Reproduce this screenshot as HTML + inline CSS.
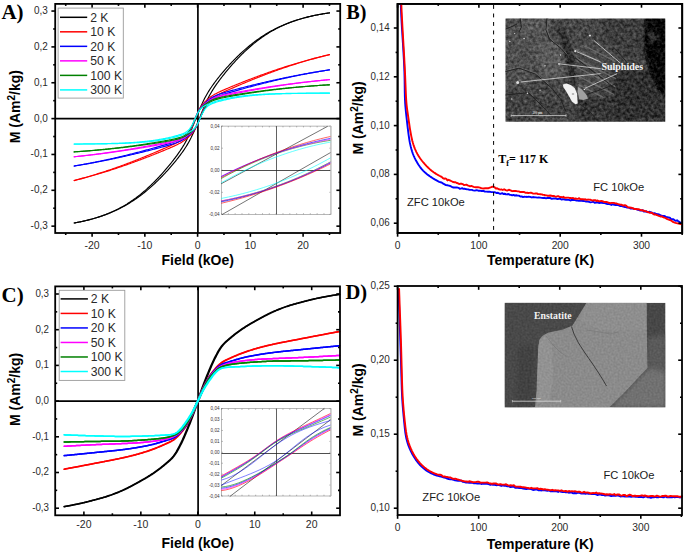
<!DOCTYPE html>
<html><head><meta charset="utf-8"><style>html,body{margin:0;padding:0;background:#fff;width:685px;height:553px;overflow:hidden}svg{display:block}</style></head><body>
<svg width="685" height="553" viewBox="0 0 685 553">
<rect width="685" height="553" fill="#fff"/>
<line x1="197.90" y1="3.90" x2="197.90" y2="233.00" stroke="#000" stroke-width="1.7" />
<line x1="55.20" y1="118.60" x2="340.20" y2="118.60" stroke="#000" stroke-width="1.7" />
<polyline points="74.16,222.99 75.02,222.84 75.87,222.68 76.73,222.52 77.58,222.35 78.43,222.19 79.29,222.02 80.14,221.84 81.00,221.66 81.85,221.48 82.70,221.29 83.56,221.10 84.41,220.91 85.27,220.71 86.12,220.51 86.97,220.30 87.83,220.09 88.68,219.87 89.53,219.65 90.39,219.42 91.24,219.19 92.10,218.96 92.95,218.72 93.80,218.47 94.66,218.22 95.51,217.97 96.37,217.71 97.22,217.44 98.07,217.17 98.93,216.89 99.78,216.61 100.64,216.32 101.49,216.02 102.34,215.72 103.20,215.41 104.05,215.10 104.90,214.78 105.76,214.45 106.61,214.12 107.47,213.78 108.32,213.44 109.17,213.08 110.03,212.72 110.88,212.35 111.74,211.98 112.59,211.60 113.44,211.21 114.30,210.81 115.15,210.41 116.01,209.99 116.86,209.57 117.71,209.14 118.57,208.71 119.42,208.26 120.27,207.81 121.13,207.35 121.98,206.88 122.84,206.40 123.69,205.91 124.54,205.41 125.40,204.91 126.25,204.39 127.11,203.87 127.96,203.33 128.81,202.79 129.67,202.24 130.52,201.67 131.37,201.10 132.23,200.52 133.08,199.93 133.94,199.33 134.79,198.72 135.64,198.09 136.50,197.46 137.35,196.82 138.21,196.17 139.06,195.51 139.91,194.83 140.77,194.15 141.62,193.45 142.48,192.75 143.33,192.03 144.18,191.31 145.04,190.57 145.89,189.82 146.74,189.07 147.60,188.30 148.45,187.52 149.31,186.73 150.16,185.93 151.01,185.11 151.87,184.29 152.72,183.46 153.58,182.62 154.43,181.76 155.28,180.90 156.14,180.02 156.99,179.14 157.85,178.24 158.70,177.33 159.55,176.42 160.41,175.49 161.26,174.55 162.11,173.60 162.97,172.65 163.82,171.68 164.68,170.70 165.53,169.71 166.38,168.71 167.24,167.70 168.09,166.68 168.95,165.65 169.80,164.61 170.65,163.55 171.51,162.49 172.36,161.41 173.22,160.32 174.07,159.21 174.92,158.09 175.78,156.95 176.63,155.80 177.48,154.62 178.34,153.43 179.19,152.20 180.05,150.96 180.90,149.68 181.75,148.36 182.61,147.01 183.46,145.61 184.32,144.17 185.17,142.67 186.02,141.11 186.88,139.49 187.73,137.81 188.58,136.05 189.44,134.21 190.29,132.30 191.15,130.32 192.00,128.26 192.85,126.15 193.71,123.98 194.56,121.78 195.42,119.55 196.27,118.02 197.12,115.79 197.98,113.59 198.83,111.42 199.69,109.31 200.54,107.26 201.39,105.28 202.25,103.37 203.10,101.54 203.95,99.79 204.81,98.11 205.66,96.49 206.52,94.95 207.37,93.46 208.22,92.03 209.08,90.65 209.93,89.31 210.79,88.01 211.64,86.75 212.49,85.52 213.35,84.32 214.20,83.14 215.06,81.99 215.91,80.86 216.76,79.75 217.62,78.65 218.47,77.57 219.32,76.51 220.18,75.46 221.03,74.42 221.89,73.40 222.74,72.38 223.59,71.38 224.45,70.39 225.30,69.41 226.16,68.44 227.01,67.48 227.86,66.53 228.72,65.60 229.57,64.67 230.42,63.75 231.28,62.84 232.13,61.94 232.99,61.05 233.84,60.17 234.69,59.30 235.55,58.44 236.40,57.59 237.26,56.74 238.11,55.91 238.96,55.09 239.82,54.28 240.67,53.48 241.53,52.68 242.38,51.90 243.23,51.13 244.09,50.36 244.94,49.61 245.79,48.87 246.65,48.13 247.50,47.41 248.36,46.69 249.21,45.98 250.06,45.29 250.92,44.60 251.77,43.93 252.63,43.26 253.48,42.60 254.33,41.95 255.19,41.31 256.04,40.68 256.90,40.06 257.75,39.45 258.60,38.85 259.46,38.25 260.31,37.67 261.16,37.09 262.02,36.53 262.87,35.97 263.73,35.42 264.58,34.88 265.43,34.35 266.29,33.82 267.14,33.31 268.00,32.80 268.85,32.31 269.70,31.82 270.56,31.33 271.41,30.86 272.27,30.39 273.12,29.94 273.97,29.49 274.83,29.05 275.68,28.61 276.53,28.18 277.39,27.76 278.24,27.35 279.10,26.95 279.95,26.55 280.80,26.16 281.66,25.78 282.51,25.40 283.37,25.03 284.22,24.67 285.07,24.31 285.93,23.96 286.78,23.62 287.63,23.28 288.49,22.95 289.34,22.63 290.20,22.31 291.05,22.00 291.90,21.69 292.76,21.39 293.61,21.09 294.47,20.81 295.32,20.52 296.17,20.24 297.03,19.97 297.88,19.71 298.74,19.44 299.59,19.19 300.44,18.94 301.30,18.69 302.15,18.45 303.00,18.21 303.86,17.98 304.71,17.75 305.57,17.53 306.42,17.31 307.27,17.10 308.13,16.89 308.98,16.68 309.84,16.48 310.69,16.28 311.54,16.09 312.40,15.90 313.25,15.72 314.11,15.53 314.96,15.36 315.81,15.18 316.67,15.01 317.52,14.85 318.37,14.68 319.23,14.52 320.08,14.37 320.94,14.21 321.79,14.06 322.64,13.92 323.50,13.77 324.35,13.63 325.21,13.50 326.06,13.36 326.91,13.23 327.77,13.10 328.62,12.98 329.48,12.85" fill="none" stroke="#000000" stroke-width="1.15" stroke-linejoin="round" stroke-linecap="round" />
<polyline points="74.16,223.00 75.02,222.85 75.87,222.69 76.73,222.54 77.58,222.37 78.43,222.21 79.29,222.04 80.14,221.86 81.00,221.69 81.85,221.51 82.70,221.32 83.56,221.13 84.41,220.94 85.27,220.74 86.12,220.54 86.97,220.34 87.83,220.13 88.68,219.92 89.53,219.70 90.39,219.48 91.24,219.25 92.10,219.02 92.95,218.78 93.80,218.54 94.66,218.29 95.51,218.04 96.37,217.79 97.22,217.53 98.07,217.26 98.93,216.99 99.78,216.71 100.64,216.43 101.49,216.14 102.34,215.85 103.20,215.55 104.05,215.24 104.90,214.93 105.76,214.61 106.61,214.29 107.47,213.96 108.32,213.62 109.17,213.28 110.03,212.93 110.88,212.57 111.74,212.21 112.59,211.84 113.44,211.47 114.30,211.09 115.15,210.70 116.01,210.30 116.86,209.90 117.71,209.48 118.57,209.07 119.42,208.64 120.27,208.21 121.13,207.76 121.98,207.32 122.84,206.86 123.69,206.39 124.54,205.92 125.40,205.44 126.25,204.95 127.11,204.45 127.96,203.95 128.81,203.44 129.67,202.91 130.52,202.38 131.37,201.84 132.23,201.30 133.08,200.74 133.94,200.17 134.79,199.60 135.64,199.02 136.50,198.42 137.35,197.82 138.21,197.21 139.06,196.59 139.91,195.96 140.77,195.32 141.62,194.68 142.48,194.02 143.33,193.35 144.18,192.68 145.04,191.99 145.89,191.30 146.74,190.59 147.60,189.88 148.45,189.15 149.31,188.42 150.16,187.68 151.01,186.92 151.87,186.16 152.72,185.39 153.58,184.61 154.43,183.82 155.28,183.01 156.14,182.20 156.99,181.38 157.85,180.55 158.70,179.71 159.55,178.86 160.41,178.00 161.26,177.13 162.11,176.25 162.97,175.37 163.82,174.47 164.68,173.56 165.53,172.64 166.38,171.71 167.24,170.77 168.09,169.83 168.95,168.87 169.80,167.90 170.65,166.92 171.51,165.93 172.36,164.93 173.22,163.92 174.07,162.90 174.92,161.86 175.78,160.81 176.63,159.75 177.48,158.67 178.34,157.58 179.19,156.47 180.05,155.34 180.90,154.19 181.75,153.02 182.61,151.82 183.46,150.59 184.32,149.34 185.17,148.04 186.02,146.71 186.88,145.33 187.73,143.91 188.58,142.43 189.44,140.89 190.29,139.28 191.15,137.61 192.00,135.86 192.85,134.04 193.71,132.15 194.56,130.17 195.42,128.13 196.27,126.02 197.12,123.86 197.98,121.66 198.83,119.44 199.69,117.91 200.54,115.68 201.39,113.47 202.25,111.30 203.10,109.18 203.95,107.12 204.81,105.13 205.66,103.21 206.52,101.36 207.37,99.59 208.22,97.90 209.08,96.27 209.93,94.71 210.79,93.20 211.64,91.75 212.49,90.35 213.35,88.99 214.20,87.67 215.06,86.39 215.91,85.14 216.76,83.91 217.62,82.71 218.47,81.54 219.32,80.38 220.18,79.24 221.03,78.12 221.89,77.01 222.74,75.92 223.59,74.84 224.45,73.77 225.30,72.71 226.16,71.67 227.01,70.64 227.86,69.62 228.72,68.61 229.57,67.61 230.42,66.62 231.28,65.64 232.13,64.67 232.99,63.71 233.84,62.76 234.69,61.82 235.55,60.89 236.40,59.97 237.26,59.07 238.11,58.17 238.96,57.28 239.82,56.40 240.67,55.54 241.53,54.68 242.38,53.84 243.23,53.00 244.09,52.18 244.94,51.37 245.79,50.57 246.65,49.77 247.50,48.99 248.36,48.22 249.21,47.46 250.06,46.71 250.92,45.98 251.77,45.25 252.63,44.53 253.48,43.83 254.33,43.13 255.19,42.45 256.04,41.77 256.90,41.11 257.75,40.45 258.60,39.81 259.46,39.18 260.31,38.56 261.16,37.94 262.02,37.34 262.87,36.75 263.73,36.16 264.58,35.59 265.43,35.03 266.29,34.47 267.14,33.93 268.00,33.40 268.85,32.87 269.70,32.35 270.56,31.85 271.41,31.35 272.27,30.86 273.12,30.38 273.97,29.91 274.83,29.45 275.68,28.99 276.53,28.54 277.39,28.11 278.24,27.68 279.10,27.26 279.95,26.84 280.80,26.44 281.66,26.04 282.51,25.65 283.37,25.26 284.22,24.89 285.07,24.52 285.93,24.16 286.78,23.81 287.63,23.46 288.49,23.12 289.34,22.78 290.20,22.46 291.05,22.14 291.90,21.82 292.76,21.51 293.61,21.21 294.47,20.92 295.32,20.63 296.17,20.34 297.03,20.06 297.88,19.79 298.74,19.52 299.59,19.26 300.44,19.01 301.30,18.76 302.15,18.51 303.00,18.27 303.86,18.03 304.71,17.80 305.57,17.58 306.42,17.35 307.27,17.14 308.13,16.93 308.98,16.72 309.84,16.51 310.69,16.31 311.54,16.12 312.40,15.93 313.25,15.74 314.11,15.56 314.96,15.38 315.81,15.20 316.67,15.03 317.52,14.86 318.37,14.70 319.23,14.54 320.08,14.38 320.94,14.23 321.79,14.08 322.64,13.93 323.50,13.79 324.35,13.64 325.21,13.51 326.06,13.37 326.91,13.24 327.77,13.11 328.62,12.98 329.48,12.86" fill="none" stroke="#000000" stroke-width="1.15" stroke-linejoin="round" stroke-linecap="round" />
<polyline points="74.16,180.44 75.02,180.22 75.87,179.99 76.73,179.77 77.58,179.55 78.43,179.32 79.29,179.09 80.14,178.86 81.00,178.63 81.85,178.40 82.70,178.17 83.56,177.93 84.41,177.69 85.27,177.45 86.12,177.21 86.97,176.97 87.83,176.72 88.68,176.48 89.53,176.23 90.39,175.98 91.24,175.73 92.10,175.48 92.95,175.22 93.80,174.97 94.66,174.71 95.51,174.45 96.37,174.19 97.22,173.92 98.07,173.66 98.93,173.39 99.78,173.12 100.64,172.85 101.49,172.58 102.34,172.31 103.20,172.04 104.05,171.76 104.90,171.48 105.76,171.20 106.61,170.92 107.47,170.64 108.32,170.35 109.17,170.06 110.03,169.78 110.88,169.48 111.74,169.19 112.59,168.90 113.44,168.60 114.30,168.31 115.15,168.01 116.01,167.71 116.86,167.41 117.71,167.10 118.57,166.80 119.42,166.49 120.27,166.19 121.13,165.88 121.98,165.56 122.84,165.25 123.69,164.94 124.54,164.62 125.40,164.30 126.25,163.99 127.11,163.66 127.96,163.34 128.81,163.02 129.67,162.69 130.52,162.37 131.37,162.04 132.23,161.71 133.08,161.38 133.94,161.05 134.79,160.71 135.64,160.38 136.50,160.04 137.35,159.70 138.21,159.37 139.06,159.02 139.91,158.68 140.77,158.34 141.62,158.00 142.48,157.65 143.33,157.30 144.18,156.96 145.04,156.61 145.89,156.26 146.74,155.90 147.60,155.55 148.45,155.20 149.31,154.84 150.16,154.49 151.01,154.13 151.87,153.77 152.72,153.41 153.58,153.05 154.43,152.69 155.28,152.33 156.14,151.96 156.99,151.60 157.85,151.24 158.70,150.87 159.55,150.50 160.41,150.13 161.26,149.76 162.11,149.39 162.97,149.02 163.82,148.65 164.68,148.28 165.53,147.90 166.38,147.52 167.24,147.15 168.09,146.77 168.95,146.39 169.80,146.00 170.65,145.61 171.51,145.23 172.36,144.83 173.22,144.43 174.07,144.03 174.92,143.62 175.78,143.21 176.63,142.78 177.48,142.35 178.34,141.90 179.19,141.44 180.05,140.96 180.90,140.46 181.75,139.93 182.61,139.37 183.46,138.77 184.32,138.11 185.17,137.39 186.02,136.58 186.88,135.68 187.73,134.65 188.58,133.48 189.44,132.14 190.29,130.63 191.15,128.93 192.00,127.04 192.85,124.99 193.71,122.81 194.56,120.56 195.42,118.28 196.27,116.05 197.12,113.92 197.98,111.94 198.83,110.13 199.69,108.52 200.54,107.10 201.39,105.85 202.25,104.73 203.10,103.73 203.95,102.80 204.81,101.94 205.66,101.11 206.52,100.32 207.37,99.56 208.22,98.83 209.08,98.13 209.93,97.46 210.79,96.83 211.64,96.23 212.49,95.66 213.35,95.12 214.20,94.61 215.06,94.12 215.91,93.65 216.76,93.20 217.62,92.77 218.47,92.35 219.32,91.94 220.18,91.53 221.03,91.14 221.89,90.75 222.74,90.37 223.59,89.99 224.45,89.62 225.30,89.25 226.16,88.88 227.01,88.52 227.86,88.16 228.72,87.80 229.57,87.44 230.42,87.08 231.28,86.73 232.13,86.38 232.99,86.03 233.84,85.68 234.69,85.33 235.55,84.98 236.40,84.63 237.26,84.29 238.11,83.94 238.96,83.60 239.82,83.26 240.67,82.92 241.53,82.58 242.38,82.24 243.23,81.90 244.09,81.57 244.94,81.23 245.79,80.90 246.65,80.57 247.50,80.24 248.36,79.91 249.21,79.58 250.06,79.25 250.92,78.92 251.77,78.60 252.63,78.27 253.48,77.95 254.33,77.63 255.19,77.31 256.04,76.99 256.90,76.67 257.75,76.35 258.60,76.04 259.46,75.72 260.31,75.41 261.16,75.10 262.02,74.79 262.87,74.48 263.73,74.17 264.58,73.86 265.43,73.56 266.29,73.25 267.14,72.95 268.00,72.65 268.85,72.35 269.70,72.05 270.56,71.75 271.41,71.45 272.27,71.16 273.12,70.87 273.97,70.57 274.83,70.28 275.68,69.99 276.53,69.70 277.39,69.42 278.24,69.13 279.10,68.85 279.95,68.56 280.80,68.28 281.66,68.00 282.51,67.72 283.37,67.45 284.22,67.17 285.07,66.89 285.93,66.62 286.78,66.35 287.63,66.08 288.49,65.81 289.34,65.54 290.20,65.28 291.05,65.01 291.90,64.75 292.76,64.49 293.61,64.22 294.47,63.97 295.32,63.71 296.17,63.45 297.03,63.20 297.88,62.94 298.74,62.69 299.59,62.44 300.44,62.19 301.30,61.94 302.15,61.70 303.00,61.45 303.86,61.21 304.71,60.97 305.57,60.73 306.42,60.49 307.27,60.25 308.13,60.02 308.98,59.78 309.84,59.55 310.69,59.32 311.54,59.09 312.40,58.86 313.25,58.63 314.11,58.40 314.96,58.18 315.81,57.96 316.67,57.73 317.52,57.51 318.37,57.30 319.23,57.08 320.08,56.86 320.94,56.65 321.79,56.44 322.64,56.22 323.50,56.01 324.35,55.81 325.21,55.60 326.06,55.39 326.91,55.19 327.77,54.99 328.62,54.78 329.48,54.58" fill="none" stroke="#ff0000" stroke-width="1.15" stroke-linejoin="round" stroke-linecap="round" />
<polyline points="74.16,180.58 75.02,180.36 75.87,180.15 76.73,179.93 77.58,179.71 78.43,179.49 79.29,179.27 80.14,179.05 81.00,178.82 81.85,178.60 82.70,178.37 83.56,178.14 84.41,177.91 85.27,177.68 86.12,177.45 86.97,177.21 87.83,176.98 88.68,176.74 89.53,176.50 90.39,176.26 91.24,176.02 92.10,175.77 92.95,175.53 93.80,175.28 94.66,175.04 95.51,174.79 96.37,174.54 97.22,174.29 98.07,174.03 98.93,173.78 99.78,173.52 100.64,173.26 101.49,173.01 102.34,172.74 103.20,172.48 104.05,172.22 104.90,171.95 105.76,171.69 106.61,171.42 107.47,171.15 108.32,170.88 109.17,170.61 110.03,170.34 110.88,170.06 111.74,169.79 112.59,169.51 113.44,169.23 114.30,168.95 115.15,168.67 116.01,168.39 116.86,168.10 117.71,167.82 118.57,167.53 119.42,167.24 120.27,166.95 121.13,166.66 121.98,166.37 122.84,166.08 123.69,165.78 124.54,165.48 125.40,165.19 126.25,164.89 127.11,164.59 127.96,164.29 128.81,163.98 129.67,163.68 130.52,163.37 131.37,163.07 132.23,162.76 133.08,162.45 133.94,162.14 134.79,161.83 135.64,161.51 136.50,161.20 137.35,160.88 138.21,160.57 139.06,160.25 139.91,159.93 140.77,159.61 141.62,159.29 142.48,158.96 143.33,158.64 144.18,158.31 145.04,157.99 145.89,157.66 146.74,157.33 147.60,157.00 148.45,156.67 149.31,156.34 150.16,156.01 151.01,155.67 151.87,155.33 152.72,155.00 153.58,154.66 154.43,154.32 155.28,153.98 156.14,153.64 156.99,153.30 157.85,152.95 158.70,152.61 159.55,152.26 160.41,151.91 161.26,151.57 162.11,151.22 162.97,150.86 163.82,150.51 164.68,150.16 165.53,149.80 166.38,149.44 167.24,149.08 168.09,148.72 168.95,148.36 169.80,147.99 170.65,147.62 171.51,147.25 172.36,146.87 173.22,146.49 174.07,146.11 174.92,145.71 175.78,145.31 176.63,144.90 177.48,144.48 178.34,144.05 179.19,143.60 180.05,143.14 180.90,142.65 181.75,142.14 182.61,141.61 183.46,141.04 184.32,140.45 185.17,139.82 186.02,139.15 186.88,138.45 187.73,137.72 188.58,136.97 189.44,136.18 190.29,135.36 191.15,134.50 192.00,133.58 192.85,132.59 193.71,131.49 194.56,130.25 195.42,128.85 196.27,127.26 197.12,125.48 197.98,123.52 198.83,121.40 199.69,119.18 200.54,116.90 201.39,114.64 202.25,112.45 203.10,110.39 203.95,108.48 204.81,106.76 205.66,105.22 206.52,103.87 207.37,102.68 208.22,101.63 209.08,100.72 209.93,99.90 210.79,99.17 211.64,98.51 212.49,97.90 213.35,97.33 214.20,96.80 215.06,96.29 215.91,95.81 216.76,95.35 217.62,94.90 218.47,94.46 219.32,94.04 220.18,93.62 221.03,93.21 221.89,92.81 222.74,92.41 223.59,92.02 224.45,91.63 225.30,91.24 226.16,90.86 227.01,90.48 227.86,90.10 228.72,89.72 229.57,89.34 230.42,88.97 231.28,88.59 232.13,88.22 232.99,87.85 233.84,87.48 234.69,87.11 235.55,86.74 236.40,86.37 237.26,86.01 238.11,85.64 238.96,85.28 239.82,84.91 240.67,84.55 241.53,84.19 242.38,83.83 243.23,83.47 244.09,83.11 244.94,82.75 245.79,82.40 246.65,82.04 247.50,81.69 248.36,81.34 249.21,80.99 250.06,80.63 250.92,80.29 251.77,79.94 252.63,79.59 253.48,79.24 254.33,78.90 255.19,78.56 256.04,78.21 256.90,77.87 257.75,77.53 258.60,77.20 259.46,76.86 260.31,76.53 261.16,76.19 262.02,75.86 262.87,75.53 263.73,75.20 264.58,74.87 265.43,74.54 266.29,74.22 267.14,73.89 268.00,73.57 268.85,73.25 269.70,72.93 270.56,72.62 271.41,72.30 272.27,71.98 273.12,71.67 273.97,71.36 274.83,71.05 275.68,70.74 276.53,70.44 277.39,70.13 278.24,69.83 279.10,69.53 279.95,69.22 280.80,68.93 281.66,68.63 282.51,68.33 283.37,68.04 284.22,67.75 285.07,67.46 285.93,67.17 286.78,66.88 287.63,66.60 288.49,66.31 289.34,66.03 290.20,65.75 291.05,65.47 291.90,65.20 292.76,64.92 293.61,64.65 294.47,64.38 295.32,64.11 296.17,63.84 297.03,63.57 297.88,63.31 298.74,63.04 299.59,62.78 300.44,62.52 301.30,62.26 302.15,62.01 303.00,61.75 303.86,61.50 304.71,61.25 305.57,61.00 306.42,60.75 307.27,60.50 308.13,60.26 308.98,60.02 309.84,59.78 310.69,59.54 311.54,59.30 312.40,59.06 313.25,58.83 314.11,58.59 314.96,58.36 315.81,58.13 316.67,57.91 317.52,57.68 318.37,57.45 319.23,57.23 320.08,57.01 320.94,56.79 321.79,56.57 322.64,56.35 323.50,56.14 324.35,55.93 325.21,55.71 326.06,55.50 326.91,55.30 327.77,55.09 328.62,54.88 329.48,54.68" fill="none" stroke="#ff0000" stroke-width="1.15" stroke-linejoin="round" stroke-linecap="round" />
<polyline points="74.16,165.97 75.02,165.82 75.87,165.68 76.73,165.54 77.58,165.39 78.43,165.24 79.29,165.10 80.14,164.95 81.00,164.80 81.85,164.65 82.70,164.49 83.56,164.34 84.41,164.19 85.27,164.03 86.12,163.88 86.97,163.72 87.83,163.56 88.68,163.40 89.53,163.24 90.39,163.08 91.24,162.91 92.10,162.75 92.95,162.58 93.80,162.41 94.66,162.25 95.51,162.08 96.37,161.91 97.22,161.74 98.07,161.56 98.93,161.39 99.78,161.22 100.64,161.04 101.49,160.86 102.34,160.68 103.20,160.50 104.05,160.32 104.90,160.14 105.76,159.96 106.61,159.78 107.47,159.59 108.32,159.40 109.17,159.22 110.03,159.03 110.88,158.84 111.74,158.65 112.59,158.46 113.44,158.26 114.30,158.07 115.15,157.87 116.01,157.68 116.86,157.48 117.71,157.28 118.57,157.08 119.42,156.88 120.27,156.68 121.13,156.48 121.98,156.27 122.84,156.07 123.69,155.86 124.54,155.66 125.40,155.45 126.25,155.24 127.11,155.03 127.96,154.82 128.81,154.60 129.67,154.39 130.52,154.18 131.37,153.96 132.23,153.75 133.08,153.53 133.94,153.31 134.79,153.09 135.64,152.87 136.50,152.65 137.35,152.43 138.21,152.21 139.06,151.98 139.91,151.76 140.77,151.53 141.62,151.31 142.48,151.08 143.33,150.85 144.18,150.62 145.04,150.39 145.89,150.16 146.74,149.93 147.60,149.70 148.45,149.47 149.31,149.23 150.16,149.00 151.01,148.76 151.87,148.53 152.72,148.29 153.58,148.05 154.43,147.82 155.28,147.58 156.14,147.34 156.99,147.10 157.85,146.85 158.70,146.61 159.55,146.37 160.41,146.13 161.26,145.88 162.11,145.63 162.97,145.39 163.82,145.14 164.68,144.89 165.53,144.64 166.38,144.38 167.24,144.13 168.09,143.87 168.95,143.61 169.80,143.35 170.65,143.08 171.51,142.81 172.36,142.53 173.22,142.25 174.07,141.96 174.92,141.66 175.78,141.36 176.63,141.04 177.48,140.70 178.34,140.35 179.19,139.99 180.05,139.59 180.90,139.18 181.75,138.72 182.61,138.23 183.46,137.69 184.32,137.10 185.17,136.43 186.02,135.67 186.88,134.81 187.73,133.83 188.58,132.70 189.44,131.41 190.29,129.94 191.15,128.30 192.00,126.48 192.85,124.52 193.71,122.44 194.56,120.30 195.42,118.15 196.27,116.06 197.12,114.08 197.98,112.26 198.83,110.60 199.69,109.14 200.54,107.85 201.39,106.71 202.25,105.70 203.10,104.78 203.95,103.92 204.81,103.11 205.66,102.34 206.52,101.59 207.37,100.87 208.22,100.18 209.08,99.52 209.93,98.90 210.79,98.32 211.64,97.77 212.49,97.27 213.35,96.80 214.20,96.36 215.06,95.95 215.91,95.57 216.76,95.21 217.62,94.87 218.47,94.55 219.32,94.24 220.18,93.94 221.03,93.65 221.89,93.37 222.74,93.10 223.59,92.84 224.45,92.58 225.30,92.33 226.16,92.07 227.01,91.83 227.86,91.58 228.72,91.34 229.57,91.10 230.42,90.87 231.28,90.63 232.13,90.40 232.99,90.17 233.84,89.94 234.69,89.71 235.55,89.48 236.40,89.26 237.26,89.03 238.11,88.81 238.96,88.58 239.82,88.36 240.67,88.14 241.53,87.92 242.38,87.70 243.23,87.48 244.09,87.26 244.94,87.04 245.79,86.82 246.65,86.61 247.50,86.39 248.36,86.18 249.21,85.96 250.06,85.75 250.92,85.54 251.77,85.33 252.63,85.12 253.48,84.91 254.33,84.70 255.19,84.49 256.04,84.29 256.90,84.08 257.75,83.87 258.60,83.67 259.46,83.47 260.31,83.26 261.16,83.06 262.02,82.86 262.87,82.66 263.73,82.46 264.58,82.26 265.43,82.06 266.29,81.87 267.14,81.67 268.00,81.47 268.85,81.28 269.70,81.09 270.56,80.89 271.41,80.70 272.27,80.51 273.12,80.32 273.97,80.13 274.83,79.94 275.68,79.75 276.53,79.57 277.39,79.38 278.24,79.20 279.10,79.01 279.95,78.83 280.80,78.65 281.66,78.47 282.51,78.29 283.37,78.11 284.22,77.93 285.07,77.75 285.93,77.58 286.78,77.40 287.63,77.23 288.49,77.05 289.34,76.88 290.20,76.71 291.05,76.54 291.90,76.36 292.76,76.20 293.61,76.03 294.47,75.86 295.32,75.69 296.17,75.53 297.03,75.36 297.88,75.20 298.74,75.04 299.59,74.88 300.44,74.71 301.30,74.55 302.15,74.40 303.00,74.24 303.86,74.08 304.71,73.92 305.57,73.77 306.42,73.62 307.27,73.46 308.13,73.31 308.98,73.16 309.84,73.01 310.69,72.86 311.54,72.71 312.40,72.56 313.25,72.42 314.11,72.27 314.96,72.13 315.81,71.98 316.67,71.84 317.52,71.70 318.37,71.56 319.23,71.42 320.08,71.28 320.94,71.14 321.79,71.00 322.64,70.87 323.50,70.73 324.35,70.60 325.21,70.46 326.06,70.33 326.91,70.20 327.77,70.07 328.62,69.94 329.48,69.81" fill="none" stroke="#0000ff" stroke-width="1.15" stroke-linejoin="round" stroke-linecap="round" />
<polyline points="74.16,166.08 75.02,165.94 75.87,165.80 76.73,165.66 77.58,165.52 78.43,165.38 79.29,165.23 80.14,165.09 81.00,164.95 81.85,164.80 82.70,164.65 83.56,164.51 84.41,164.36 85.27,164.21 86.12,164.06 86.97,163.91 87.83,163.76 88.68,163.60 89.53,163.45 90.39,163.29 91.24,163.14 92.10,162.98 92.95,162.82 93.80,162.66 94.66,162.50 95.51,162.34 96.37,162.18 97.22,162.02 98.07,161.86 98.93,161.69 99.78,161.53 100.64,161.36 101.49,161.19 102.34,161.02 103.20,160.85 104.05,160.68 104.90,160.51 105.76,160.34 106.61,160.17 107.47,160.00 108.32,159.82 109.17,159.64 110.03,159.47 110.88,159.29 111.74,159.11 112.59,158.93 113.44,158.75 114.30,158.57 115.15,158.39 116.01,158.21 116.86,158.02 117.71,157.84 118.57,157.65 119.42,157.47 120.27,157.28 121.13,157.09 121.98,156.90 122.84,156.71 123.69,156.52 124.54,156.33 125.40,156.14 126.25,155.94 127.11,155.75 127.96,155.55 128.81,155.36 129.67,155.16 130.52,154.96 131.37,154.76 132.23,154.56 133.08,154.36 133.94,154.16 134.79,153.96 135.64,153.76 136.50,153.55 137.35,153.35 138.21,153.14 139.06,152.94 139.91,152.73 140.77,152.52 141.62,152.32 142.48,152.11 143.33,151.90 144.18,151.68 145.04,151.47 145.89,151.26 146.74,151.05 147.60,150.83 148.45,150.62 149.31,150.40 150.16,150.18 151.01,149.97 151.87,149.75 152.72,149.53 153.58,149.31 154.43,149.09 155.28,148.87 156.14,148.64 156.99,148.42 157.85,148.20 158.70,147.97 159.55,147.74 160.41,147.52 161.26,147.29 162.11,147.06 162.97,146.83 163.82,146.59 164.68,146.36 165.53,146.12 166.38,145.88 167.24,145.64 168.09,145.40 168.95,145.15 169.80,144.90 170.65,144.65 171.51,144.39 172.36,144.13 173.22,143.86 174.07,143.58 174.92,143.29 175.78,143.00 176.63,142.69 177.48,142.37 178.34,142.03 179.19,141.67 180.05,141.29 180.90,140.89 181.75,140.45 182.61,139.99 183.46,139.49 184.32,138.95 185.17,138.37 186.02,137.75 186.88,137.10 187.73,136.41 188.58,135.69 189.44,134.95 190.29,134.18 191.15,133.37 192.00,132.53 192.85,131.61 193.71,130.61 194.56,129.49 195.42,128.22 196.27,126.77 197.12,125.15 197.98,123.34 198.83,121.37 199.69,119.29 200.54,117.15 201.39,115.01 202.25,112.92 203.10,110.94 203.95,109.10 204.81,107.44 205.66,105.95 206.52,104.64 207.37,103.49 208.22,102.49 209.08,101.62 209.93,100.85 210.79,100.18 211.64,99.57 212.49,99.03 213.35,98.53 214.20,98.07 215.06,97.65 215.91,97.26 216.76,96.89 217.62,96.54 218.47,96.20 219.32,95.88 220.18,95.57 221.03,95.27 221.89,94.98 222.74,94.70 223.59,94.42 224.45,94.15 225.30,93.88 226.16,93.62 227.01,93.36 227.86,93.10 228.72,92.84 229.57,92.59 230.42,92.34 231.28,92.09 232.13,91.84 232.99,91.59 233.84,91.35 234.69,91.10 235.55,90.86 236.40,90.62 237.26,90.37 238.11,90.13 238.96,89.89 239.82,89.65 240.67,89.41 241.53,89.17 242.38,88.94 243.23,88.70 244.09,88.46 244.94,88.23 245.79,87.99 246.65,87.76 247.50,87.53 248.36,87.30 249.21,87.06 250.06,86.83 250.92,86.60 251.77,86.38 252.63,86.15 253.48,85.92 254.33,85.69 255.19,85.47 256.04,85.24 256.90,85.02 257.75,84.80 258.60,84.58 259.46,84.35 260.31,84.13 261.16,83.91 262.02,83.70 262.87,83.48 263.73,83.26 264.58,83.05 265.43,82.83 266.29,82.62 267.14,82.41 268.00,82.20 268.85,81.99 269.70,81.78 270.56,81.57 271.41,81.36 272.27,81.15 273.12,80.95 273.97,80.75 274.83,80.54 275.68,80.34 276.53,80.14 277.39,79.94 278.24,79.74 279.10,79.54 279.95,79.35 280.80,79.15 281.66,78.96 282.51,78.77 283.37,78.57 284.22,78.38 285.07,78.19 285.93,78.00 286.78,77.82 287.63,77.63 288.49,77.45 289.34,77.26 290.20,77.08 291.05,76.90 291.90,76.72 292.76,76.54 293.61,76.36 294.47,76.18 295.32,76.00 296.17,75.83 297.03,75.66 297.88,75.48 298.74,75.31 299.59,75.14 300.44,74.97 301.30,74.80 302.15,74.64 303.00,74.47 303.86,74.31 304.71,74.14 305.57,73.98 306.42,73.82 307.27,73.66 308.13,73.50 308.98,73.34 309.84,73.19 310.69,73.03 311.54,72.88 312.40,72.72 313.25,72.57 314.11,72.42 314.96,72.27 315.81,72.12 316.67,71.97 317.52,71.83 318.37,71.68 319.23,71.54 320.08,71.39 320.94,71.25 321.79,71.11 322.64,70.97 323.50,70.83 324.35,70.69 325.21,70.55 326.06,70.42 326.91,70.28 327.77,70.15 328.62,70.02 329.48,69.88" fill="none" stroke="#0000ff" stroke-width="1.15" stroke-linejoin="round" stroke-linecap="round" />
<polyline points="74.16,156.73 75.02,156.64 75.87,156.55 76.73,156.46 77.58,156.37 78.43,156.28 79.29,156.19 80.14,156.09 81.00,156.00 81.85,155.90 82.70,155.81 83.56,155.71 84.41,155.61 85.27,155.52 86.12,155.42 86.97,155.32 87.83,155.22 88.68,155.11 89.53,155.01 90.39,154.91 91.24,154.80 92.10,154.70 92.95,154.59 93.80,154.49 94.66,154.38 95.51,154.27 96.37,154.16 97.22,154.05 98.07,153.94 98.93,153.83 99.78,153.71 100.64,153.60 101.49,153.49 102.34,153.37 103.20,153.25 104.05,153.14 104.90,153.02 105.76,152.90 106.61,152.78 107.47,152.66 108.32,152.54 109.17,152.41 110.03,152.29 110.88,152.17 111.74,152.04 112.59,151.92 113.44,151.79 114.30,151.66 115.15,151.53 116.01,151.40 116.86,151.27 117.71,151.14 118.57,151.01 119.42,150.88 120.27,150.74 121.13,150.61 121.98,150.47 122.84,150.34 123.69,150.20 124.54,150.06 125.40,149.92 126.25,149.78 127.11,149.64 127.96,149.50 128.81,149.36 129.67,149.21 130.52,149.07 131.37,148.93 132.23,148.78 133.08,148.63 133.94,148.49 134.79,148.34 135.64,148.19 136.50,148.04 137.35,147.89 138.21,147.74 139.06,147.59 139.91,147.44 140.77,147.29 141.62,147.13 142.48,146.98 143.33,146.82 144.18,146.67 145.04,146.51 145.89,146.35 146.74,146.20 147.60,146.04 148.45,145.88 149.31,145.72 150.16,145.56 151.01,145.40 151.87,145.24 152.72,145.07 153.58,144.91 154.43,144.75 155.28,144.58 156.14,144.42 156.99,144.25 157.85,144.08 158.70,143.92 159.55,143.75 160.41,143.58 161.26,143.41 162.11,143.24 162.97,143.06 163.82,142.89 164.68,142.71 165.53,142.54 166.38,142.36 167.24,142.17 168.09,141.99 168.95,141.80 169.80,141.61 170.65,141.41 171.51,141.21 172.36,141.00 173.22,140.79 174.07,140.57 174.92,140.34 175.78,140.10 176.63,139.84 177.48,139.57 178.34,139.28 179.19,138.97 180.05,138.64 180.90,138.28 181.75,137.88 182.61,137.44 183.46,136.95 184.32,136.40 185.17,135.78 186.02,135.07 186.88,134.25 187.73,133.31 188.58,132.22 189.44,130.98 190.29,129.56 191.15,127.97 192.00,126.21 192.85,124.31 193.71,122.30 194.56,120.24 195.42,118.18 196.27,116.18 197.12,114.28 197.98,112.55 198.83,110.99 199.69,109.61 200.54,108.40 201.39,107.34 202.25,106.39 203.10,105.54 203.95,104.74 204.81,103.99 205.66,103.26 206.52,102.56 207.37,101.88 208.22,101.23 209.08,100.62 209.93,100.04 210.79,99.50 211.64,99.00 212.49,98.54 213.35,98.12 214.20,97.73 215.06,97.38 215.91,97.05 216.76,96.74 217.62,96.46 218.47,96.20 219.32,95.95 220.18,95.71 221.03,95.49 221.89,95.28 222.74,95.07 223.59,94.87 224.45,94.68 225.30,94.49 226.16,94.31 227.01,94.13 227.86,93.96 228.72,93.78 229.57,93.62 230.42,93.45 231.28,93.28 232.13,93.12 232.99,92.96 233.84,92.80 234.69,92.64 235.55,92.48 236.40,92.32 237.26,92.17 238.11,92.01 238.96,91.86 239.82,91.71 240.67,91.55 241.53,91.40 242.38,91.25 243.23,91.10 244.09,90.95 244.94,90.80 245.79,90.66 246.65,90.51 247.50,90.36 248.36,90.22 249.21,90.07 250.06,89.93 250.92,89.78 251.77,89.64 252.63,89.50 253.48,89.36 254.33,89.22 255.19,89.08 256.04,88.94 256.90,88.80 257.75,88.66 258.60,88.52 259.46,88.39 260.31,88.25 261.16,88.11 262.02,87.98 262.87,87.85 263.73,87.71 264.58,87.58 265.43,87.45 266.29,87.32 267.14,87.19 268.00,87.06 268.85,86.93 269.70,86.80 270.56,86.67 271.41,86.54 272.27,86.42 273.12,86.29 273.97,86.17 274.83,86.04 275.68,85.92 276.53,85.79 277.39,85.67 278.24,85.55 279.10,85.43 279.95,85.31 280.80,85.19 281.66,85.07 282.51,84.95 283.37,84.84 284.22,84.72 285.07,84.61 285.93,84.49 286.78,84.38 287.63,84.26 288.49,84.15 289.34,84.04 290.20,83.93 291.05,83.82 291.90,83.71 292.76,83.60 293.61,83.49 294.47,83.38 295.32,83.27 296.17,83.17 297.03,83.06 297.88,82.96 298.74,82.85 299.59,82.75 300.44,82.65 301.30,82.55 302.15,82.44 303.00,82.34 303.86,82.24 304.71,82.15 305.57,82.05 306.42,81.95 307.27,81.85 308.13,81.76 308.98,81.66 309.84,81.57 310.69,81.47 311.54,81.38 312.40,81.29 313.25,81.20 314.11,81.10 314.96,81.01 315.81,80.92 316.67,80.84 317.52,80.75 318.37,80.66 319.23,80.57 320.08,80.49 320.94,80.40 321.79,80.32 322.64,80.23 323.50,80.15 324.35,80.07 325.21,79.98 326.06,79.90 326.91,79.82 327.77,79.74 328.62,79.66 329.48,79.58" fill="none" stroke="#ff00ff" stroke-width="1.15" stroke-linejoin="round" stroke-linecap="round" />
<polyline points="74.16,156.81 75.02,156.72 75.87,156.64 76.73,156.55 77.58,156.46 78.43,156.38 79.29,156.29 80.14,156.20 81.00,156.11 81.85,156.02 82.70,155.92 83.56,155.83 84.41,155.74 85.27,155.64 86.12,155.55 86.97,155.45 87.83,155.36 88.68,155.26 89.53,155.16 90.39,155.07 91.24,154.97 92.10,154.87 92.95,154.77 93.80,154.67 94.66,154.56 95.51,154.46 96.37,154.36 97.22,154.25 98.07,154.15 98.93,154.04 99.78,153.94 100.64,153.83 101.49,153.72 102.34,153.62 103.20,153.51 104.05,153.40 104.90,153.29 105.76,153.17 106.61,153.06 107.47,152.95 108.32,152.84 109.17,152.72 110.03,152.61 110.88,152.49 111.74,152.38 112.59,152.26 113.44,152.14 114.30,152.02 115.15,151.90 116.01,151.78 116.86,151.66 117.71,151.54 118.57,151.42 119.42,151.30 120.27,151.17 121.13,151.05 121.98,150.92 122.84,150.80 123.69,150.67 124.54,150.55 125.40,150.42 126.25,150.29 127.11,150.16 127.96,150.03 128.81,149.90 129.67,149.77 130.52,149.64 131.37,149.50 132.23,149.37 133.08,149.24 133.94,149.10 134.79,148.97 135.64,148.83 136.50,148.69 137.35,148.56 138.21,148.42 139.06,148.28 139.91,148.14 140.77,148.00 141.62,147.86 142.48,147.72 143.33,147.57 144.18,147.43 145.04,147.29 145.89,147.14 146.74,147.00 147.60,146.85 148.45,146.71 149.31,146.56 150.16,146.41 151.01,146.26 151.87,146.11 152.72,145.97 153.58,145.81 154.43,145.66 155.28,145.51 156.14,145.36 156.99,145.20 157.85,145.05 158.70,144.89 159.55,144.74 160.41,144.58 161.26,144.42 162.11,144.26 162.97,144.10 163.82,143.94 164.68,143.77 165.53,143.60 166.38,143.43 167.24,143.26 168.09,143.09 168.95,142.91 169.80,142.73 170.65,142.54 171.51,142.35 172.36,142.15 173.22,141.95 174.07,141.74 174.92,141.51 175.78,141.28 176.63,141.03 177.48,140.77 178.34,140.49 179.19,140.19 180.05,139.86 180.90,139.51 181.75,139.13 182.61,138.71 183.46,138.26 184.32,137.76 185.17,137.23 186.02,136.65 186.88,136.04 187.73,135.40 188.58,134.72 189.44,134.02 190.29,133.30 191.15,132.55 192.00,131.76 192.85,130.91 193.71,129.98 194.56,128.93 195.42,127.74 196.27,126.38 197.12,124.84 197.98,123.13 198.83,121.25 199.69,119.26 200.54,117.20 201.39,115.13 202.25,113.12 203.10,111.20 203.95,109.42 204.81,107.81 205.66,106.38 206.52,105.11 207.37,104.01 208.22,103.05 209.08,102.22 209.93,101.50 210.79,100.87 211.64,100.31 212.49,99.82 213.35,99.37 214.20,98.97 215.06,98.60 215.91,98.26 216.76,97.95 217.62,97.66 218.47,97.39 219.32,97.13 220.18,96.89 221.03,96.66 221.89,96.43 222.74,96.22 223.59,96.01 224.45,95.81 225.30,95.61 226.16,95.42 227.01,95.23 227.86,95.05 228.72,94.87 229.57,94.69 230.42,94.51 231.28,94.33 232.13,94.16 232.99,93.98 233.84,93.81 234.69,93.64 235.55,93.47 236.40,93.30 237.26,93.14 238.11,92.97 238.96,92.80 239.82,92.64 240.67,92.47 241.53,92.31 242.38,92.15 243.23,91.98 244.09,91.82 244.94,91.66 245.79,91.50 246.65,91.34 247.50,91.18 248.36,91.02 249.21,90.86 250.06,90.71 250.92,90.55 251.77,90.40 252.63,90.24 253.48,90.09 254.33,89.93 255.19,89.78 256.04,89.63 256.90,89.48 257.75,89.32 258.60,89.17 259.46,89.03 260.31,88.88 261.16,88.73 262.02,88.58 262.87,88.44 263.73,88.29 264.58,88.15 265.43,88.00 266.29,87.86 267.14,87.72 268.00,87.58 268.85,87.43 269.70,87.29 270.56,87.16 271.41,87.02 272.27,86.88 273.12,86.74 273.97,86.61 274.83,86.47 275.68,86.34 276.53,86.21 277.39,86.07 278.24,85.94 279.10,85.81 279.95,85.68 280.80,85.55 281.66,85.43 282.51,85.30 283.37,85.17 284.22,85.05 285.07,84.92 285.93,84.80 286.78,84.68 287.63,84.55 288.49,84.43 289.34,84.31 290.20,84.19 291.05,84.08 291.90,83.96 292.76,83.84 293.61,83.73 294.47,83.61 295.32,83.50 296.17,83.39 297.03,83.27 297.88,83.16 298.74,83.05 299.59,82.94 300.44,82.83 301.30,82.73 302.15,82.62 303.00,82.51 303.86,82.41 304.71,82.30 305.57,82.20 306.42,82.10 307.27,82.00 308.13,81.89 308.98,81.79 309.84,81.70 310.69,81.60 311.54,81.50 312.40,81.40 313.25,81.31 314.11,81.21 314.96,81.12 315.81,81.02 316.67,80.93 317.52,80.84 318.37,80.75 319.23,80.66 320.08,80.57 320.94,80.48 321.79,80.39 322.64,80.30 323.50,80.22 324.35,80.13 325.21,80.05 326.06,79.96 326.91,79.88 327.77,79.80 328.62,79.72 329.48,79.64" fill="none" stroke="#ff00ff" stroke-width="1.15" stroke-linejoin="round" stroke-linecap="round" />
<polyline points="74.16,151.85 75.02,151.79 75.87,151.73 76.73,151.67 77.58,151.61 78.43,151.55 79.29,151.49 80.14,151.42 81.00,151.36 81.85,151.30 82.70,151.23 83.56,151.17 84.41,151.10 85.27,151.03 86.12,150.97 86.97,150.90 87.83,150.83 88.68,150.76 89.53,150.69 90.39,150.61 91.24,150.54 92.10,150.47 92.95,150.39 93.80,150.32 94.66,150.24 95.51,150.16 96.37,150.08 97.22,150.01 98.07,149.93 98.93,149.84 99.78,149.76 100.64,149.68 101.49,149.60 102.34,149.51 103.20,149.43 104.05,149.34 104.90,149.25 105.76,149.16 106.61,149.08 107.47,148.99 108.32,148.89 109.17,148.80 110.03,148.71 110.88,148.62 111.74,148.52 112.59,148.43 113.44,148.33 114.30,148.23 115.15,148.13 116.01,148.03 116.86,147.93 117.71,147.83 118.57,147.73 119.42,147.62 120.27,147.52 121.13,147.41 121.98,147.31 122.84,147.20 123.69,147.09 124.54,146.98 125.40,146.87 126.25,146.76 127.11,146.65 127.96,146.54 128.81,146.42 129.67,146.31 130.52,146.19 131.37,146.08 132.23,145.96 133.08,145.84 133.94,145.72 134.79,145.60 135.64,145.48 136.50,145.35 137.35,145.23 138.21,145.11 139.06,144.98 139.91,144.86 140.77,144.73 141.62,144.60 142.48,144.47 143.33,144.34 144.18,144.21 145.04,144.08 145.89,143.95 146.74,143.82 147.60,143.68 148.45,143.55 149.31,143.41 150.16,143.28 151.01,143.14 151.87,143.00 152.72,142.86 153.58,142.72 154.43,142.58 155.28,142.44 156.14,142.30 156.99,142.16 157.85,142.01 158.70,141.87 159.55,141.72 160.41,141.57 161.26,141.43 162.11,141.28 162.97,141.13 163.82,140.98 164.68,140.83 165.53,140.67 166.38,140.52 167.24,140.36 168.09,140.20 168.95,140.04 169.80,139.87 170.65,139.70 171.51,139.53 172.36,139.35 173.22,139.17 174.07,138.98 174.92,138.79 175.78,138.58 176.63,138.37 177.48,138.14 178.34,137.90 179.19,137.64 180.05,137.36 180.90,137.05 181.75,136.71 182.61,136.34 183.46,135.92 184.32,135.45 185.17,134.90 186.02,134.28 186.88,133.55 187.73,132.69 188.58,131.70 189.44,130.54 190.29,129.21 191.15,127.70 192.00,126.02 192.85,124.18 193.71,122.24 194.56,120.22 195.42,118.20 196.27,116.24 197.12,114.38 197.98,112.67 198.83,111.14 199.69,109.79 200.54,108.62 201.39,107.61 202.25,106.73 203.10,105.94 203.95,105.22 204.81,104.54 205.66,103.90 206.52,103.29 207.37,102.70 208.22,102.14 209.08,101.61 209.93,101.11 210.79,100.65 211.64,100.22 212.49,99.84 213.35,99.48 214.20,99.15 215.06,98.85 215.91,98.58 216.76,98.32 217.62,98.09 218.47,97.86 219.32,97.65 220.18,97.46 221.03,97.27 221.89,97.08 222.74,96.91 223.59,96.74 224.45,96.57 225.30,96.41 226.16,96.26 227.01,96.10 227.86,95.95 228.72,95.80 229.57,95.65 230.42,95.51 231.28,95.37 232.13,95.22 232.99,95.08 233.84,94.94 234.69,94.81 235.55,94.67 236.40,94.53 237.26,94.40 238.11,94.27 238.96,94.13 239.82,94.00 240.67,93.87 241.53,93.74 242.38,93.61 243.23,93.48 244.09,93.35 244.94,93.23 245.79,93.10 246.65,92.98 247.50,92.85 248.36,92.73 249.21,92.61 250.06,92.49 250.92,92.36 251.77,92.24 252.63,92.13 253.48,92.01 254.33,91.89 255.19,91.77 256.04,91.66 256.90,91.54 257.75,91.43 258.60,91.32 259.46,91.20 260.31,91.09 261.16,90.98 262.02,90.87 262.87,90.76 263.73,90.66 264.58,90.55 265.43,90.44 266.29,90.34 267.14,90.23 268.00,90.13 268.85,90.03 269.70,89.92 270.56,89.82 271.41,89.72 272.27,89.62 273.12,89.53 273.97,89.43 274.83,89.33 275.68,89.24 276.53,89.14 277.39,89.05 278.24,88.95 279.10,88.86 279.95,88.77 280.80,88.68 281.66,88.59 282.51,88.50 283.37,88.41 284.22,88.32 285.07,88.24 285.93,88.15 286.78,88.07 287.63,87.98 288.49,87.90 289.34,87.82 290.20,87.73 291.05,87.65 291.90,87.57 292.76,87.49 293.61,87.42 294.47,87.34 295.32,87.26 296.17,87.18 297.03,87.11 297.88,87.03 298.74,86.96 299.59,86.89 300.44,86.81 301.30,86.74 302.15,86.67 303.00,86.60 303.86,86.53 304.71,86.46 305.57,86.40 306.42,86.33 307.27,86.26 308.13,86.20 308.98,86.13 309.84,86.07 310.69,86.00 311.54,85.94 312.40,85.88 313.25,85.82 314.11,85.76 314.96,85.70 315.81,85.64 316.67,85.58 317.52,85.52 318.37,85.46 319.23,85.41 320.08,85.35 320.94,85.29 321.79,85.24 322.64,85.19 323.50,85.13 324.35,85.08 325.21,85.03 326.06,84.98 326.91,84.92 327.77,84.87 328.62,84.82 329.48,84.77" fill="none" stroke="#008000" stroke-width="1.15" stroke-linejoin="round" stroke-linecap="round" />
<polyline points="74.16,151.91 75.02,151.86 75.87,151.80 76.73,151.74 77.58,151.69 78.43,151.63 79.29,151.57 80.14,151.51 81.00,151.45 81.85,151.39 82.70,151.33 83.56,151.27 84.41,151.20 85.27,151.14 86.12,151.08 86.97,151.01 87.83,150.95 88.68,150.88 89.53,150.81 90.39,150.74 91.24,150.68 92.10,150.61 92.95,150.54 93.80,150.47 94.66,150.39 95.51,150.32 96.37,150.25 97.22,150.17 98.07,150.10 98.93,150.02 99.78,149.95 100.64,149.87 101.49,149.79 102.34,149.72 103.20,149.64 104.05,149.56 104.90,149.48 105.76,149.39 106.61,149.31 107.47,149.23 108.32,149.14 109.17,149.06 110.03,148.97 110.88,148.89 111.74,148.80 112.59,148.71 113.44,148.62 114.30,148.53 115.15,148.44 116.01,148.35 116.86,148.26 117.71,148.16 118.57,148.07 119.42,147.98 120.27,147.88 121.13,147.78 121.98,147.69 122.84,147.59 123.69,147.49 124.54,147.39 125.40,147.29 126.25,147.19 127.11,147.08 127.96,146.98 128.81,146.87 129.67,146.77 130.52,146.66 131.37,146.56 132.23,146.45 133.08,146.34 133.94,146.23 134.79,146.12 135.64,146.01 136.50,145.90 137.35,145.78 138.21,145.67 139.06,145.56 139.91,145.44 140.77,145.32 141.62,145.21 142.48,145.09 143.33,144.97 144.18,144.85 145.04,144.73 145.89,144.61 146.74,144.48 147.60,144.36 148.45,144.24 149.31,144.11 150.16,143.99 151.01,143.86 151.87,143.73 152.72,143.60 153.58,143.48 154.43,143.35 155.28,143.21 156.14,143.08 156.99,142.95 157.85,142.82 158.70,142.68 159.55,142.55 160.41,142.41 161.26,142.27 162.11,142.13 162.97,141.99 163.82,141.85 164.68,141.71 165.53,141.56 166.38,141.42 167.24,141.27 168.09,141.12 168.95,140.96 169.80,140.81 170.65,140.64 171.51,140.48 172.36,140.31 173.22,140.14 174.07,139.96 174.92,139.77 175.78,139.57 176.63,139.36 177.48,139.14 178.34,138.90 179.19,138.65 180.05,138.38 180.90,138.08 181.75,137.76 182.61,137.41 183.46,137.02 184.32,136.60 185.17,136.15 186.02,135.65 186.88,135.13 187.73,134.57 188.58,133.98 189.44,133.37 190.29,132.73 191.15,132.06 192.00,131.35 192.85,130.57 193.71,129.70 194.56,128.70 195.42,127.55 196.27,126.23 197.12,124.72 197.98,123.03 198.83,121.19 199.69,119.23 200.54,117.21 201.39,115.19 202.25,113.24 203.10,111.39 203.95,109.69 204.81,108.16 205.66,106.80 206.52,105.63 207.37,104.61 208.22,103.75 209.08,103.00 209.93,102.36 210.79,101.81 211.64,101.33 212.49,100.91 213.35,100.53 214.20,100.19 215.06,99.88 215.91,99.59 216.76,99.33 217.62,99.09 218.47,98.86 219.32,98.64 220.18,98.43 221.03,98.24 221.89,98.05 222.74,97.87 223.59,97.69 224.45,97.52 225.30,97.35 226.16,97.18 227.01,97.02 227.86,96.86 228.72,96.70 229.57,96.55 230.42,96.39 231.28,96.24 232.13,96.09 232.99,95.94 233.84,95.79 234.69,95.64 235.55,95.50 236.40,95.35 237.26,95.21 238.11,95.06 238.96,94.92 239.82,94.78 240.67,94.63 241.53,94.49 242.38,94.35 243.23,94.22 244.09,94.08 244.94,93.94 245.79,93.80 246.65,93.67 247.50,93.53 248.36,93.40 249.21,93.27 250.06,93.13 250.92,93.00 251.77,92.87 252.63,92.74 253.48,92.61 254.33,92.49 255.19,92.36 256.04,92.23 256.90,92.11 257.75,91.98 258.60,91.86 259.46,91.74 260.31,91.62 261.16,91.50 262.02,91.38 262.87,91.26 263.73,91.14 264.58,91.02 265.43,90.91 266.29,90.79 267.14,90.68 268.00,90.56 268.85,90.45 269.70,90.34 270.56,90.23 271.41,90.12 272.27,90.01 273.12,89.90 273.97,89.80 274.83,89.69 275.68,89.59 276.53,89.48 277.39,89.38 278.24,89.28 279.10,89.18 279.95,89.08 280.80,88.98 281.66,88.88 282.51,88.79 283.37,88.69 284.22,88.60 285.07,88.50 285.93,88.41 286.78,88.32 287.63,88.23 288.49,88.13 289.34,88.05 290.20,87.96 291.05,87.87 291.90,87.78 292.76,87.70 293.61,87.61 294.47,87.53 295.32,87.45 296.17,87.37 297.03,87.28 297.88,87.20 298.74,87.13 299.59,87.05 300.44,86.97 301.30,86.89 302.15,86.82 303.00,86.74 303.86,86.67 304.71,86.60 305.57,86.52 306.42,86.45 307.27,86.38 308.13,86.31 308.98,86.24 309.84,86.17 310.69,86.11 311.54,86.04 312.40,85.97 313.25,85.91 314.11,85.85 314.96,85.78 315.81,85.72 316.67,85.66 317.52,85.60 318.37,85.54 319.23,85.48 320.08,85.42 320.94,85.36 321.79,85.30 322.64,85.25 323.50,85.19 324.35,85.14 325.21,85.08 326.06,85.03 326.91,84.97 327.77,84.92 328.62,84.87 329.48,84.82" fill="none" stroke="#008000" stroke-width="1.15" stroke-linejoin="round" stroke-linecap="round" />
<polyline points="74.16,144.01 75.02,144.01 75.87,144.00 76.73,144.00 77.58,143.99 78.43,143.98 79.29,143.98 80.14,143.97 81.00,143.96 81.85,143.96 82.70,143.95 83.56,143.94 84.41,143.93 85.27,143.92 86.12,143.92 86.97,143.91 87.83,143.90 88.68,143.89 89.53,143.88 90.39,143.87 91.24,143.86 92.10,143.84 92.95,143.83 93.80,143.82 94.66,143.81 95.51,143.80 96.37,143.78 97.22,143.77 98.07,143.75 98.93,143.74 99.78,143.72 100.64,143.71 101.49,143.69 102.34,143.68 103.20,143.66 104.05,143.64 104.90,143.62 105.76,143.60 106.61,143.58 107.47,143.56 108.32,143.54 109.17,143.52 110.03,143.49 110.88,143.47 111.74,143.44 112.59,143.42 113.44,143.39 114.30,143.36 115.15,143.34 116.01,143.31 116.86,143.28 117.71,143.24 118.57,143.21 119.42,143.18 120.27,143.14 121.13,143.11 121.98,143.07 122.84,143.03 123.69,142.99 124.54,142.95 125.40,142.91 126.25,142.86 127.11,142.82 127.96,142.77 128.81,142.72 129.67,142.67 130.52,142.62 131.37,142.57 132.23,142.51 133.08,142.45 133.94,142.39 134.79,142.33 135.64,142.27 136.50,142.20 137.35,142.14 138.21,142.07 139.06,142.00 139.91,141.92 140.77,141.85 141.62,141.77 142.48,141.69 143.33,141.60 144.18,141.52 145.04,141.43 145.89,141.33 146.74,141.24 147.60,141.14 148.45,141.04 149.31,140.94 150.16,140.83 151.01,140.72 151.87,140.61 152.72,140.49 153.58,140.37 154.43,140.25 155.28,140.12 156.14,139.99 156.99,139.86 157.85,139.72 158.70,139.58 159.55,139.44 160.41,139.29 161.26,139.14 162.11,138.98 162.97,138.82 163.82,138.66 164.68,138.49 165.53,138.32 166.38,138.14 167.24,137.96 168.09,137.78 168.95,137.59 169.80,137.40 170.65,137.20 171.51,136.99 172.36,136.79 173.22,136.57 174.07,136.36 174.92,136.13 175.78,135.90 176.63,135.67 177.48,135.43 178.34,135.17 179.19,134.91 180.05,134.64 180.90,134.36 181.75,134.05 182.61,133.73 183.46,133.38 184.32,132.99 185.17,132.56 186.02,132.06 186.88,131.48 187.73,130.80 188.58,130.00 189.44,129.06 190.29,127.95 191.15,126.66 192.00,125.19 192.85,123.56 193.71,121.78 194.56,119.92 195.42,118.01 196.27,116.13 197.12,114.34 197.98,112.69 198.83,111.23 199.69,109.97 200.54,108.91 201.39,108.05 202.25,107.33 203.10,106.74 203.95,106.23 204.81,105.78 205.66,105.36 206.52,104.96 207.37,104.56 208.22,104.18 209.08,103.81 209.93,103.44 210.79,103.09 211.64,102.76 212.49,102.44 213.35,102.14 214.20,101.85 215.06,101.57 215.91,101.30 216.76,101.05 217.62,100.80 218.47,100.57 219.32,100.34 220.18,100.11 221.03,99.90 221.89,99.68 222.74,99.48 223.59,99.28 224.45,99.08 225.30,98.89 226.16,98.71 227.01,98.53 227.86,98.35 228.72,98.18 229.57,98.01 230.42,97.85 231.28,97.69 232.13,97.53 232.99,97.38 233.84,97.23 234.69,97.09 235.55,96.95 236.40,96.82 237.26,96.69 238.11,96.56 238.96,96.43 239.82,96.31 240.67,96.20 241.53,96.09 242.38,95.98 243.23,95.87 244.09,95.77 244.94,95.67 245.79,95.57 246.65,95.48 247.50,95.39 248.36,95.30 249.21,95.22 250.06,95.13 250.92,95.06 251.77,94.98 252.63,94.91 253.48,94.84 254.33,94.77 255.19,94.70 256.04,94.64 256.90,94.58 257.75,94.52 258.60,94.46 259.46,94.40 260.31,94.35 261.16,94.30 262.02,94.25 262.87,94.20 263.73,94.16 264.58,94.11 265.43,94.07 266.29,94.03 267.14,93.99 268.00,93.95 268.85,93.92 269.70,93.88 270.56,93.85 271.41,93.82 272.27,93.79 273.12,93.76 273.97,93.73 274.83,93.70 275.68,93.67 276.53,93.65 277.39,93.62 278.24,93.60 279.10,93.58 279.95,93.56 280.80,93.54 281.66,93.52 282.51,93.50 283.37,93.48 284.22,93.46 285.07,93.45 285.93,93.43 286.78,93.41 287.63,93.40 288.49,93.38 289.34,93.37 290.20,93.36 291.05,93.35 291.90,93.33 292.76,93.32 293.61,93.31 294.47,93.30 295.32,93.29 296.17,93.28 297.03,93.27 297.88,93.26 298.74,93.25 299.59,93.25 300.44,93.24 301.30,93.23 302.15,93.22 303.00,93.22 303.86,93.21 304.71,93.20 305.57,93.20 306.42,93.19 307.27,93.19 308.13,93.18 308.98,93.18 309.84,93.17 310.69,93.17 311.54,93.16 312.40,93.16 313.25,93.15 314.11,93.15 314.96,93.14 315.81,93.14 316.67,93.14 317.52,93.13 318.37,93.13 319.23,93.13 320.08,93.12 320.94,93.12 321.79,93.12 322.64,93.12 323.50,93.11 324.35,93.11 325.21,93.11 326.06,93.11 326.91,93.11 327.77,93.10 328.62,93.10 329.48,93.10" fill="none" stroke="#00ffff" stroke-width="1.15" stroke-linejoin="round" stroke-linecap="round" />
<polyline points="74.16,144.08 75.02,144.08 75.87,144.07 76.73,144.07 77.58,144.07 78.43,144.06 79.29,144.06 80.14,144.06 81.00,144.05 81.85,144.05 82.70,144.04 83.56,144.04 84.41,144.03 85.27,144.03 86.12,144.03 86.97,144.02 87.83,144.01 88.68,144.01 89.53,144.00 90.39,144.00 91.24,143.99 92.10,143.98 92.95,143.98 93.80,143.97 94.66,143.96 95.51,143.96 96.37,143.95 97.22,143.94 98.07,143.93 98.93,143.92 99.78,143.91 100.64,143.90 101.49,143.89 102.34,143.88 103.20,143.87 104.05,143.86 104.90,143.84 105.76,143.83 106.61,143.82 107.47,143.80 108.32,143.79 109.17,143.77 110.03,143.76 110.88,143.74 111.74,143.72 112.59,143.70 113.44,143.69 114.30,143.67 115.15,143.64 116.01,143.62 116.86,143.60 117.71,143.58 118.57,143.55 119.42,143.53 120.27,143.50 121.13,143.47 121.98,143.45 122.84,143.42 123.69,143.39 124.54,143.35 125.40,143.32 126.25,143.29 127.11,143.25 127.96,143.21 128.81,143.17 129.67,143.13 130.52,143.09 131.37,143.05 132.23,143.00 133.08,142.95 133.94,142.91 134.79,142.85 135.64,142.80 136.50,142.75 137.35,142.69 138.21,142.63 139.06,142.57 139.91,142.51 140.77,142.44 141.62,142.37 142.48,142.30 143.33,142.23 144.18,142.15 145.04,142.07 145.89,141.99 146.74,141.91 147.60,141.82 148.45,141.73 149.31,141.64 150.16,141.54 151.01,141.44 151.87,141.34 152.72,141.24 153.58,141.13 154.43,141.02 155.28,140.90 156.14,140.78 156.99,140.66 157.85,140.53 158.70,140.40 159.55,140.26 160.41,140.13 161.26,139.98 162.11,139.84 162.97,139.69 163.82,139.53 164.68,139.37 165.53,139.21 166.38,139.04 167.24,138.87 168.09,138.69 168.95,138.51 169.80,138.33 170.65,138.14 171.51,137.94 172.36,137.74 173.22,137.54 174.07,137.33 174.92,137.11 175.78,136.89 176.63,136.66 177.48,136.42 178.34,136.18 179.19,135.93 180.05,135.66 180.90,135.39 181.75,135.10 182.61,134.80 183.46,134.48 184.32,134.15 185.17,133.80 186.02,133.44 186.88,133.06 187.73,132.68 188.58,132.29 189.44,131.89 190.29,131.47 191.15,131.02 192.00,130.52 192.85,129.94 193.71,129.24 194.56,128.39 195.42,127.36 196.27,126.13 197.12,124.69 197.98,123.06 198.83,121.28 199.69,119.41 200.54,117.50 201.39,115.63 202.25,113.84 203.10,112.19 203.95,110.70 204.81,109.39 205.66,108.26 206.52,107.30 207.37,106.48 208.22,105.79 209.08,105.20 209.93,104.70 210.79,104.26 211.64,103.86 212.49,103.51 213.35,103.18 214.20,102.88 215.06,102.59 215.91,102.32 216.76,102.06 217.62,101.80 218.47,101.56 219.32,101.32 220.18,101.09 221.03,100.87 221.89,100.65 222.74,100.44 223.59,100.23 224.45,100.03 225.30,99.83 226.16,99.63 227.01,99.44 227.86,99.26 228.72,99.08 229.57,98.90 230.42,98.73 231.28,98.56 232.13,98.40 232.99,98.24 233.84,98.08 234.69,97.93 235.55,97.78 236.40,97.63 237.26,97.49 238.11,97.35 238.96,97.22 239.82,97.09 240.67,96.96 241.53,96.84 242.38,96.72 243.23,96.60 244.09,96.49 244.94,96.38 245.79,96.27 246.65,96.17 247.50,96.07 248.36,95.97 249.21,95.88 250.06,95.78 250.92,95.69 251.77,95.61 252.63,95.52 253.48,95.44 254.33,95.36 255.19,95.29 256.04,95.21 256.90,95.14 257.75,95.07 258.60,95.00 259.46,94.94 260.31,94.87 261.16,94.81 262.02,94.75 262.87,94.70 263.73,94.64 264.58,94.59 265.43,94.53 266.29,94.48 267.14,94.44 268.00,94.39 268.85,94.34 269.70,94.30 270.56,94.26 271.41,94.21 272.27,94.17 273.12,94.13 273.97,94.10 274.83,94.06 275.68,94.03 276.53,93.99 277.39,93.96 278.24,93.93 279.10,93.90 279.95,93.87 280.80,93.84 281.66,93.81 282.51,93.78 283.37,93.76 284.22,93.73 285.07,93.71 285.93,93.69 286.78,93.66 287.63,93.64 288.49,93.62 289.34,93.60 290.20,93.58 291.05,93.56 291.90,93.54 292.76,93.53 293.61,93.51 294.47,93.49 295.32,93.48 296.17,93.46 297.03,93.45 297.88,93.43 298.74,93.42 299.59,93.41 300.44,93.39 301.30,93.38 302.15,93.37 303.00,93.36 303.86,93.35 304.71,93.33 305.57,93.32 306.42,93.31 307.27,93.30 308.13,93.29 308.98,93.29 309.84,93.28 310.69,93.27 311.54,93.26 312.40,93.25 313.25,93.25 314.11,93.24 314.96,93.23 315.81,93.22 316.67,93.22 317.52,93.21 318.37,93.21 319.23,93.20 320.08,93.19 320.94,93.19 321.79,93.18 322.64,93.18 323.50,93.17 324.35,93.17 325.21,93.16 326.06,93.16 326.91,93.16 327.77,93.15 328.62,93.15 329.48,93.14" fill="none" stroke="#00ffff" stroke-width="1.15" stroke-linejoin="round" stroke-linecap="round" />
<rect x="55.20" y="3.90" width="285.00" height="229.10" fill="none" stroke="#000" stroke-width="1.8"/>
<line x1="92.10" y1="233.00" x2="92.10" y2="236.80" stroke="#000" stroke-width="1.6" />
<line x1="92.10" y1="3.90" x2="92.10" y2="7.70" stroke="#000" stroke-width="1.6" />
<line x1="144.85" y1="233.00" x2="144.85" y2="236.80" stroke="#000" stroke-width="1.6" />
<line x1="144.85" y1="3.90" x2="144.85" y2="7.70" stroke="#000" stroke-width="1.6" />
<line x1="197.60" y1="233.00" x2="197.60" y2="236.80" stroke="#000" stroke-width="1.6" />
<line x1="197.60" y1="3.90" x2="197.60" y2="7.70" stroke="#000" stroke-width="1.6" />
<line x1="250.35" y1="233.00" x2="250.35" y2="236.80" stroke="#000" stroke-width="1.6" />
<line x1="250.35" y1="3.90" x2="250.35" y2="7.70" stroke="#000" stroke-width="1.6" />
<line x1="303.10" y1="233.00" x2="303.10" y2="236.80" stroke="#000" stroke-width="1.6" />
<line x1="303.10" y1="3.90" x2="303.10" y2="7.70" stroke="#000" stroke-width="1.6" />
<line x1="65.72" y1="233.00" x2="65.72" y2="235.00" stroke="#000" stroke-width="1.6" />
<line x1="65.72" y1="3.90" x2="65.72" y2="5.90" stroke="#000" stroke-width="1.6" />
<line x1="118.47" y1="233.00" x2="118.47" y2="235.00" stroke="#000" stroke-width="1.6" />
<line x1="118.47" y1="3.90" x2="118.47" y2="5.90" stroke="#000" stroke-width="1.6" />
<line x1="171.22" y1="233.00" x2="171.22" y2="235.00" stroke="#000" stroke-width="1.6" />
<line x1="171.22" y1="3.90" x2="171.22" y2="5.90" stroke="#000" stroke-width="1.6" />
<line x1="223.97" y1="233.00" x2="223.97" y2="235.00" stroke="#000" stroke-width="1.6" />
<line x1="223.97" y1="3.90" x2="223.97" y2="5.90" stroke="#000" stroke-width="1.6" />
<line x1="276.73" y1="233.00" x2="276.73" y2="235.00" stroke="#000" stroke-width="1.6" />
<line x1="276.73" y1="3.90" x2="276.73" y2="5.90" stroke="#000" stroke-width="1.6" />
<line x1="329.48" y1="233.00" x2="329.48" y2="235.00" stroke="#000" stroke-width="1.6" />
<line x1="329.48" y1="3.90" x2="329.48" y2="5.90" stroke="#000" stroke-width="1.6" />
<line x1="55.20" y1="226.15" x2="51.40" y2="226.15" stroke="#000" stroke-width="1.6" />
<line x1="340.20" y1="226.15" x2="336.40" y2="226.15" stroke="#000" stroke-width="1.6" />
<line x1="55.20" y1="190.30" x2="51.40" y2="190.30" stroke="#000" stroke-width="1.6" />
<line x1="340.20" y1="190.30" x2="336.40" y2="190.30" stroke="#000" stroke-width="1.6" />
<line x1="55.20" y1="154.45" x2="51.40" y2="154.45" stroke="#000" stroke-width="1.6" />
<line x1="340.20" y1="154.45" x2="336.40" y2="154.45" stroke="#000" stroke-width="1.6" />
<line x1="55.20" y1="118.60" x2="51.40" y2="118.60" stroke="#000" stroke-width="1.6" />
<line x1="340.20" y1="118.60" x2="336.40" y2="118.60" stroke="#000" stroke-width="1.6" />
<line x1="55.20" y1="82.75" x2="51.40" y2="82.75" stroke="#000" stroke-width="1.6" />
<line x1="340.20" y1="82.75" x2="336.40" y2="82.75" stroke="#000" stroke-width="1.6" />
<line x1="55.20" y1="46.90" x2="51.40" y2="46.90" stroke="#000" stroke-width="1.6" />
<line x1="340.20" y1="46.90" x2="336.40" y2="46.90" stroke="#000" stroke-width="1.6" />
<line x1="55.20" y1="11.05" x2="51.40" y2="11.05" stroke="#000" stroke-width="1.6" />
<line x1="340.20" y1="11.05" x2="336.40" y2="11.05" stroke="#000" stroke-width="1.6" />
<line x1="55.20" y1="208.22" x2="53.20" y2="208.22" stroke="#000" stroke-width="1.6" />
<line x1="340.20" y1="208.22" x2="338.20" y2="208.22" stroke="#000" stroke-width="1.6" />
<line x1="55.20" y1="172.38" x2="53.20" y2="172.38" stroke="#000" stroke-width="1.6" />
<line x1="340.20" y1="172.38" x2="338.20" y2="172.38" stroke="#000" stroke-width="1.6" />
<line x1="55.20" y1="136.53" x2="53.20" y2="136.53" stroke="#000" stroke-width="1.6" />
<line x1="340.20" y1="136.53" x2="338.20" y2="136.53" stroke="#000" stroke-width="1.6" />
<line x1="55.20" y1="100.67" x2="53.20" y2="100.67" stroke="#000" stroke-width="1.6" />
<line x1="340.20" y1="100.67" x2="338.20" y2="100.67" stroke="#000" stroke-width="1.6" />
<line x1="55.20" y1="64.82" x2="53.20" y2="64.82" stroke="#000" stroke-width="1.6" />
<line x1="340.20" y1="64.82" x2="338.20" y2="64.82" stroke="#000" stroke-width="1.6" />
<line x1="55.20" y1="28.97" x2="53.20" y2="28.97" stroke="#000" stroke-width="1.6" />
<line x1="340.20" y1="28.97" x2="338.20" y2="28.97" stroke="#000" stroke-width="1.6" />
<text transform="translate(47.80,13.95) scale(0.95,1)" font-family='"Liberation Sans", sans-serif' font-size="10.5" text-anchor="end" fill="#2a2a2a">0,3</text>
<text transform="translate(47.80,49.80) scale(0.95,1)" font-family='"Liberation Sans", sans-serif' font-size="10.5" text-anchor="end" fill="#2a2a2a">0,2</text>
<text transform="translate(47.80,85.65) scale(0.95,1)" font-family='"Liberation Sans", sans-serif' font-size="10.5" text-anchor="end" fill="#2a2a2a">0,1</text>
<text transform="translate(47.80,121.50) scale(0.95,1)" font-family='"Liberation Sans", sans-serif' font-size="10.5" text-anchor="end" fill="#2a2a2a">0,0</text>
<text transform="translate(47.80,157.35) scale(0.95,1)" font-family='"Liberation Sans", sans-serif' font-size="10.5" text-anchor="end" fill="#2a2a2a">-0,1</text>
<text transform="translate(47.80,193.20) scale(0.95,1)" font-family='"Liberation Sans", sans-serif' font-size="10.5" text-anchor="end" fill="#2a2a2a">-0,2</text>
<text transform="translate(47.80,229.05) scale(0.95,1)" font-family='"Liberation Sans", sans-serif' font-size="10.5" text-anchor="end" fill="#2a2a2a">-0,3</text>
<text transform="translate(92.10,248.80) scale(1.0,1)" font-family='"Liberation Sans", sans-serif' font-size="10.5" text-anchor="middle" fill="#2a2a2a">-20</text>
<text transform="translate(144.85,248.80) scale(1.0,1)" font-family='"Liberation Sans", sans-serif' font-size="10.5" text-anchor="middle" fill="#2a2a2a">-10</text>
<text transform="translate(197.60,248.80) scale(1.0,1)" font-family='"Liberation Sans", sans-serif' font-size="10.5" text-anchor="middle" fill="#2a2a2a">0</text>
<text transform="translate(250.35,248.80) scale(1.0,1)" font-family='"Liberation Sans", sans-serif' font-size="10.5" text-anchor="middle" fill="#2a2a2a">10</text>
<text transform="translate(303.10,248.80) scale(1.0,1)" font-family='"Liberation Sans", sans-serif' font-size="10.5" text-anchor="middle" fill="#2a2a2a">20</text>
<text x="197.70" y="265.00" font-family='"Liberation Sans", sans-serif' font-size="14" font-weight="bold" text-anchor="middle" fill="#000" >Field (kOe)</text>
<text transform="translate(20.2,106.7) rotate(-90)" font-family='"Liberation Sans", sans-serif' font-size="14" font-weight="bold" text-anchor="middle" fill="#000">M (Am<tspan dy="-5.5" font-size="10">2</tspan><tspan dy="5.5">/kg)</tspan></text>
<text x="1.40" y="19.00" font-family='"Liberation Serif", serif' font-size="21" font-weight="bold" text-anchor="start" fill="#000" >A)</text>
<rect x="58.1" y="8.1" width="65.19999999999999" height="90.0" fill="#fff" stroke="#9a9a9a" stroke-width="0.9"/>
<line x1="60.00" y1="17.30" x2="87.20" y2="17.30" stroke="#000" stroke-width="1.5" />
<text x="90.20" y="21.70" font-family='"Liberation Sans", sans-serif' font-size="12.2" font-weight="normal" text-anchor="start" fill="#2a2a2a" >2 K</text>
<line x1="60.00" y1="31.82" x2="87.20" y2="31.82" stroke="#ff0000" stroke-width="1.5" />
<text x="90.20" y="36.22" font-family='"Liberation Sans", sans-serif' font-size="12.2" font-weight="normal" text-anchor="start" fill="#2a2a2a" >10 K</text>
<line x1="60.00" y1="46.34" x2="87.20" y2="46.34" stroke="#0000ff" stroke-width="1.5" />
<text x="90.20" y="50.74" font-family='"Liberation Sans", sans-serif' font-size="12.2" font-weight="normal" text-anchor="start" fill="#2a2a2a" >20 K</text>
<line x1="60.00" y1="60.86" x2="87.20" y2="60.86" stroke="#ff00ff" stroke-width="1.5" />
<text x="90.20" y="65.26" font-family='"Liberation Sans", sans-serif' font-size="12.2" font-weight="normal" text-anchor="start" fill="#2a2a2a" >50 K</text>
<line x1="60.00" y1="75.38" x2="87.20" y2="75.38" stroke="#008000" stroke-width="1.5" />
<text x="90.20" y="79.78" font-family='"Liberation Sans", sans-serif' font-size="12.2" font-weight="normal" text-anchor="start" fill="#2a2a2a" >100 K</text>
<line x1="60.00" y1="89.90" x2="87.20" y2="89.90" stroke="#00ffff" stroke-width="1.5" />
<text x="90.20" y="94.30" font-family='"Liberation Sans", sans-serif' font-size="12.2" font-weight="normal" text-anchor="start" fill="#2a2a2a" >300 K</text>
<rect x="221.5" y="126.1" width="109.30000000000001" height="88.30000000000001" fill="#fff" stroke="#888" stroke-width="0.6"/>
<text x="219.50" y="127.70" font-family='"Liberation Sans", sans-serif' font-size="4.6" font-weight="normal" text-anchor="end" fill="#333" >0,04</text>
<line x1="221.50" y1="126.10" x2="223.00" y2="126.10" stroke="#777" stroke-width="0.5" />
<line x1="330.80" y1="126.10" x2="329.30" y2="126.10" stroke="#777" stroke-width="0.5" />
<text x="219.50" y="149.78" font-family='"Liberation Sans", sans-serif' font-size="4.6" font-weight="normal" text-anchor="end" fill="#333" >0,02</text>
<line x1="221.50" y1="148.18" x2="223.00" y2="148.18" stroke="#777" stroke-width="0.5" />
<line x1="330.80" y1="148.18" x2="329.30" y2="148.18" stroke="#777" stroke-width="0.5" />
<text x="219.50" y="171.85" font-family='"Liberation Sans", sans-serif' font-size="4.6" font-weight="normal" text-anchor="end" fill="#333" >0,00</text>
<line x1="221.50" y1="170.25" x2="223.00" y2="170.25" stroke="#777" stroke-width="0.5" />
<line x1="330.80" y1="170.25" x2="329.30" y2="170.25" stroke="#777" stroke-width="0.5" />
<text x="219.50" y="193.92" font-family='"Liberation Sans", sans-serif' font-size="4.6" font-weight="normal" text-anchor="end" fill="#333" >-0,02</text>
<line x1="221.50" y1="192.32" x2="223.00" y2="192.32" stroke="#777" stroke-width="0.5" />
<line x1="330.80" y1="192.32" x2="329.30" y2="192.32" stroke="#777" stroke-width="0.5" />
<text x="219.50" y="216.00" font-family='"Liberation Sans", sans-serif' font-size="4.6" font-weight="normal" text-anchor="end" fill="#333" >-0,04</text>
<line x1="221.50" y1="214.40" x2="223.00" y2="214.40" stroke="#777" stroke-width="0.5" />
<line x1="330.80" y1="214.40" x2="329.30" y2="214.40" stroke="#777" stroke-width="0.5" />
<line x1="221.50" y1="126.10" x2="221.50" y2="127.40" stroke="#777" stroke-width="0.5" />
<line x1="221.50" y1="214.40" x2="221.50" y2="213.10" stroke="#777" stroke-width="0.5" />
<line x1="228.33" y1="126.10" x2="228.33" y2="127.40" stroke="#777" stroke-width="0.5" />
<line x1="228.33" y1="214.40" x2="228.33" y2="213.10" stroke="#777" stroke-width="0.5" />
<line x1="235.16" y1="126.10" x2="235.16" y2="127.40" stroke="#777" stroke-width="0.5" />
<line x1="235.16" y1="214.40" x2="235.16" y2="213.10" stroke="#777" stroke-width="0.5" />
<line x1="241.99" y1="126.10" x2="241.99" y2="127.40" stroke="#777" stroke-width="0.5" />
<line x1="241.99" y1="214.40" x2="241.99" y2="213.10" stroke="#777" stroke-width="0.5" />
<line x1="248.82" y1="126.10" x2="248.82" y2="127.40" stroke="#777" stroke-width="0.5" />
<line x1="248.82" y1="214.40" x2="248.82" y2="213.10" stroke="#777" stroke-width="0.5" />
<line x1="255.66" y1="126.10" x2="255.66" y2="127.40" stroke="#777" stroke-width="0.5" />
<line x1="255.66" y1="214.40" x2="255.66" y2="213.10" stroke="#777" stroke-width="0.5" />
<line x1="262.49" y1="126.10" x2="262.49" y2="127.40" stroke="#777" stroke-width="0.5" />
<line x1="262.49" y1="214.40" x2="262.49" y2="213.10" stroke="#777" stroke-width="0.5" />
<line x1="269.32" y1="126.10" x2="269.32" y2="127.40" stroke="#777" stroke-width="0.5" />
<line x1="269.32" y1="214.40" x2="269.32" y2="213.10" stroke="#777" stroke-width="0.5" />
<line x1="276.15" y1="126.10" x2="276.15" y2="127.40" stroke="#777" stroke-width="0.5" />
<line x1="276.15" y1="214.40" x2="276.15" y2="213.10" stroke="#777" stroke-width="0.5" />
<line x1="282.98" y1="126.10" x2="282.98" y2="127.40" stroke="#777" stroke-width="0.5" />
<line x1="282.98" y1="214.40" x2="282.98" y2="213.10" stroke="#777" stroke-width="0.5" />
<line x1="289.81" y1="126.10" x2="289.81" y2="127.40" stroke="#777" stroke-width="0.5" />
<line x1="289.81" y1="214.40" x2="289.81" y2="213.10" stroke="#777" stroke-width="0.5" />
<line x1="296.64" y1="126.10" x2="296.64" y2="127.40" stroke="#777" stroke-width="0.5" />
<line x1="296.64" y1="214.40" x2="296.64" y2="213.10" stroke="#777" stroke-width="0.5" />
<line x1="303.48" y1="126.10" x2="303.48" y2="127.40" stroke="#777" stroke-width="0.5" />
<line x1="303.48" y1="214.40" x2="303.48" y2="213.10" stroke="#777" stroke-width="0.5" />
<line x1="310.31" y1="126.10" x2="310.31" y2="127.40" stroke="#777" stroke-width="0.5" />
<line x1="310.31" y1="214.40" x2="310.31" y2="213.10" stroke="#777" stroke-width="0.5" />
<line x1="317.14" y1="126.10" x2="317.14" y2="127.40" stroke="#777" stroke-width="0.5" />
<line x1="317.14" y1="214.40" x2="317.14" y2="213.10" stroke="#777" stroke-width="0.5" />
<line x1="323.97" y1="126.10" x2="323.97" y2="127.40" stroke="#777" stroke-width="0.5" />
<line x1="323.97" y1="214.40" x2="323.97" y2="213.10" stroke="#777" stroke-width="0.5" />
<line x1="330.80" y1="126.10" x2="330.80" y2="127.40" stroke="#777" stroke-width="0.5" />
<line x1="330.80" y1="214.40" x2="330.80" y2="213.10" stroke="#777" stroke-width="0.5" />
<line x1="276.50" y1="126.10" x2="276.50" y2="214.40" stroke="#3a3a3a" stroke-width="0.8" />
<line x1="221.50" y1="170.50" x2="330.80" y2="170.50" stroke="#222" stroke-width="0.8" />
<polyline points="221.50,183.60 327.30,126.50" fill="none" stroke="#000" stroke-width="0.55" stroke-linejoin="round" stroke-linecap="round" />
<polyline points="222.50,214.30 330.80,152.40" fill="none" stroke="#000" stroke-width="0.55" stroke-linejoin="round" stroke-linecap="round" />
<polyline points="221.50,178.40 224.83,176.56 228.17,174.76 231.51,173.00 234.86,171.28 238.21,169.61 241.57,167.97 244.94,166.38 248.31,164.83 251.68,163.33 255.06,161.86 258.45,160.44 261.84,159.06 265.24,157.72 268.64,156.43 272.05,155.17 275.46,153.96 278.88,152.79 282.30,151.66 285.73,150.58 289.16,149.54 292.60,148.53 296.05,147.58 299.50,146.66 302.96,145.78 306.42,144.95 309.88,144.16 313.36,143.41 316.83,142.70 320.32,142.04 323.81,141.42 327.30,140.84 330.80,140.30" fill="none" stroke="#008000" stroke-width="0.6" stroke-linejoin="round" stroke-linecap="round" />
<polyline points="221.50,201.00 225.03,200.31 228.55,199.58 232.06,198.82 235.57,198.03 239.07,197.20 242.56,196.34 246.05,195.44 249.52,194.51 252.99,193.54 256.46,192.54 259.91,191.50 263.36,190.43 266.80,189.32 270.24,188.18 273.66,187.00 277.08,185.79 280.49,184.55 283.90,183.27 287.30,181.95 290.69,180.60 294.07,179.22 297.44,177.80 300.81,176.34 304.17,174.86 307.53,173.33 310.87,171.78 314.21,170.18 317.55,168.56 320.87,166.89 324.19,165.20 327.50,163.47 330.80,161.70" fill="none" stroke="#008000" stroke-width="0.6" stroke-linejoin="round" stroke-linecap="round" />
<polyline points="221.50,176.10 224.86,174.44 228.22,172.81 231.58,171.22 234.95,169.65 238.32,168.12 241.70,166.63 245.08,165.16 248.46,163.73 251.85,162.34 255.24,160.97 258.64,159.64 262.03,158.34 265.44,157.08 268.84,155.85 272.25,154.65 275.67,153.48 279.08,152.35 282.51,151.25 285.93,150.18 289.36,149.14 292.79,148.14 296.23,147.17 299.67,146.24 303.11,145.33 306.56,144.46 310.01,143.63 313.47,142.82 316.93,142.05 320.39,141.32 323.86,140.61 327.33,139.94 330.80,139.30" fill="none" stroke="#ff00ff" stroke-width="0.6" stroke-linejoin="round" stroke-linecap="round" />
<polyline points="221.50,200.80 225.03,200.15 228.55,199.46 232.07,198.74 235.58,197.98 239.08,197.19 242.57,196.36 246.05,195.49 249.53,194.59 253.00,193.66 256.47,192.68 259.92,191.67 263.37,190.63 266.81,189.55 270.25,188.43 273.68,187.28 277.09,186.09 280.51,184.87 283.91,183.61 287.31,182.31 290.70,180.98 294.08,179.61 297.46,178.21 300.82,176.77 304.18,175.29 307.54,173.78 310.88,172.23 314.22,170.65 317.55,169.03 320.87,167.38 324.19,165.69 327.50,163.96 330.80,162.20" fill="none" stroke="#ff00ff" stroke-width="0.6" stroke-linejoin="round" stroke-linecap="round" />
<polyline points="221.50,176.60 224.85,174.89 228.21,173.21 231.57,171.57 234.94,169.95 238.31,168.37 241.68,166.83 245.06,165.32 248.44,163.84 251.83,162.39 255.22,160.98 258.61,159.60 262.01,158.25 265.41,156.94 268.82,155.66 272.22,154.41 275.64,153.20 279.06,152.02 282.48,150.87 285.90,149.76 289.33,148.68 292.77,147.63 296.20,146.62 299.65,145.64 303.09,144.69 306.54,143.77 309.99,142.89 313.45,142.04 316.91,141.23 320.38,140.45 323.85,139.70 327.32,138.98 330.80,138.30" fill="none" stroke="#0000ff" stroke-width="0.6" stroke-linejoin="round" stroke-linecap="round" />
<polyline points="221.50,201.80 225.02,201.08 228.54,200.33 232.04,199.54 235.54,198.72 239.04,197.88 242.53,196.99 246.01,196.08 249.48,195.14 252.95,194.16 256.41,193.15 259.86,192.11 263.31,191.03 266.75,189.93 270.18,188.79 273.60,187.62 277.02,186.41 280.43,185.18 283.84,183.91 287.24,182.61 290.63,181.28 294.02,179.92 297.39,178.52 300.77,177.10 304.13,175.64 307.49,174.14 310.84,172.62 314.18,171.06 317.52,169.47 320.85,167.85 324.17,166.20 327.49,164.52 330.80,162.80" fill="none" stroke="#0000ff" stroke-width="0.6" stroke-linejoin="round" stroke-linecap="round" />
<polyline points="221.50,177.50 224.85,175.72 228.21,173.97 231.57,172.25 234.93,170.56 238.30,168.91 241.67,167.28 245.05,165.69 248.43,164.14 251.81,162.61 255.20,161.12 258.59,159.65 261.99,158.23 265.39,156.83 268.79,155.46 272.20,154.13 275.62,152.83 279.04,151.56 282.46,150.33 285.88,149.12 289.31,147.95 292.75,146.81 296.19,145.70 299.63,144.63 303.08,143.59 306.53,142.57 309.98,141.60 313.44,140.65 316.90,139.74 320.37,138.85 323.84,138.00 327.32,137.19 330.80,136.40" fill="none" stroke="#ff0000" stroke-width="0.6" stroke-linejoin="round" stroke-linecap="round" />
<polyline points="221.50,203.20 225.01,202.38 228.51,201.52 232.00,200.65 235.49,199.74 238.97,198.81 242.45,197.86 245.92,196.87 249.39,195.87 252.85,194.83 256.30,193.77 259.75,192.68 263.19,191.57 266.63,190.43 270.06,189.27 273.48,188.07 276.90,186.86 280.31,185.61 283.72,184.34 287.12,183.04 290.52,181.72 293.91,180.37 297.29,179.00 300.67,177.59 304.04,176.17 307.40,174.71 310.76,173.23 314.12,171.73 317.47,170.19 320.81,168.63 324.15,167.05 327.48,165.44 330.80,163.80" fill="none" stroke="#ff0000" stroke-width="0.6" stroke-linejoin="round" stroke-linecap="round" />
<polyline points="221.50,182.70 224.83,180.81 228.17,178.97 231.51,177.16 234.86,175.40 238.22,173.67 241.57,171.98 244.94,170.33 248.31,168.73 251.68,167.16 255.07,165.63 258.45,164.14 261.84,162.69 265.24,161.28 268.64,159.91 272.05,158.58 275.46,157.28 278.88,156.03 282.30,154.82 285.73,153.65 289.17,152.51 292.61,151.42 296.05,150.37 299.50,149.35 302.96,148.38 306.42,147.44 309.89,146.54 313.36,145.69 316.84,144.87 320.32,144.09 323.81,143.36 327.30,142.66 330.80,142.00" fill="none" stroke="#00ffff" stroke-width="0.6" stroke-linejoin="round" stroke-linecap="round" />
<polyline points="221.50,198.40 225.04,197.70 228.57,196.96 232.09,196.18 235.60,195.37 239.11,194.52 242.60,193.64 246.09,192.72 249.58,191.76 253.05,190.76 256.52,189.73 259.98,188.66 263.43,187.55 266.87,186.41 270.30,185.23 273.73,184.01 277.15,182.76 280.56,181.47 283.97,180.14 287.36,178.78 290.75,177.38 294.13,175.94 297.50,174.46 300.87,172.95 304.23,171.41 307.58,169.82 310.92,168.20 314.25,166.54 317.58,164.85 320.89,163.12 324.20,161.35 327.51,159.54 330.80,157.70" fill="none" stroke="#00ffff" stroke-width="0.6" stroke-linejoin="round" stroke-linecap="round" />
<line x1="331.10" y1="126.10" x2="331.10" y2="214.40" stroke="#cfcfcf" stroke-width="1.4" />
<line x1="198.10" y1="286.40" x2="198.10" y2="515.30" stroke="#000" stroke-width="1.7" />
<line x1="55.20" y1="401.10" x2="340.00" y2="401.10" stroke="#000" stroke-width="1.7" />
<polyline points="64.20,506.51 64.89,506.39 65.58,506.27 66.27,506.15 66.96,506.03 67.65,505.90 68.34,505.78 69.03,505.65 69.72,505.52 70.41,505.39 71.10,505.26 71.79,505.12 72.48,504.99 73.17,504.85 73.86,504.72 74.55,504.58 75.24,504.44 75.93,504.30 76.62,504.16 77.31,504.02 78.00,503.88 78.69,503.73 79.38,503.58 80.07,503.43 80.76,503.28 81.45,503.12 82.14,502.96 82.83,502.80 83.52,502.63 84.21,502.47 84.90,502.30 85.59,502.13 86.28,501.95 86.97,501.78 87.66,501.61 88.35,501.43 89.04,501.25 89.73,501.07 90.42,500.89 91.12,500.71 91.81,500.53 92.50,500.35 93.19,500.16 93.88,499.98 94.57,499.79 95.26,499.61 95.95,499.43 96.64,499.24 97.33,499.06 98.02,498.87 98.71,498.68 99.40,498.50 100.09,498.31 100.78,498.11 101.47,497.92 102.16,497.72 102.85,497.53 103.54,497.32 104.23,497.12 104.92,496.91 105.61,496.70 106.30,496.48 106.99,496.26 107.68,496.03 108.37,495.80 109.06,495.57 109.75,495.33 110.44,495.09 111.13,494.84 111.82,494.59 112.51,494.33 113.20,494.07 113.89,493.81 114.58,493.54 115.27,493.27 115.96,493.00 116.65,492.72 117.34,492.44 118.03,492.15 118.73,491.86 119.42,491.57 120.11,491.28 120.80,490.98 121.49,490.68 122.18,490.37 122.87,490.06 123.56,489.75 124.25,489.43 124.94,489.10 125.63,488.76 126.32,488.42 127.01,488.08 127.70,487.73 128.39,487.38 129.08,487.02 129.77,486.66 130.46,486.30 131.15,485.93 131.84,485.56 132.53,485.19 133.22,484.81 133.91,484.44 134.60,484.06 135.29,483.68 135.98,483.31 136.67,482.93 137.36,482.55 138.05,482.17 138.74,481.79 139.43,481.41 140.12,481.02 140.81,480.64 141.50,480.25 142.19,479.86 142.88,479.47 143.57,479.08 144.26,478.68 144.95,478.27 145.64,477.87 146.34,477.46 147.03,477.04 147.72,476.62 148.41,476.19 149.10,475.76 149.79,475.32 150.48,474.88 151.17,474.43 151.86,473.97 152.55,473.51 153.24,473.04 153.93,472.57 154.62,472.09 155.31,471.60 156.00,471.11 156.69,470.61 157.38,470.11 158.07,469.60 158.76,469.08 159.45,468.56 160.14,468.03 160.83,467.49 161.52,466.95 162.21,466.40 162.90,465.84 163.59,465.27 164.28,464.70 164.97,464.12 165.66,463.53 166.35,462.93 167.04,462.34 167.73,461.74 168.42,461.13 169.11,460.51 169.80,459.87 170.49,459.20 171.18,458.50 171.87,457.76 172.56,456.98 173.25,456.15 173.95,455.25 174.64,454.27 175.33,453.21 176.02,452.09 176.71,450.91 177.40,449.69 178.09,448.42 178.78,447.11 179.47,445.79 180.16,444.45 180.85,443.10 181.54,441.69 182.23,440.21 182.92,438.68 183.61,437.11 184.30,435.51 184.99,433.90 185.68,432.27 186.37,430.63 187.06,428.97 187.75,427.29 188.44,425.58 189.13,423.84 189.82,422.09 190.51,420.30 191.20,418.50 191.89,416.67 192.58,414.80 193.27,412.88 193.96,410.94 194.65,408.97 195.34,406.98 196.03,405.00 196.72,403.02 197.41,401.06 198.10,399.11 198.79,397.13 199.48,395.14 200.17,393.16 200.87,391.19 201.56,389.25 202.25,387.33 202.94,385.46 203.63,383.63 204.32,381.83 205.01,380.05 205.70,378.29 206.39,376.56 207.08,374.85 207.77,373.17 208.46,371.51 209.15,369.87 209.84,368.25 210.53,366.63 211.22,365.03 211.91,363.46 212.60,361.94 213.29,360.46 213.98,359.05 214.67,357.70 215.36,356.36 216.05,355.04 216.74,353.74 217.43,352.47 218.12,351.24 218.81,350.07 219.50,348.95 220.19,347.89 220.88,346.92 221.57,346.02 222.26,345.19 222.95,344.41 223.64,343.68 224.33,342.98 225.02,342.31 225.71,341.67 226.40,341.05 227.09,340.44 227.78,339.84 228.48,339.25 229.17,338.65 229.86,338.06 230.55,337.48 231.24,336.91 231.93,336.34 232.62,335.78 233.31,335.23 234.00,334.69 234.69,334.15 235.38,333.62 236.07,333.10 236.76,332.58 237.45,332.07 238.14,331.57 238.83,331.07 239.52,330.58 240.21,330.09 240.90,329.62 241.59,329.14 242.28,328.67 242.97,328.21 243.66,327.75 244.35,327.30 245.04,326.86 245.73,326.42 246.42,325.99 247.11,325.56 247.80,325.14 248.49,324.73 249.18,324.32 249.87,323.91 250.56,323.51 251.25,323.11 251.94,322.71 252.63,322.32 253.32,321.93 254.01,321.55 254.70,321.16 255.39,320.78 256.09,320.40 256.78,320.02 257.47,319.64 258.16,319.26 258.85,318.88 259.54,318.50 260.23,318.12 260.92,317.75 261.61,317.37 262.30,317.00 262.99,316.63 263.68,316.26 264.37,315.89 265.06,315.53 265.75,315.17 266.44,314.81 267.13,314.46 267.82,314.11 268.51,313.76 269.20,313.42 269.89,313.09 270.58,312.76 271.27,312.44 271.96,312.13 272.65,311.82 273.34,311.51 274.03,311.21 274.72,310.91 275.41,310.62 276.10,310.33 276.79,310.04 277.48,309.75 278.17,309.47 278.86,309.19 279.55,308.92 280.24,308.65 280.93,308.38 281.62,308.12 282.31,307.86 283.00,307.60 283.70,307.35 284.39,307.11 285.08,306.86 285.77,306.62 286.46,306.39 287.15,306.16 287.84,305.93 288.53,305.71 289.22,305.50 289.91,305.28 290.60,305.07 291.29,304.87 291.98,304.67 292.67,304.47 293.36,304.27 294.05,304.08 294.74,303.89 295.43,303.70 296.12,303.51 296.81,303.32 297.50,303.14 298.19,302.95 298.88,302.77 299.57,302.58 300.26,302.40 300.95,302.21 301.64,302.03 302.33,301.85 303.02,301.67 303.71,301.48 304.40,301.30 305.09,301.12 305.78,300.94 306.47,300.76 307.16,300.59 307.85,300.41 308.54,300.24 309.23,300.07 309.92,299.90 310.61,299.73 311.31,299.56 312.00,299.40 312.69,299.24 313.38,299.08 314.07,298.92 314.76,298.76 315.45,298.61 316.14,298.46 316.83,298.32 317.52,298.18 318.21,298.03 318.90,297.89 319.59,297.75 320.28,297.61 320.97,297.48 321.66,297.34 322.35,297.20 323.04,297.07 323.73,296.94 324.42,296.81 325.11,296.68 325.80,296.55 326.49,296.42 327.18,296.29 327.87,296.17 328.56,296.04 329.25,295.92 329.94,295.80 330.63,295.68 331.32,295.57 332.01,295.45 332.70,295.34 333.39,295.23 334.08,295.12 334.77,295.01 335.46,294.90 336.15,294.80 336.84,294.69 337.53,294.59 338.22,294.49 338.92,294.40 339.61,294.36" fill="none" stroke="#000000" stroke-width="1.5" stroke-linejoin="round" stroke-linecap="round" />
<polyline points="64.20,506.65 64.89,506.53 65.58,506.41 66.27,506.29 66.96,506.17 67.65,506.05 68.34,505.92 69.03,505.80 69.72,505.67 70.41,505.54 71.10,505.41 71.79,505.28 72.48,505.15 73.17,505.01 73.86,504.88 74.55,504.74 75.24,504.60 75.93,504.46 76.62,504.32 77.31,504.18 78.00,504.04 78.69,503.90 79.38,503.75 80.07,503.60 80.76,503.45 81.45,503.30 82.14,503.14 82.83,502.98 83.52,502.82 84.21,502.66 84.90,502.49 85.59,502.32 86.28,502.15 86.97,501.98 87.66,501.81 88.35,501.63 89.04,501.46 89.73,501.28 90.42,501.10 91.12,500.92 91.81,500.74 92.50,500.56 93.19,500.37 93.88,500.19 94.57,500.01 95.26,499.82 95.95,499.64 96.64,499.45 97.33,499.27 98.02,499.09 98.71,498.90 99.40,498.71 100.09,498.53 100.78,498.34 101.47,498.14 102.16,497.95 102.85,497.76 103.54,497.56 104.23,497.35 104.92,497.15 105.61,496.94 106.30,496.73 106.99,496.51 107.68,496.29 108.37,496.07 109.06,495.84 109.75,495.60 110.44,495.37 111.13,495.12 111.82,494.88 112.51,494.63 113.20,494.37 113.89,494.11 114.58,493.85 115.27,493.58 115.96,493.31 116.65,493.04 117.34,492.76 118.03,492.48 118.73,492.20 119.42,491.91 120.11,491.62 120.80,491.32 121.49,491.03 122.18,490.72 122.87,490.42 123.56,490.11 124.25,489.80 124.94,489.48 125.63,489.15 126.32,488.82 127.01,488.48 127.70,488.13 128.39,487.79 129.08,487.43 129.77,487.08 130.46,486.72 131.15,486.35 131.84,485.99 132.53,485.62 133.22,485.25 133.91,484.87 134.60,484.50 135.29,484.12 135.98,483.74 136.67,483.36 137.36,482.99 138.05,482.61 138.74,482.23 139.43,481.85 140.12,481.47 140.81,481.08 141.50,480.70 142.19,480.31 142.88,479.92 143.57,479.53 144.26,479.14 144.95,478.74 145.64,478.34 146.34,477.93 147.03,477.52 147.72,477.11 148.41,476.69 149.10,476.26 149.79,475.83 150.48,475.39 151.17,474.95 151.86,474.50 152.55,474.04 153.24,473.58 153.93,473.11 154.62,472.64 155.31,472.16 156.00,471.68 156.69,471.19 157.38,470.69 158.07,470.19 158.76,469.68 159.45,469.16 160.14,468.64 160.83,468.11 161.52,467.58 162.21,467.03 162.90,466.48 163.59,465.93 164.28,465.36 164.97,464.79 165.66,464.21 166.35,463.62 167.04,463.02 167.73,462.43 168.42,461.83 169.11,461.23 169.80,460.61 170.49,459.97 171.18,459.30 171.87,458.61 172.56,457.88 173.25,457.10 173.95,456.28 174.64,455.40 175.33,454.43 176.02,453.38 176.71,452.27 177.40,451.10 178.09,449.88 178.78,448.62 179.47,447.32 180.16,446.00 180.85,444.66 181.54,443.31 182.23,441.91 182.92,440.44 183.61,438.92 184.30,437.36 184.99,435.76 185.68,434.15 186.37,432.52 187.06,430.89 187.75,429.23 188.44,427.55 189.13,425.84 189.82,424.11 190.51,422.36 191.20,420.58 191.89,418.78 192.58,416.96 193.27,415.09 193.96,413.18 194.65,411.24 195.34,409.27 196.03,407.29 196.72,405.31 197.41,403.33 198.10,401.37 198.79,399.41 199.48,397.44 200.17,395.45 200.87,393.47 201.56,391.50 202.25,389.55 202.94,387.63 203.63,385.75 204.32,383.92 205.01,382.11 205.70,380.33 206.39,378.57 207.08,376.83 207.77,375.12 208.46,373.43 209.15,371.76 209.84,370.12 210.53,368.50 211.22,366.88 211.91,365.27 212.60,363.70 213.29,362.17 213.98,360.69 214.67,359.27 215.36,357.91 216.05,356.57 216.74,355.24 217.43,353.94 218.12,352.66 218.81,351.43 219.50,350.24 220.19,349.12 220.88,348.05 221.57,347.06 222.26,346.15 222.95,345.32 223.64,344.53 224.33,343.79 225.02,343.08 225.71,342.41 226.40,341.77 227.09,341.14 227.78,340.53 228.48,339.93 229.17,339.34 229.86,338.74 230.55,338.15 231.24,337.57 231.93,336.99 232.62,336.43 233.31,335.87 234.00,335.32 234.69,334.77 235.38,334.23 236.07,333.70 236.76,333.18 237.45,332.66 238.14,332.15 238.83,331.65 239.52,331.15 240.21,330.66 240.90,330.17 241.59,329.69 242.28,329.21 242.97,328.75 243.66,328.28 244.35,327.82 245.04,327.37 245.73,326.93 246.42,326.49 247.11,326.06 247.80,325.63 248.49,325.21 249.18,324.79 249.87,324.38 250.56,323.97 251.25,323.57 251.94,323.17 252.63,322.78 253.32,322.38 254.01,321.99 254.70,321.61 255.39,321.22 256.09,320.84 256.78,320.46 257.47,320.08 258.16,319.70 258.85,319.32 259.54,318.94 260.23,318.56 260.92,318.18 261.61,317.81 262.30,317.43 262.99,317.06 263.68,316.68 264.37,316.31 265.06,315.95 265.75,315.58 266.44,315.22 267.13,314.86 267.82,314.51 268.51,314.16 269.20,313.82 269.89,313.48 270.58,313.14 271.27,312.81 271.96,312.49 272.65,312.17 273.34,311.86 274.03,311.56 274.72,311.26 275.41,310.96 276.10,310.66 276.79,310.37 277.48,310.08 278.17,309.80 278.86,309.51 279.55,309.24 280.24,308.96 280.93,308.69 281.62,308.42 282.31,308.16 283.00,307.90 283.70,307.64 284.39,307.39 285.08,307.14 285.77,306.90 286.46,306.66 287.15,306.43 287.84,306.19 288.53,305.97 289.22,305.75 289.91,305.53 290.60,305.32 291.29,305.11 291.98,304.90 292.67,304.70 293.36,304.50 294.05,304.30 294.74,304.11 295.43,303.92 296.12,303.73 296.81,303.54 297.50,303.35 298.19,303.16 298.88,302.98 299.57,302.80 300.26,302.61 300.95,302.43 301.64,302.24 302.33,302.06 303.02,301.88 303.71,301.69 304.40,301.51 305.09,301.33 305.78,301.15 306.47,300.97 307.16,300.79 307.85,300.62 308.54,300.44 309.23,300.27 309.92,300.09 310.61,299.92 311.31,299.75 312.00,299.59 312.69,299.42 313.38,299.26 314.07,299.10 314.76,298.94 315.45,298.79 316.14,298.64 316.83,298.49 317.52,298.34 318.21,298.20 318.90,298.06 319.59,297.92 320.28,297.78 320.97,297.64 321.66,297.50 322.35,297.36 323.04,297.23 323.73,297.09 324.42,296.96 325.11,296.83 325.80,296.70 326.49,296.57 327.18,296.44 327.87,296.31 328.56,296.19 329.25,296.06 329.94,295.94 330.63,295.82 331.32,295.70 332.01,295.59 332.70,295.47 333.39,295.36 334.08,295.24 334.77,295.13 335.46,295.02 336.15,294.92 336.84,294.81 337.53,294.71 338.22,294.61 338.92,294.51 339.61,294.41" fill="none" stroke="#000000" stroke-width="1.5" stroke-linejoin="round" stroke-linecap="round" />
<polyline points="64.20,469.12 64.89,468.99 65.58,468.86 66.27,468.73 66.96,468.60 67.65,468.47 68.34,468.34 69.03,468.21 69.72,468.08 70.41,467.95 71.10,467.82 71.79,467.69 72.48,467.56 73.17,467.43 73.86,467.30 74.55,467.17 75.24,467.04 75.93,466.91 76.62,466.78 77.31,466.65 78.00,466.52 78.69,466.39 79.38,466.25 80.07,466.12 80.76,465.99 81.45,465.86 82.14,465.73 82.83,465.60 83.52,465.46 84.21,465.33 84.90,465.20 85.59,465.07 86.28,464.93 86.97,464.80 87.66,464.67 88.35,464.54 89.04,464.40 89.73,464.27 90.42,464.14 91.12,464.00 91.81,463.87 92.50,463.74 93.19,463.60 93.88,463.47 94.57,463.34 95.26,463.20 95.95,463.07 96.64,462.94 97.33,462.80 98.02,462.67 98.71,462.54 99.40,462.41 100.09,462.28 100.78,462.14 101.47,462.01 102.16,461.88 102.85,461.75 103.54,461.62 104.23,461.49 104.92,461.36 105.61,461.23 106.30,461.09 106.99,460.96 107.68,460.83 108.37,460.70 109.06,460.56 109.75,460.43 110.44,460.30 111.13,460.16 111.82,460.02 112.51,459.89 113.20,459.75 113.89,459.61 114.58,459.47 115.27,459.33 115.96,459.19 116.65,459.05 117.34,458.91 118.03,458.76 118.73,458.62 119.42,458.47 120.11,458.33 120.80,458.18 121.49,458.03 122.18,457.87 122.87,457.72 123.56,457.57 124.25,457.41 124.94,457.25 125.63,457.10 126.32,456.94 127.01,456.78 127.70,456.61 128.39,456.45 129.08,456.29 129.77,456.12 130.46,455.95 131.15,455.78 131.84,455.60 132.53,455.43 133.22,455.25 133.91,455.07 134.60,454.89 135.29,454.71 135.98,454.52 136.67,454.33 137.36,454.14 138.05,453.94 138.74,453.75 139.43,453.55 140.12,453.34 140.81,453.14 141.50,452.93 142.19,452.72 142.88,452.51 143.57,452.29 144.26,452.07 144.95,451.85 145.64,451.62 146.34,451.40 147.03,451.17 147.72,450.93 148.41,450.70 149.10,450.46 149.79,450.22 150.48,449.98 151.17,449.73 151.86,449.48 152.55,449.23 153.24,448.97 153.93,448.71 154.62,448.45 155.31,448.18 156.00,447.91 156.69,447.63 157.38,447.35 158.07,447.07 158.76,446.78 159.45,446.49 160.14,446.20 160.83,445.90 161.52,445.61 162.21,445.30 162.90,445.00 163.59,444.69 164.28,444.38 164.97,444.07 165.66,443.75 166.35,443.43 167.04,443.11 167.73,442.80 168.42,442.48 169.11,442.15 169.80,441.80 170.49,441.44 171.18,441.06 171.87,440.66 172.56,440.23 173.25,439.75 173.95,439.22 174.64,438.66 175.33,438.07 176.02,437.45 176.71,436.80 177.40,436.12 178.09,435.39 178.78,434.63 179.47,433.85 180.16,433.04 180.85,432.22 181.54,431.39 182.23,430.54 182.92,429.66 183.61,428.76 184.30,427.82 184.99,426.84 185.68,425.81 186.37,424.72 187.06,423.57 187.75,422.37 188.44,421.12 189.13,419.83 189.82,418.49 190.51,417.12 191.20,415.71 191.89,414.28 192.58,412.77 193.27,411.18 193.96,409.54 194.65,407.85 195.34,406.14 196.03,404.43 196.72,402.74 197.41,401.07 198.10,399.40 198.79,397.71 199.48,395.99 200.17,394.29 200.87,392.60 201.56,390.96 202.25,389.38 202.94,387.87 203.63,386.44 204.32,385.03 205.01,383.66 205.70,382.33 206.39,381.03 207.08,379.78 207.77,378.59 208.46,377.44 209.15,376.36 209.84,375.33 210.53,374.35 211.22,373.41 211.91,372.50 212.60,371.63 213.29,370.78 213.98,369.95 214.67,369.13 215.36,368.32 216.05,367.54 216.74,366.78 217.43,366.06 218.12,365.37 218.81,364.73 219.50,364.11 220.19,363.52 220.88,362.96 221.57,362.43 222.26,361.96 222.95,361.52 223.64,361.12 224.33,360.74 225.02,360.38 225.71,360.04 226.40,359.71 227.09,359.39 227.78,359.07 228.48,358.76 229.17,358.44 229.86,358.12 230.55,357.81 231.24,357.50 231.93,357.19 232.62,356.89 233.31,356.58 234.00,356.28 234.69,355.99 235.38,355.70 236.07,355.41 236.76,355.12 237.45,354.84 238.14,354.56 238.83,354.28 239.52,354.01 240.21,353.74 240.90,353.48 241.59,353.22 242.28,352.96 242.97,352.71 243.66,352.46 244.35,352.21 245.04,351.97 245.73,351.73 246.42,351.49 247.11,351.26 247.80,351.02 248.49,350.79 249.18,350.57 249.87,350.34 250.56,350.12 251.25,349.90 251.94,349.69 252.63,349.47 253.32,349.26 254.01,349.05 254.70,348.85 255.39,348.65 256.09,348.45 256.78,348.25 257.47,348.05 258.16,347.86 258.85,347.67 259.54,347.49 260.23,347.30 260.92,347.12 261.61,346.94 262.30,346.76 262.99,346.59 263.68,346.42 264.37,346.25 265.06,346.08 265.75,345.91 266.44,345.74 267.13,345.58 267.82,345.42 268.51,345.26 269.20,345.10 269.89,344.94 270.58,344.78 271.27,344.63 271.96,344.47 272.65,344.32 273.34,344.17 274.03,344.02 274.72,343.87 275.41,343.72 276.10,343.57 276.79,343.43 277.48,343.29 278.17,343.14 278.86,343.00 279.55,342.86 280.24,342.72 280.93,342.58 281.62,342.44 282.31,342.31 283.00,342.17 283.70,342.03 284.39,341.90 285.08,341.77 285.77,341.63 286.46,341.50 287.15,341.37 287.84,341.23 288.53,341.10 289.22,340.97 289.91,340.84 290.60,340.71 291.29,340.57 291.98,340.44 292.67,340.31 293.36,340.18 294.05,340.05 294.74,339.92 295.43,339.79 296.12,339.66 296.81,339.52 297.50,339.39 298.19,339.26 298.88,339.13 299.57,338.99 300.26,338.86 300.95,338.73 301.64,338.59 302.33,338.46 303.02,338.32 303.71,338.19 304.40,338.06 305.09,337.93 305.78,337.79 306.47,337.66 307.16,337.53 307.85,337.39 308.54,337.26 309.23,337.13 309.92,337.00 310.61,336.86 311.31,336.73 312.00,336.60 312.69,336.47 313.38,336.34 314.07,336.20 314.76,336.07 315.45,335.94 316.14,335.81 316.83,335.68 317.52,335.55 318.21,335.42 318.90,335.28 319.59,335.15 320.28,335.02 320.97,334.89 321.66,334.76 322.35,334.63 323.04,334.50 323.73,334.37 324.42,334.24 325.11,334.11 325.80,333.98 326.49,333.85 327.18,333.72 327.87,333.59 328.56,333.46 329.25,333.33 329.94,333.20 330.63,333.08 331.32,332.95 332.01,332.82 332.70,332.69 333.39,332.56 334.08,332.43 334.77,332.30 335.46,332.18 336.15,332.05 336.84,331.92 337.53,331.79 338.22,331.67 338.92,331.54 339.61,331.49" fill="none" stroke="#ff0000" stroke-width="1.5" stroke-linejoin="round" stroke-linecap="round" />
<polyline points="64.20,469.27 64.89,469.14 65.58,469.01 66.27,468.88 66.96,468.75 67.65,468.62 68.34,468.49 69.03,468.36 69.72,468.23 70.41,468.10 71.10,467.97 71.79,467.84 72.48,467.71 73.17,467.58 73.86,467.45 74.55,467.32 75.24,467.19 75.93,467.06 76.62,466.93 77.31,466.80 78.00,466.67 78.69,466.54 79.38,466.41 80.07,466.27 80.76,466.14 81.45,466.01 82.14,465.88 82.83,465.75 83.52,465.62 84.21,465.48 84.90,465.35 85.59,465.22 86.28,465.09 86.97,464.95 87.66,464.82 88.35,464.69 89.04,464.56 89.73,464.42 90.42,464.29 91.12,464.16 91.81,464.02 92.50,463.89 93.19,463.76 93.88,463.62 94.57,463.49 95.26,463.36 95.95,463.22 96.64,463.09 97.33,462.96 98.02,462.82 98.71,462.69 99.40,462.56 100.09,462.43 100.78,462.30 101.47,462.17 102.16,462.03 102.85,461.90 103.54,461.77 104.23,461.64 104.92,461.51 105.61,461.38 106.30,461.25 106.99,461.11 107.68,460.98 108.37,460.85 109.06,460.72 109.75,460.58 110.44,460.45 111.13,460.32 111.82,460.18 112.51,460.05 113.20,459.91 113.89,459.77 114.58,459.63 115.27,459.50 115.96,459.36 116.65,459.22 117.34,459.07 118.03,458.93 118.73,458.79 119.42,458.64 120.11,458.50 120.80,458.35 121.49,458.20 122.18,458.05 122.87,457.90 123.56,457.74 124.25,457.59 124.94,457.44 125.63,457.28 126.32,457.12 127.01,456.96 127.70,456.80 128.39,456.64 129.08,456.48 129.77,456.31 130.46,456.14 131.15,455.98 131.84,455.80 132.53,455.63 133.22,455.46 133.91,455.28 134.60,455.10 135.29,454.92 135.98,454.73 136.67,454.55 137.36,454.36 138.05,454.17 138.74,453.97 139.43,453.78 140.12,453.58 140.81,453.38 141.50,453.17 142.19,452.96 142.88,452.75 143.57,452.54 144.26,452.32 144.95,452.10 145.64,451.88 146.34,451.66 147.03,451.43 147.72,451.20 148.41,450.97 149.10,450.74 149.79,450.50 150.48,450.26 151.17,450.01 151.86,449.77 152.55,449.52 153.24,449.27 153.93,449.01 154.62,448.75 155.31,448.49 156.00,448.22 156.69,447.95 157.38,447.67 158.07,447.39 158.76,447.11 159.45,446.83 160.14,446.54 160.83,446.25 161.52,445.95 162.21,445.65 162.90,445.35 163.59,445.05 164.28,444.74 164.97,444.43 165.66,444.11 166.35,443.80 167.04,443.48 167.73,443.16 168.42,442.85 169.11,442.53 169.80,442.20 170.49,441.86 171.18,441.50 171.87,441.12 172.56,440.72 173.25,440.30 173.95,439.82 174.64,439.31 175.33,438.75 176.02,438.16 176.71,437.54 177.40,436.90 178.09,436.23 178.78,435.51 179.47,434.75 180.16,433.97 180.85,433.17 181.54,432.35 182.23,431.52 182.92,430.67 183.61,429.80 184.30,428.90 184.99,427.97 185.68,426.99 186.37,425.97 187.06,424.89 187.75,423.75 188.44,422.56 189.13,421.32 189.82,420.03 190.51,418.70 191.20,417.33 191.89,415.93 192.58,414.50 193.27,413.01 193.96,411.43 194.65,409.79 195.34,408.11 196.03,406.41 196.72,404.70 197.41,403.00 198.10,401.33 198.79,399.66 199.48,397.97 200.17,396.26 200.87,394.55 201.56,392.86 202.25,391.21 202.94,389.62 203.63,388.10 204.32,386.66 205.01,385.25 205.70,383.87 206.39,382.53 207.08,381.23 207.77,379.97 208.46,378.77 209.15,377.62 209.84,376.52 210.53,375.48 211.22,374.50 211.91,373.55 212.60,372.64 213.29,371.76 213.98,370.91 214.67,370.08 215.36,369.26 216.05,368.45 216.74,367.66 217.43,366.90 218.12,366.17 218.81,365.48 219.50,364.83 220.19,364.21 220.88,363.61 221.57,363.04 222.26,362.51 222.95,362.03 223.64,361.59 224.33,361.18 225.02,360.80 225.71,360.44 226.40,360.09 227.09,359.76 227.78,359.44 228.48,359.12 229.17,358.81 229.86,358.49 230.55,358.17 231.24,357.86 231.93,357.55 232.62,357.24 233.31,356.93 234.00,356.63 234.69,356.33 235.38,356.03 236.07,355.74 236.76,355.45 237.45,355.17 238.14,354.88 238.83,354.60 239.52,354.33 240.21,354.06 240.90,353.79 241.59,353.52 242.28,353.26 242.97,353.00 243.66,352.75 244.35,352.50 245.04,352.25 245.73,352.01 246.42,351.77 247.11,351.53 247.80,351.29 248.49,351.06 249.18,350.83 249.87,350.60 250.56,350.38 251.25,350.16 251.94,349.94 252.63,349.72 253.32,349.51 254.01,349.29 254.70,349.09 255.39,348.88 256.09,348.68 256.78,348.48 257.47,348.28 258.16,348.08 258.85,347.89 259.54,347.70 260.23,347.52 260.92,347.33 261.61,347.15 262.30,346.97 262.99,346.79 263.68,346.62 264.37,346.44 265.06,346.27 265.75,346.10 266.44,345.93 267.13,345.77 267.82,345.60 268.51,345.44 269.20,345.28 269.89,345.12 270.58,344.96 271.27,344.81 271.96,344.65 272.65,344.50 273.34,344.34 274.03,344.19 274.72,344.04 275.41,343.89 276.10,343.74 276.79,343.60 277.48,343.45 278.17,343.31 278.86,343.17 279.55,343.02 280.24,342.88 280.93,342.74 281.62,342.60 282.31,342.47 283.00,342.33 283.70,342.19 284.39,342.06 285.08,341.92 285.77,341.79 286.46,341.65 287.15,341.52 287.84,341.39 288.53,341.25 289.22,341.12 289.91,340.99 290.60,340.86 291.29,340.73 291.98,340.60 292.67,340.46 293.36,340.33 294.05,340.20 294.74,340.07 295.43,339.94 296.12,339.81 296.81,339.68 297.50,339.54 298.19,339.41 298.88,339.28 299.57,339.15 300.26,339.01 300.95,338.88 301.64,338.75 302.33,338.61 303.02,338.48 303.71,338.35 304.40,338.21 305.09,338.08 305.78,337.95 306.47,337.81 307.16,337.68 307.85,337.55 308.54,337.41 309.23,337.28 309.92,337.15 310.61,337.02 311.31,336.88 312.00,336.75 312.69,336.62 313.38,336.49 314.07,336.36 314.76,336.22 315.45,336.09 316.14,335.96 316.83,335.83 317.52,335.70 318.21,335.57 318.90,335.44 319.59,335.31 320.28,335.17 320.97,335.04 321.66,334.91 322.35,334.78 323.04,334.65 323.73,334.52 324.42,334.39 325.11,334.26 325.80,334.13 326.49,334.00 327.18,333.87 327.87,333.74 328.56,333.61 329.25,333.48 329.94,333.35 330.63,333.22 331.32,333.10 332.01,332.97 332.70,332.84 333.39,332.71 334.08,332.58 334.77,332.45 335.46,332.32 336.15,332.20 336.84,332.07 337.53,331.94 338.22,331.81 338.92,331.69 339.61,331.56" fill="none" stroke="#ff0000" stroke-width="1.5" stroke-linejoin="round" stroke-linecap="round" />
<polyline points="64.20,455.61 64.89,455.54 65.58,455.47 66.27,455.40 66.96,455.34 67.65,455.27 68.34,455.20 69.03,455.13 69.72,455.07 70.41,455.00 71.10,454.93 71.79,454.86 72.48,454.79 73.17,454.73 73.86,454.66 74.55,454.59 75.24,454.52 75.93,454.45 76.62,454.38 77.31,454.31 78.00,454.25 78.69,454.18 79.38,454.11 80.07,454.04 80.76,453.97 81.45,453.90 82.14,453.83 82.83,453.76 83.52,453.69 84.21,453.62 84.90,453.55 85.59,453.48 86.28,453.41 86.97,453.34 87.66,453.27 88.35,453.20 89.04,453.13 89.73,453.06 90.42,452.99 91.12,452.92 91.81,452.85 92.50,452.78 93.19,452.71 93.88,452.64 94.57,452.57 95.26,452.50 95.95,452.43 96.64,452.36 97.33,452.29 98.02,452.22 98.71,452.15 99.40,452.08 100.09,452.01 100.78,451.95 101.47,451.88 102.16,451.81 102.85,451.74 103.54,451.67 104.23,451.60 104.92,451.53 105.61,451.47 106.30,451.40 106.99,451.33 107.68,451.26 108.37,451.19 109.06,451.12 109.75,451.05 110.44,450.98 111.13,450.91 111.82,450.83 112.51,450.76 113.20,450.69 113.89,450.61 114.58,450.54 115.27,450.46 115.96,450.39 116.65,450.31 117.34,450.23 118.03,450.15 118.73,450.07 119.42,449.99 120.11,449.91 120.80,449.83 121.49,449.74 122.18,449.66 122.87,449.57 123.56,449.48 124.25,449.39 124.94,449.30 125.63,449.21 126.32,449.11 127.01,449.02 127.70,448.92 128.39,448.82 129.08,448.72 129.77,448.62 130.46,448.52 131.15,448.42 131.84,448.31 132.53,448.20 133.22,448.09 133.91,447.98 134.60,447.87 135.29,447.76 135.98,447.65 136.67,447.53 137.36,447.42 138.05,447.30 138.74,447.18 139.43,447.06 140.12,446.94 140.81,446.82 141.50,446.69 142.19,446.56 142.88,446.43 143.57,446.30 144.26,446.17 144.95,446.04 145.64,445.90 146.34,445.76 147.03,445.62 147.72,445.47 148.41,445.32 149.10,445.17 149.79,445.02 150.48,444.86 151.17,444.71 151.86,444.54 152.55,444.37 153.24,444.20 153.93,444.02 154.62,443.84 155.31,443.65 156.00,443.45 156.69,443.26 157.38,443.06 158.07,442.85 158.76,442.65 159.45,442.44 160.14,442.23 160.83,442.01 161.52,441.80 162.21,441.58 162.90,441.36 163.59,441.14 164.28,440.92 164.97,440.70 165.66,440.48 166.35,440.27 167.04,440.06 167.73,439.85 168.42,439.64 169.11,439.43 169.80,439.20 170.49,438.97 171.18,438.71 171.87,438.43 172.56,438.13 173.25,437.78 173.95,437.38 174.64,436.94 175.33,436.47 176.02,435.97 176.71,435.43 177.40,434.82 178.09,434.15 178.78,433.44 179.47,432.70 180.16,431.94 180.85,431.17 181.54,430.39 182.23,429.59 182.92,428.76 183.61,427.90 184.30,427.01 184.99,426.07 185.68,425.09 186.37,424.05 187.06,422.94 187.75,421.79 188.44,420.58 189.13,419.32 189.82,418.02 190.51,416.69 191.20,415.32 191.89,413.93 192.58,412.46 193.27,410.92 193.96,409.32 194.65,407.68 195.34,406.01 196.03,404.35 196.72,402.69 197.41,401.07 198.10,399.45 198.79,397.79 199.48,396.13 200.17,394.46 200.87,392.82 201.56,391.22 202.25,389.68 202.94,388.22 203.63,386.83 204.32,385.46 205.01,384.13 205.70,382.83 206.39,381.58 207.08,380.37 207.77,379.22 208.46,378.11 209.15,377.08 209.84,376.09 210.53,375.16 211.22,374.26 211.91,373.41 212.60,372.58 213.29,371.78 213.98,371.00 214.67,370.23 215.36,369.47 216.05,368.73 216.74,368.02 217.43,367.36 218.12,366.75 218.81,366.21 219.50,365.71 220.19,365.24 220.88,364.80 221.57,364.41 222.26,364.06 222.95,363.76 223.64,363.48 224.33,363.23 225.02,362.99 225.71,362.77 226.40,362.55 227.09,362.35 227.78,362.14 228.48,361.93 229.17,361.71 229.86,361.49 230.55,361.27 231.24,361.05 231.93,360.83 232.62,360.61 233.31,360.40 234.00,360.18 234.69,359.97 235.38,359.76 236.07,359.55 236.76,359.34 237.45,359.14 238.14,358.94 238.83,358.74 239.52,358.55 240.21,358.36 240.90,358.17 241.59,357.99 242.28,357.82 242.97,357.65 243.66,357.49 244.35,357.33 245.04,357.17 245.73,357.02 246.42,356.87 247.11,356.72 247.80,356.58 248.49,356.44 249.18,356.30 249.87,356.16 250.56,356.02 251.25,355.89 251.94,355.76 252.63,355.63 253.32,355.51 254.01,355.38 254.70,355.26 255.39,355.14 256.09,355.02 256.78,354.90 257.47,354.78 258.16,354.66 258.85,354.55 259.54,354.43 260.23,354.32 260.92,354.21 261.61,354.10 262.30,353.99 262.99,353.89 263.68,353.78 264.37,353.68 265.06,353.57 265.75,353.47 266.44,353.37 267.13,353.27 267.82,353.18 268.51,353.08 269.20,352.99 269.89,352.89 270.58,352.80 271.27,352.71 271.96,352.63 272.65,352.54 273.34,352.45 274.03,352.37 274.72,352.29 275.41,352.20 276.10,352.12 276.79,352.04 277.48,351.96 278.17,351.89 278.86,351.81 279.55,351.73 280.24,351.66 280.93,351.58 281.62,351.51 282.31,351.44 283.00,351.36 283.70,351.29 284.39,351.22 285.08,351.15 285.77,351.08 286.46,351.01 287.15,350.94 287.84,350.87 288.53,350.80 289.22,350.73 289.91,350.66 290.60,350.59 291.29,350.53 291.98,350.46 292.67,350.39 293.36,350.32 294.05,350.25 294.74,350.18 295.43,350.12 296.12,350.05 296.81,349.98 297.50,349.91 298.19,349.84 298.88,349.77 299.57,349.70 300.26,349.63 300.95,349.56 301.64,349.49 302.33,349.42 303.02,349.34 303.71,349.27 304.40,349.20 305.09,349.13 305.78,349.06 306.47,348.99 307.16,348.92 307.85,348.85 308.54,348.78 309.23,348.71 309.92,348.64 310.61,348.57 311.31,348.51 312.00,348.44 312.69,348.37 313.38,348.30 314.07,348.23 314.76,348.16 315.45,348.09 316.14,348.02 316.83,347.95 317.52,347.88 318.21,347.81 318.90,347.75 319.59,347.68 320.28,347.61 320.97,347.54 321.66,347.47 322.35,347.40 323.04,347.33 323.73,347.27 324.42,347.20 325.11,347.13 325.80,347.06 326.49,347.00 327.18,346.93 327.87,346.86 328.56,346.79 329.25,346.73 329.94,346.66 330.63,346.59 331.32,346.52 332.01,346.46 332.70,346.39 333.39,346.32 334.08,346.26 334.77,346.19 335.46,346.12 336.15,346.06 336.84,345.99 337.53,345.92 338.22,345.86 338.92,345.79 339.61,345.77" fill="none" stroke="#0000ff" stroke-width="1.5" stroke-linejoin="round" stroke-linecap="round" />
<polyline points="64.20,455.68 64.89,455.62 65.58,455.55 66.27,455.48 66.96,455.42 67.65,455.35 68.34,455.28 69.03,455.21 69.72,455.14 70.41,455.08 71.10,455.01 71.79,454.94 72.48,454.87 73.17,454.81 73.86,454.74 74.55,454.67 75.24,454.60 75.93,454.53 76.62,454.46 77.31,454.39 78.00,454.33 78.69,454.26 79.38,454.19 80.07,454.12 80.76,454.05 81.45,453.98 82.14,453.91 82.83,453.84 83.52,453.77 84.21,453.70 84.90,453.63 85.59,453.56 86.28,453.49 86.97,453.42 87.66,453.35 88.35,453.28 89.04,453.21 89.73,453.14 90.42,453.07 91.12,453.00 91.81,452.93 92.50,452.86 93.19,452.79 93.88,452.72 94.57,452.65 95.26,452.58 95.95,452.51 96.64,452.44 97.33,452.37 98.02,452.30 98.71,452.23 99.40,452.16 100.09,452.09 100.78,452.02 101.47,451.96 102.16,451.89 102.85,451.82 103.54,451.75 104.23,451.68 104.92,451.61 105.61,451.55 106.30,451.48 106.99,451.41 107.68,451.34 108.37,451.27 109.06,451.20 109.75,451.13 110.44,451.06 111.13,450.99 111.82,450.92 112.51,450.85 113.20,450.77 113.89,450.70 114.58,450.63 115.27,450.55 115.96,450.48 116.65,450.40 117.34,450.32 118.03,450.25 118.73,450.17 119.42,450.09 120.11,450.01 120.80,449.92 121.49,449.84 122.18,449.76 122.87,449.67 123.56,449.59 124.25,449.50 124.94,449.41 125.63,449.32 126.32,449.22 127.01,449.13 127.70,449.03 128.39,448.94 129.08,448.84 129.77,448.74 130.46,448.64 131.15,448.54 131.84,448.43 132.53,448.33 133.22,448.22 133.91,448.11 134.60,448.00 135.29,447.89 135.98,447.78 136.67,447.67 137.36,447.55 138.05,447.43 138.74,447.32 139.43,447.20 140.12,447.08 140.81,446.96 141.50,446.83 142.19,446.71 142.88,446.58 143.57,446.45 144.26,446.32 144.95,446.19 145.64,446.06 146.34,445.92 147.03,445.78 147.72,445.64 148.41,445.49 149.10,445.35 149.79,445.20 150.48,445.04 151.17,444.89 151.86,444.73 152.55,444.57 153.24,444.40 153.93,444.23 154.62,444.05 155.31,443.86 156.00,443.68 156.69,443.48 157.38,443.29 158.07,443.09 158.76,442.88 159.45,442.68 160.14,442.47 160.83,442.26 161.52,442.04 162.21,441.83 162.90,441.61 163.59,441.39 164.28,441.18 164.97,440.96 165.66,440.74 166.35,440.52 167.04,440.30 167.73,440.09 168.42,439.88 169.11,439.67 169.80,439.46 170.49,439.24 171.18,439.00 171.87,438.75 172.56,438.48 173.25,438.18 173.95,437.83 174.64,437.44 175.33,437.01 176.02,436.55 176.71,436.05 177.40,435.52 178.09,434.92 178.78,434.26 179.47,433.56 180.16,432.82 180.85,432.06 181.54,431.29 182.23,430.51 182.92,429.71 183.61,428.89 184.30,428.04 184.99,427.15 185.68,426.22 186.37,425.24 187.06,424.21 187.75,423.12 188.44,421.97 189.13,420.77 189.82,419.52 190.51,418.23 191.20,416.90 191.89,415.54 192.58,414.15 193.27,412.70 193.96,411.16 194.65,409.57 195.34,407.93 196.03,406.27 196.72,404.61 197.41,402.95 198.10,401.32 198.79,399.70 199.48,398.05 200.17,396.38 200.87,394.72 201.56,393.07 202.25,391.47 202.94,389.92 203.63,388.44 204.32,387.04 205.01,385.67 205.70,384.33 206.39,383.03 207.08,381.77 207.77,380.56 208.46,379.39 209.15,378.28 209.84,377.23 210.53,376.24 211.22,375.30 211.91,374.40 212.60,373.54 213.29,372.71 213.98,371.90 214.67,371.12 215.36,370.35 216.05,369.59 216.74,368.84 217.43,368.13 218.12,367.46 218.81,366.84 219.50,366.29 220.19,365.79 220.88,365.31 221.57,364.87 222.26,364.47 222.95,364.11 223.64,363.80 224.33,363.52 225.02,363.26 225.71,363.02 226.40,362.80 227.09,362.59 227.78,362.38 228.48,362.17 229.17,361.96 229.86,361.74 230.55,361.52 231.24,361.30 231.93,361.08 232.62,360.86 233.31,360.65 234.00,360.43 234.69,360.21 235.38,360.00 236.07,359.79 236.76,359.58 237.45,359.37 238.14,359.17 238.83,358.97 239.52,358.77 240.21,358.58 240.90,358.39 241.59,358.20 242.28,358.02 242.97,357.85 243.66,357.68 244.35,357.51 245.04,357.35 245.73,357.20 246.42,357.04 247.11,356.89 247.80,356.75 248.49,356.60 249.18,356.46 249.87,356.32 250.56,356.18 251.25,356.04 251.94,355.91 252.63,355.78 253.32,355.65 254.01,355.52 254.70,355.40 255.39,355.28 256.09,355.15 256.78,355.03 257.47,354.92 258.16,354.80 258.85,354.68 259.54,354.57 260.23,354.45 260.92,354.34 261.61,354.23 262.30,354.12 262.99,354.01 263.68,353.90 264.37,353.80 265.06,353.69 265.75,353.59 266.44,353.49 267.13,353.39 267.82,353.29 268.51,353.19 269.20,353.10 269.89,353.00 270.58,352.91 271.27,352.82 271.96,352.73 272.65,352.64 273.34,352.55 274.03,352.47 274.72,352.38 275.41,352.30 276.10,352.22 276.79,352.14 277.48,352.06 278.17,351.98 278.86,351.90 279.55,351.82 280.24,351.74 280.93,351.67 281.62,351.59 282.31,351.52 283.00,351.45 283.70,351.37 284.39,351.30 285.08,351.23 285.77,351.16 286.46,351.09 287.15,351.02 287.84,350.95 288.53,350.88 289.22,350.81 289.91,350.74 290.60,350.67 291.29,350.60 291.98,350.54 292.67,350.47 293.36,350.40 294.05,350.33 294.74,350.26 295.43,350.19 296.12,350.13 296.81,350.06 297.50,349.99 298.19,349.92 298.88,349.85 299.57,349.78 300.26,349.71 300.95,349.64 301.64,349.57 302.33,349.50 303.02,349.43 303.71,349.36 304.40,349.29 305.09,349.22 305.78,349.14 306.47,349.07 307.16,349.00 307.85,348.93 308.54,348.86 309.23,348.79 309.92,348.72 310.61,348.66 311.31,348.59 312.00,348.52 312.69,348.45 313.38,348.38 314.07,348.31 314.76,348.24 315.45,348.17 316.14,348.10 316.83,348.03 317.52,347.96 318.21,347.89 318.90,347.82 319.59,347.76 320.28,347.69 320.97,347.62 321.66,347.55 322.35,347.48 323.04,347.41 323.73,347.35 324.42,347.28 325.11,347.21 325.80,347.14 326.49,347.07 327.18,347.01 327.87,346.94 328.56,346.87 329.25,346.80 329.94,346.74 330.63,346.67 331.32,346.60 332.01,346.53 332.70,346.47 333.39,346.40 334.08,346.33 334.77,346.27 335.46,346.20 336.15,346.13 336.84,346.07 337.53,346.00 338.22,345.94 338.92,345.87 339.61,345.80" fill="none" stroke="#0000ff" stroke-width="1.5" stroke-linejoin="round" stroke-linecap="round" />
<polyline points="64.20,446.27 64.89,446.23 65.58,446.19 66.27,446.15 66.96,446.11 67.65,446.07 68.34,446.03 69.03,445.99 69.72,445.95 70.41,445.91 71.10,445.87 71.79,445.84 72.48,445.80 73.17,445.76 73.86,445.72 74.55,445.68 75.24,445.65 75.93,445.61 76.62,445.57 77.31,445.54 78.00,445.50 78.69,445.46 79.38,445.43 80.07,445.39 80.76,445.35 81.45,445.32 82.14,445.28 82.83,445.25 83.52,445.21 84.21,445.18 84.90,445.14 85.59,445.11 86.28,445.07 86.97,445.04 87.66,445.01 88.35,444.97 89.04,444.94 89.73,444.91 90.42,444.87 91.12,444.84 91.81,444.81 92.50,444.78 93.19,444.75 93.88,444.71 94.57,444.68 95.26,444.65 95.95,444.62 96.64,444.59 97.33,444.56 98.02,444.53 98.71,444.50 99.40,444.47 100.09,444.44 100.78,444.42 101.47,444.39 102.16,444.36 102.85,444.34 103.54,444.31 104.23,444.28 104.92,444.26 105.61,444.23 106.30,444.20 106.99,444.18 107.68,444.15 108.37,444.13 109.06,444.10 109.75,444.08 110.44,444.05 111.13,444.02 111.82,444.00 112.51,443.97 113.20,443.95 113.89,443.92 114.58,443.90 115.27,443.87 115.96,443.84 116.65,443.81 117.34,443.79 118.03,443.76 118.73,443.73 119.42,443.70 120.11,443.67 120.80,443.65 121.49,443.62 122.18,443.59 122.87,443.55 123.56,443.52 124.25,443.50 124.94,443.47 125.63,443.44 126.32,443.41 127.01,443.38 127.70,443.35 128.39,443.32 129.08,443.28 129.77,443.25 130.46,443.22 131.15,443.19 131.84,443.15 132.53,443.12 133.22,443.08 133.91,443.04 134.60,443.00 135.29,442.96 135.98,442.92 136.67,442.88 137.36,442.83 138.05,442.78 138.74,442.73 139.43,442.68 140.12,442.62 140.81,442.57 141.50,442.51 142.19,442.44 142.88,442.38 143.57,442.31 144.26,442.25 144.95,442.18 145.64,442.10 146.34,442.03 147.03,441.95 147.72,441.88 148.41,441.80 149.10,441.72 149.79,441.64 150.48,441.55 151.17,441.47 151.86,441.38 152.55,441.29 153.24,441.20 153.93,441.11 154.62,441.02 155.31,440.92 156.00,440.82 156.69,440.72 157.38,440.61 158.07,440.50 158.76,440.39 159.45,440.27 160.14,440.15 160.83,440.03 161.52,439.90 162.21,439.77 162.90,439.63 163.59,439.49 164.28,439.34 164.97,439.18 165.66,439.03 166.35,438.86 167.04,438.68 167.73,438.48 168.42,438.27 169.11,438.04 169.80,437.80 170.49,437.54 171.18,437.28 171.87,437.00 172.56,436.71 173.25,436.39 173.95,436.06 174.64,435.69 175.33,435.30 176.02,434.87 176.71,434.39 177.40,433.85 178.09,433.25 178.78,432.60 179.47,431.91 180.16,431.20 180.85,430.47 181.54,429.71 182.23,428.91 182.92,428.07 183.61,427.20 184.30,426.30 184.99,425.35 185.68,424.37 186.37,423.35 187.06,422.28 187.75,421.16 188.44,419.99 189.13,418.78 189.82,417.53 190.51,416.25 191.20,414.93 191.89,413.58 192.58,412.16 193.27,410.66 193.96,409.10 194.65,407.51 195.34,405.89 196.03,404.26 196.72,402.65 197.41,401.07 198.10,399.49 198.79,397.88 199.48,396.26 200.17,394.64 200.87,393.04 201.56,391.48 202.25,389.99 202.94,388.57 203.63,387.22 204.32,385.90 205.01,384.62 205.70,383.37 206.39,382.17 207.08,381.00 207.77,379.88 208.46,378.81 209.15,377.79 209.84,376.81 210.53,375.87 211.22,374.96 211.91,374.09 212.60,373.26 213.29,372.46 213.98,371.71 214.67,370.98 215.36,370.26 216.05,369.58 216.74,368.93 217.43,368.33 218.12,367.79 218.81,367.32 219.50,366.89 220.19,366.49 220.88,366.13 221.57,365.79 222.26,365.48 222.95,365.19 223.64,364.91 224.33,364.65 225.02,364.39 225.71,364.15 226.40,363.92 227.09,363.71 227.78,363.51 228.48,363.33 229.17,363.17 229.86,363.01 230.55,362.86 231.24,362.71 231.93,362.57 232.62,362.43 233.31,362.30 234.00,362.17 234.69,362.04 235.38,361.92 236.07,361.81 236.76,361.69 237.45,361.59 238.14,361.48 238.83,361.38 239.52,361.28 240.21,361.18 240.90,361.09 241.59,360.99 242.28,360.90 242.97,360.81 243.66,360.73 244.35,360.64 245.04,360.56 245.73,360.48 246.42,360.40 247.11,360.32 247.80,360.24 248.49,360.17 249.18,360.09 249.87,360.02 250.56,359.95 251.25,359.88 251.94,359.82 252.63,359.75 253.32,359.69 254.01,359.63 254.70,359.57 255.39,359.52 256.09,359.47 256.78,359.41 257.47,359.37 258.16,359.32 258.85,359.28 259.54,359.23 260.23,359.19 260.92,359.16 261.61,359.12 262.30,359.08 262.99,359.05 263.68,359.01 264.37,358.98 265.06,358.95 265.75,358.91 266.44,358.88 267.13,358.85 267.82,358.82 268.51,358.79 269.20,358.76 269.89,358.73 270.58,358.70 271.27,358.67 271.96,358.64 272.65,358.61 273.34,358.58 274.03,358.55 274.72,358.52 275.41,358.50 276.10,358.47 276.79,358.44 277.48,358.41 278.17,358.38 278.86,358.36 279.55,358.33 280.24,358.30 280.93,358.28 281.62,358.25 282.31,358.23 283.00,358.20 283.70,358.17 284.39,358.15 285.08,358.12 285.77,358.10 286.46,358.07 287.15,358.05 287.84,358.02 288.53,357.99 289.22,357.97 289.91,357.94 290.60,357.92 291.29,357.89 291.98,357.86 292.67,357.84 293.36,357.81 294.05,357.78 294.74,357.75 295.43,357.73 296.12,357.70 296.81,357.67 297.50,357.64 298.19,357.61 298.88,357.58 299.57,357.55 300.26,357.52 300.95,357.49 301.64,357.45 302.33,357.42 303.02,357.39 303.71,357.36 304.40,357.32 305.09,357.29 305.78,357.26 306.47,357.23 307.16,357.19 307.85,357.16 308.54,357.12 309.23,357.09 309.92,357.06 310.61,357.02 311.31,356.99 312.00,356.95 312.69,356.92 313.38,356.88 314.07,356.84 314.76,356.81 315.45,356.77 316.14,356.74 316.83,356.70 317.52,356.66 318.21,356.63 318.90,356.59 319.59,356.55 320.28,356.51 320.97,356.48 321.66,356.44 322.35,356.40 323.04,356.36 323.73,356.32 324.42,356.28 325.11,356.25 325.80,356.21 326.49,356.17 327.18,356.13 327.87,356.09 328.56,356.05 329.25,356.01 329.94,355.97 330.63,355.93 331.32,355.89 332.01,355.84 332.70,355.80 333.39,355.76 334.08,355.72 334.77,355.68 335.46,355.64 336.15,355.59 336.84,355.55 337.53,355.51 338.22,355.47 338.92,355.42 339.61,355.40" fill="none" stroke="#ff00ff" stroke-width="1.5" stroke-linejoin="round" stroke-linecap="round" />
<polyline points="64.20,446.32 64.89,446.28 65.58,446.24 66.27,446.20 66.96,446.16 67.65,446.12 68.34,446.08 69.03,446.04 69.72,446.00 70.41,445.96 71.10,445.92 71.79,445.88 72.48,445.84 73.17,445.80 73.86,445.77 74.55,445.73 75.24,445.69 75.93,445.65 76.62,445.62 77.31,445.58 78.00,445.54 78.69,445.50 79.38,445.47 80.07,445.43 80.76,445.40 81.45,445.36 82.14,445.32 82.83,445.29 83.52,445.25 84.21,445.22 84.90,445.18 85.59,445.15 86.28,445.11 86.97,445.08 87.66,445.05 88.35,445.01 89.04,444.98 89.73,444.95 90.42,444.91 91.12,444.88 91.81,444.85 92.50,444.81 93.19,444.78 93.88,444.75 94.57,444.72 95.26,444.69 95.95,444.66 96.64,444.62 97.33,444.59 98.02,444.56 98.71,444.53 99.40,444.51 100.09,444.48 100.78,444.45 101.47,444.42 102.16,444.39 102.85,444.37 103.54,444.34 104.23,444.31 104.92,444.29 105.61,444.26 106.30,444.23 106.99,444.21 107.68,444.18 108.37,444.16 109.06,444.13 109.75,444.11 110.44,444.08 111.13,444.05 111.82,444.03 112.51,444.00 113.20,443.98 113.89,443.95 114.58,443.93 115.27,443.90 115.96,443.87 116.65,443.85 117.34,443.82 118.03,443.79 118.73,443.76 119.42,443.74 120.11,443.71 120.80,443.68 121.49,443.65 122.18,443.62 122.87,443.59 123.56,443.56 124.25,443.53 124.94,443.50 125.63,443.47 126.32,443.44 127.01,443.41 127.70,443.38 128.39,443.35 129.08,443.32 129.77,443.29 130.46,443.26 131.15,443.23 131.84,443.19 132.53,443.16 133.22,443.12 133.91,443.09 134.60,443.05 135.29,443.01 135.98,442.97 136.67,442.93 137.36,442.88 138.05,442.84 138.74,442.79 139.43,442.74 140.12,442.69 140.81,442.63 141.50,442.58 142.19,442.52 142.88,442.45 143.57,442.39 144.26,442.32 144.95,442.26 145.64,442.19 146.34,442.12 147.03,442.04 147.72,441.97 148.41,441.89 149.10,441.81 149.79,441.73 150.48,441.65 151.17,441.57 151.86,441.48 152.55,441.40 153.24,441.31 153.93,441.22 154.62,441.13 155.31,441.03 156.00,440.94 156.69,440.84 157.38,440.73 158.07,440.63 158.76,440.52 159.45,440.41 160.14,440.29 160.83,440.17 161.52,440.05 162.21,439.92 162.90,439.79 163.59,439.65 164.28,439.51 164.97,439.36 165.66,439.21 166.35,439.05 167.04,438.89 167.73,438.71 168.42,438.51 169.11,438.30 169.80,438.08 170.49,437.84 171.18,437.58 171.87,437.32 172.56,437.04 173.25,436.75 173.95,436.44 174.64,436.11 175.33,435.75 176.02,435.36 176.71,434.94 177.40,434.47 178.09,433.94 178.78,433.35 179.47,432.70 180.16,432.02 180.85,431.31 181.54,430.58 182.23,429.83 182.92,429.04 183.61,428.21 184.30,427.34 184.99,426.44 185.68,425.50 186.37,424.53 187.06,423.51 187.75,422.45 188.44,421.33 189.13,420.17 189.82,418.97 190.51,417.73 191.20,416.45 191.89,415.14 192.58,413.80 193.27,412.39 193.96,410.90 194.65,409.35 195.34,407.76 196.03,406.14 196.72,404.51 197.41,402.90 198.10,401.31 198.79,399.74 199.48,398.13 200.17,396.51 200.87,394.89 201.56,393.29 202.25,391.72 202.94,390.21 203.63,388.78 204.32,387.42 205.01,386.10 205.70,384.82 206.39,383.56 207.08,382.35 207.77,381.18 208.46,380.05 209.15,378.97 209.84,377.95 210.53,376.96 211.22,376.01 211.91,375.10 212.60,374.23 213.29,373.39 213.98,372.59 214.67,371.82 215.36,371.09 216.05,370.37 216.74,369.68 217.43,369.03 218.12,368.42 218.81,367.87 219.50,367.39 220.19,366.95 220.88,366.55 221.57,366.18 222.26,365.84 222.95,365.53 223.64,365.24 224.33,364.96 225.02,364.69 225.71,364.43 226.40,364.19 227.09,363.96 227.78,363.74 228.48,363.54 229.17,363.36 229.86,363.19 230.55,363.03 231.24,362.88 231.93,362.73 232.62,362.59 233.31,362.45 234.00,362.32 234.69,362.19 235.38,362.06 236.07,361.94 236.76,361.82 237.45,361.71 238.14,361.60 238.83,361.50 239.52,361.39 240.21,361.29 240.90,361.19 241.59,361.10 242.28,361.01 242.97,360.92 243.66,360.83 244.35,360.74 245.04,360.66 245.73,360.57 246.42,360.49 247.11,360.41 247.80,360.33 248.49,360.25 249.18,360.18 249.87,360.10 250.56,360.03 251.25,359.96 251.94,359.89 252.63,359.83 253.32,359.76 254.01,359.70 254.70,359.64 255.39,359.58 256.09,359.53 256.78,359.47 257.47,359.42 258.16,359.37 258.85,359.33 259.54,359.28 260.23,359.24 260.92,359.20 261.61,359.16 262.30,359.12 262.99,359.09 263.68,359.05 264.37,359.02 265.06,358.98 265.75,358.95 266.44,358.92 267.13,358.89 267.82,358.86 268.51,358.83 269.20,358.80 269.89,358.77 270.58,358.74 271.27,358.71 271.96,358.68 272.65,358.65 273.34,358.62 274.03,358.59 274.72,358.56 275.41,358.53 276.10,358.50 276.79,358.47 277.48,358.44 278.17,358.42 278.86,358.39 279.55,358.36 280.24,358.33 280.93,358.31 281.62,358.28 282.31,358.26 283.00,358.23 283.70,358.20 284.39,358.18 285.08,358.15 285.77,358.13 286.46,358.10 287.15,358.08 287.84,358.05 288.53,358.02 289.22,358.00 289.91,357.97 290.60,357.95 291.29,357.92 291.98,357.89 292.67,357.87 293.36,357.84 294.05,357.81 294.74,357.79 295.43,357.76 296.12,357.73 296.81,357.70 297.50,357.67 298.19,357.64 298.88,357.61 299.57,357.58 300.26,357.55 300.95,357.52 301.64,357.49 302.33,357.46 303.02,357.43 303.71,357.39 304.40,357.36 305.09,357.33 305.78,357.30 306.47,357.26 307.16,357.23 307.85,357.20 308.54,357.16 309.23,357.13 309.92,357.10 310.61,357.06 311.31,357.03 312.00,356.99 312.69,356.96 313.38,356.92 314.07,356.89 314.76,356.85 315.45,356.81 316.14,356.78 316.83,356.74 317.52,356.71 318.21,356.67 318.90,356.63 319.59,356.60 320.28,356.56 320.97,356.52 321.66,356.48 322.35,356.44 323.04,356.41 323.73,356.37 324.42,356.33 325.11,356.29 325.80,356.25 326.49,356.21 327.18,356.17 327.87,356.13 328.56,356.09 329.25,356.05 329.94,356.01 330.63,355.97 331.32,355.93 332.01,355.89 332.70,355.85 333.39,355.81 334.08,355.77 334.77,355.73 335.46,355.68 336.15,355.64 336.84,355.60 337.53,355.56 338.22,355.51 338.92,355.47 339.61,355.43" fill="none" stroke="#ff00ff" stroke-width="1.5" stroke-linejoin="round" stroke-linecap="round" />
<polyline points="64.20,441.98 64.89,441.97 65.58,441.95 66.27,441.94 66.96,441.93 67.65,441.91 68.34,441.90 69.03,441.89 69.72,441.87 70.41,441.86 71.10,441.85 71.79,441.84 72.48,441.82 73.17,441.81 73.86,441.80 74.55,441.78 75.24,441.77 75.93,441.76 76.62,441.75 77.31,441.73 78.00,441.72 78.69,441.71 79.38,441.70 80.07,441.69 80.76,441.67 81.45,441.66 82.14,441.65 82.83,441.64 83.52,441.63 84.21,441.62 84.90,441.60 85.59,441.59 86.28,441.58 86.97,441.57 87.66,441.56 88.35,441.55 89.04,441.54 89.73,441.53 90.42,441.51 91.12,441.50 91.81,441.49 92.50,441.48 93.19,441.47 93.88,441.46 94.57,441.45 95.26,441.44 95.95,441.43 96.64,441.42 97.33,441.41 98.02,441.40 98.71,441.39 99.40,441.38 100.09,441.38 100.78,441.37 101.47,441.36 102.16,441.35 102.85,441.35 103.54,441.34 104.23,441.33 104.92,441.32 105.61,441.32 106.30,441.31 106.99,441.30 107.68,441.30 108.37,441.29 109.06,441.28 109.75,441.27 110.44,441.27 111.13,441.26 111.82,441.25 112.51,441.24 113.20,441.23 113.89,441.23 114.58,441.22 115.27,441.21 115.96,441.20 116.65,441.19 117.34,441.18 118.03,441.16 118.73,441.15 119.42,441.14 120.11,441.13 120.80,441.11 121.49,441.10 122.18,441.09 122.87,441.07 123.56,441.05 124.25,441.03 124.94,441.00 125.63,440.98 126.32,440.95 127.01,440.92 127.70,440.89 128.39,440.85 129.08,440.82 129.77,440.78 130.46,440.74 131.15,440.70 131.84,440.66 132.53,440.62 133.22,440.58 133.91,440.54 134.60,440.50 135.29,440.46 135.98,440.42 136.67,440.38 137.36,440.34 138.05,440.30 138.74,440.25 139.43,440.21 140.12,440.17 140.81,440.12 141.50,440.08 142.19,440.03 142.88,439.98 143.57,439.93 144.26,439.88 144.95,439.83 145.64,439.78 146.34,439.73 147.03,439.67 147.72,439.62 148.41,439.56 149.10,439.50 149.79,439.44 150.48,439.38 151.17,439.32 151.86,439.26 152.55,439.19 153.24,439.13 153.93,439.06 154.62,439.00 155.31,438.93 156.00,438.86 156.69,438.79 157.38,438.72 158.07,438.64 158.76,438.56 159.45,438.48 160.14,438.40 160.83,438.31 161.52,438.22 162.21,438.12 162.90,438.02 163.59,437.92 164.28,437.81 164.97,437.70 165.66,437.58 166.35,437.45 167.04,437.31 167.73,437.15 168.42,436.97 169.11,436.78 169.80,436.57 170.49,436.36 171.18,436.13 171.87,435.89 172.56,435.65 173.25,435.40 173.95,435.12 174.64,434.83 175.33,434.50 176.02,434.13 176.71,433.70 177.40,433.18 178.09,432.57 178.78,431.90 179.47,431.20 180.16,430.48 180.85,429.76 181.54,429.03 182.23,428.28 182.92,427.50 183.61,426.69 184.30,425.84 184.99,424.95 185.68,424.01 186.37,423.02 187.06,421.95 187.75,420.83 188.44,419.66 189.13,418.44 189.82,417.18 190.51,415.89 191.20,414.57 191.89,413.23 192.58,411.83 193.27,410.37 193.96,408.86 194.65,407.31 195.34,405.74 196.03,404.17 196.72,402.61 197.41,401.07 198.10,399.54 198.79,397.98 199.48,396.41 200.17,394.84 200.87,393.29 201.56,391.78 202.25,390.31 202.94,388.92 203.63,387.58 204.32,386.27 205.01,384.98 205.70,383.72 206.39,382.50 207.08,381.33 207.77,380.21 208.46,379.15 209.15,378.15 209.84,377.22 210.53,376.33 211.22,375.48 211.91,374.67 212.60,373.89 213.29,373.14 213.98,372.41 214.67,371.70 215.36,370.98 216.05,370.27 216.74,369.61 217.43,369.00 218.12,368.48 218.81,368.06 219.50,367.69 220.19,367.36 220.88,367.06 221.57,366.79 222.26,366.54 222.95,366.30 223.64,366.06 224.33,365.84 225.02,365.62 225.71,365.41 226.40,365.22 227.09,365.05 227.78,364.89 228.48,364.74 229.17,364.62 229.86,364.50 230.55,364.39 231.24,364.28 231.93,364.17 232.62,364.07 233.31,363.98 234.00,363.89 234.69,363.80 235.38,363.72 236.07,363.64 236.76,363.56 237.45,363.48 238.14,363.41 238.83,363.34 239.52,363.27 240.21,363.20 240.90,363.14 241.59,363.07 242.28,363.01 242.97,362.94 243.66,362.88 244.35,362.82 245.04,362.76 245.73,362.70 246.42,362.64 247.11,362.58 247.80,362.53 248.49,362.47 249.18,362.42 249.87,362.37 250.56,362.32 251.25,362.27 251.94,362.22 252.63,362.17 253.32,362.12 254.01,362.08 254.70,362.03 255.39,361.99 256.09,361.95 256.78,361.90 257.47,361.86 258.16,361.82 258.85,361.78 259.54,361.74 260.23,361.70 260.92,361.66 261.61,361.62 262.30,361.57 262.99,361.53 263.68,361.49 264.37,361.46 265.06,361.42 265.75,361.38 266.44,361.35 267.13,361.31 267.82,361.28 268.51,361.25 269.20,361.22 269.89,361.20 270.58,361.17 271.27,361.15 271.96,361.13 272.65,361.11 273.34,361.10 274.03,361.09 274.72,361.07 275.41,361.06 276.10,361.05 276.79,361.03 277.48,361.02 278.17,361.01 278.86,361.00 279.55,360.99 280.24,360.98 280.93,360.97 281.62,360.96 282.31,360.96 283.00,360.95 283.70,360.94 284.39,360.93 285.08,360.92 285.77,360.92 286.46,360.91 287.15,360.90 287.84,360.90 288.53,360.89 289.22,360.88 289.91,360.88 290.60,360.87 291.29,360.86 291.98,360.85 292.67,360.85 293.36,360.84 294.05,360.83 294.74,360.82 295.43,360.82 296.12,360.81 296.81,360.80 297.50,360.79 298.19,360.78 298.88,360.77 299.57,360.76 300.26,360.75 300.95,360.74 301.64,360.73 302.33,360.72 303.02,360.71 303.71,360.70 304.40,360.69 305.09,360.67 305.78,360.66 306.47,360.65 307.16,360.64 307.85,360.63 308.54,360.62 309.23,360.61 309.92,360.60 310.61,360.58 311.31,360.57 312.00,360.56 312.69,360.55 313.38,360.54 314.07,360.53 314.76,360.51 315.45,360.50 316.14,360.49 316.83,360.48 317.52,360.46 318.21,360.45 318.90,360.44 319.59,360.43 320.28,360.42 320.97,360.40 321.66,360.39 322.35,360.38 323.04,360.36 323.73,360.35 324.42,360.34 325.11,360.33 325.80,360.31 326.49,360.30 327.18,360.29 327.87,360.27 328.56,360.26 329.25,360.25 329.94,360.23 330.63,360.22 331.32,360.21 332.01,360.19 332.70,360.18 333.39,360.16 334.08,360.15 334.77,360.14 335.46,360.12 336.15,360.11 336.84,360.09 337.53,360.08 338.22,360.07 338.92,360.05 339.61,360.05" fill="none" stroke="#008000" stroke-width="1.5" stroke-linejoin="round" stroke-linecap="round" />
<polyline points="64.20,442.00 64.89,441.98 65.58,441.97 66.27,441.96 66.96,441.94 67.65,441.93 68.34,441.92 69.03,441.90 69.72,441.89 70.41,441.88 71.10,441.86 71.79,441.85 72.48,441.84 73.17,441.82 73.86,441.81 74.55,441.80 75.24,441.79 75.93,441.77 76.62,441.76 77.31,441.75 78.00,441.74 78.69,441.72 79.38,441.71 80.07,441.70 80.76,441.69 81.45,441.68 82.14,441.66 82.83,441.65 83.52,441.64 84.21,441.63 84.90,441.62 85.59,441.61 86.28,441.59 86.97,441.58 87.66,441.57 88.35,441.56 89.04,441.55 89.73,441.54 90.42,441.53 91.12,441.52 91.81,441.51 92.50,441.49 93.19,441.48 93.88,441.47 94.57,441.46 95.26,441.45 95.95,441.44 96.64,441.43 97.33,441.42 98.02,441.41 98.71,441.40 99.40,441.39 100.09,441.39 100.78,441.38 101.47,441.37 102.16,441.36 102.85,441.35 103.54,441.35 104.23,441.34 104.92,441.33 105.61,441.33 106.30,441.32 106.99,441.31 107.68,441.30 108.37,441.30 109.06,441.29 109.75,441.28 110.44,441.28 111.13,441.27 111.82,441.26 112.51,441.25 113.20,441.24 113.89,441.24 114.58,441.23 115.27,441.22 115.96,441.21 116.65,441.20 117.34,441.19 118.03,441.18 118.73,441.17 119.42,441.15 120.11,441.14 120.80,441.13 121.49,441.12 122.18,441.10 122.87,441.09 123.56,441.07 124.25,441.05 124.94,441.03 125.63,441.01 126.32,440.98 127.01,440.95 127.70,440.92 128.39,440.89 129.08,440.86 129.77,440.82 130.46,440.79 131.15,440.75 131.84,440.71 132.53,440.67 133.22,440.63 133.91,440.59 134.60,440.55 135.29,440.51 135.98,440.47 136.67,440.43 137.36,440.38 138.05,440.34 138.74,440.30 139.43,440.26 140.12,440.22 140.81,440.17 141.50,440.13 142.19,440.08 142.88,440.04 143.57,439.99 144.26,439.94 144.95,439.89 145.64,439.84 146.34,439.79 147.03,439.73 147.72,439.68 148.41,439.62 149.10,439.57 149.79,439.51 150.48,439.45 151.17,439.39 151.86,439.33 152.55,439.27 153.24,439.20 153.93,439.14 154.62,439.07 155.31,439.01 156.00,438.94 156.69,438.87 157.38,438.80 158.07,438.73 158.76,438.65 159.45,438.57 160.14,438.49 160.83,438.41 161.52,438.32 162.21,438.23 162.90,438.14 163.59,438.04 164.28,437.93 164.97,437.83 165.66,437.71 166.35,437.60 167.04,437.47 167.73,437.33 168.42,437.17 169.11,437.00 169.80,436.81 170.49,436.61 171.18,436.39 171.87,436.16 172.56,435.93 173.25,435.69 173.95,435.44 174.64,435.17 175.33,434.88 176.02,434.55 176.71,434.19 177.40,433.77 178.09,433.26 178.78,432.67 179.47,432.01 180.16,431.31 180.85,430.59 181.54,429.87 182.23,429.15 182.92,428.40 183.61,427.63 184.30,426.82 184.99,425.98 185.68,425.09 186.37,424.16 187.06,423.18 187.75,422.12 188.44,421.01 189.13,419.84 189.82,418.63 190.51,417.37 191.20,416.09 191.89,414.77 192.58,413.44 193.27,412.06 193.96,410.60 194.65,409.09 195.34,407.55 196.03,405.98 196.72,404.41 197.41,402.85 198.10,401.31 198.79,399.78 199.48,398.22 200.17,396.65 200.87,395.08 201.56,393.53 202.25,392.01 202.94,390.54 203.63,389.13 204.32,387.79 205.01,386.47 205.70,385.18 206.39,383.91 207.08,382.69 207.77,381.51 208.46,380.38 209.15,379.31 209.84,378.30 210.53,377.36 211.22,376.46 211.91,375.61 212.60,374.79 213.29,374.01 213.98,373.25 214.67,372.52 215.36,371.81 216.05,371.09 216.74,370.38 217.43,369.71 218.12,369.09 218.81,368.56 219.50,368.12 220.19,367.74 220.88,367.41 221.57,367.11 222.26,366.83 222.95,366.58 223.64,366.34 224.33,366.10 225.02,365.87 225.71,365.65 226.40,365.45 227.09,365.25 227.78,365.07 228.48,364.91 229.17,364.76 229.86,364.64 230.55,364.52 231.24,364.40 231.93,364.29 232.62,364.19 233.31,364.09 234.00,363.99 234.69,363.90 235.38,363.81 236.07,363.73 236.76,363.65 237.45,363.57 238.14,363.49 238.83,363.42 239.52,363.35 240.21,363.28 240.90,363.21 241.59,363.15 242.28,363.08 242.97,363.02 243.66,362.95 244.35,362.89 245.04,362.83 245.73,362.77 246.42,362.71 247.11,362.65 247.80,362.59 248.49,362.53 249.18,362.48 249.87,362.43 250.56,362.37 251.25,362.32 251.94,362.27 252.63,362.22 253.32,362.18 254.01,362.13 254.70,362.08 255.39,362.04 256.09,362.00 256.78,361.95 257.47,361.91 258.16,361.87 258.85,361.83 259.54,361.79 260.23,361.74 260.92,361.70 261.61,361.66 262.30,361.62 262.99,361.58 263.68,361.54 264.37,361.50 265.06,361.46 265.75,361.42 266.44,361.39 267.13,361.35 267.82,361.32 268.51,361.29 269.20,361.25 269.89,361.23 270.58,361.20 271.27,361.17 271.96,361.15 272.65,361.13 273.34,361.12 274.03,361.10 274.72,361.09 275.41,361.07 276.10,361.06 276.79,361.05 277.48,361.04 278.17,361.03 278.86,361.01 279.55,361.00 280.24,360.99 280.93,360.98 281.62,360.98 282.31,360.97 283.00,360.96 283.70,360.95 284.39,360.94 285.08,360.93 285.77,360.93 286.46,360.92 287.15,360.91 287.84,360.90 288.53,360.90 289.22,360.89 289.91,360.88 290.60,360.88 291.29,360.87 291.98,360.86 292.67,360.85 293.36,360.85 294.05,360.84 294.74,360.83 295.43,360.82 296.12,360.82 296.81,360.81 297.50,360.80 298.19,360.79 298.88,360.78 299.57,360.77 300.26,360.76 300.95,360.75 301.64,360.74 302.33,360.73 303.02,360.72 303.71,360.71 304.40,360.70 305.09,360.69 305.78,360.68 306.47,360.66 307.16,360.65 307.85,360.64 308.54,360.63 309.23,360.62 309.92,360.61 310.61,360.60 311.31,360.59 312.00,360.57 312.69,360.56 313.38,360.55 314.07,360.54 314.76,360.53 315.45,360.52 316.14,360.50 316.83,360.49 317.52,360.48 318.21,360.47 318.90,360.45 319.59,360.44 320.28,360.43 320.97,360.42 321.66,360.40 322.35,360.39 323.04,360.38 323.73,360.37 324.42,360.35 325.11,360.34 325.80,360.33 326.49,360.31 327.18,360.30 327.87,360.29 328.56,360.27 329.25,360.26 329.94,360.25 330.63,360.23 331.32,360.22 332.01,360.21 332.70,360.19 333.39,360.18 334.08,360.17 334.77,360.15 335.46,360.14 336.15,360.12 336.84,360.11 337.53,360.10 338.22,360.08 338.92,360.07 339.61,360.05" fill="none" stroke="#008000" stroke-width="1.5" stroke-linejoin="round" stroke-linecap="round" />
<polyline points="64.20,434.86 64.89,434.89 65.58,434.91 66.27,434.94 66.96,434.97 67.65,435.00 68.34,435.03 69.03,435.05 69.72,435.08 70.41,435.11 71.10,435.13 71.79,435.16 72.48,435.19 73.17,435.21 73.86,435.24 74.55,435.26 75.24,435.29 75.93,435.32 76.62,435.34 77.31,435.36 78.00,435.39 78.69,435.41 79.38,435.44 80.07,435.46 80.76,435.48 81.45,435.51 82.14,435.53 82.83,435.55 83.52,435.57 84.21,435.60 84.90,435.62 85.59,435.64 86.28,435.66 86.97,435.68 87.66,435.70 88.35,435.72 89.04,435.74 89.73,435.76 90.42,435.78 91.12,435.80 91.81,435.82 92.50,435.84 93.19,435.86 93.88,435.87 94.57,435.89 95.26,435.91 95.95,435.93 96.64,435.94 97.33,435.96 98.02,435.98 98.71,436.00 99.40,436.02 100.09,436.04 100.78,436.06 101.47,436.07 102.16,436.09 102.85,436.11 103.54,436.13 104.23,436.15 104.92,436.17 105.61,436.18 106.30,436.20 106.99,436.22 107.68,436.24 108.37,436.25 109.06,436.27 109.75,436.28 110.44,436.30 111.13,436.31 111.82,436.33 112.51,436.34 113.20,436.35 113.89,436.37 114.58,436.38 115.27,436.39 115.96,436.40 116.65,436.41 117.34,436.42 118.03,436.42 118.73,436.43 119.42,436.43 120.11,436.44 120.80,436.44 121.49,436.44 122.18,436.44 122.87,436.44 123.56,436.44 124.25,436.44 124.94,436.43 125.63,436.43 126.32,436.42 127.01,436.42 127.70,436.41 128.39,436.40 129.08,436.39 129.77,436.38 130.46,436.37 131.15,436.36 131.84,436.35 132.53,436.34 133.22,436.33 133.91,436.32 134.60,436.30 135.29,436.29 135.98,436.28 136.67,436.27 137.36,436.25 138.05,436.24 138.74,436.22 139.43,436.20 140.12,436.18 140.81,436.16 141.50,436.14 142.19,436.11 142.88,436.09 143.57,436.06 144.26,436.03 144.95,436.00 145.64,435.98 146.34,435.95 147.03,435.92 147.72,435.89 148.41,435.86 149.10,435.83 149.79,435.80 150.48,435.77 151.17,435.74 151.86,435.71 152.55,435.68 153.24,435.65 153.93,435.63 154.62,435.60 155.31,435.57 156.00,435.54 156.69,435.51 157.38,435.48 158.07,435.45 158.76,435.42 159.45,435.39 160.14,435.36 160.83,435.33 161.52,435.29 162.21,435.25 162.90,435.22 163.59,435.17 164.28,435.13 164.97,435.09 165.66,435.04 166.35,434.99 167.04,434.94 167.73,434.88 168.42,434.82 169.11,434.76 169.80,434.68 170.49,434.60 171.18,434.50 171.87,434.39 172.56,434.25 173.25,434.06 173.95,433.79 174.64,433.47 175.33,433.10 176.02,432.70 176.71,432.27 177.40,431.76 178.09,431.16 178.78,430.50 179.47,429.80 180.16,429.07 180.85,428.32 181.54,427.52 182.23,426.66 182.92,425.75 183.61,424.81 184.30,423.84 184.99,422.86 185.68,421.87 186.37,420.88 187.06,419.88 187.75,418.87 188.44,417.83 189.13,416.77 189.82,415.68 190.51,414.56 191.20,413.40 191.89,412.20 192.58,410.93 193.27,409.59 193.96,408.21 194.65,406.79 195.34,405.35 196.03,403.91 196.72,402.48 197.41,401.08 198.10,399.67 198.79,398.24 199.48,396.80 200.17,395.36 200.87,393.94 201.56,392.56 202.25,391.23 202.94,389.96 203.63,388.76 204.32,387.60 205.01,386.48 205.70,385.39 206.39,384.33 207.08,383.30 207.77,382.28 208.46,381.28 209.15,380.29 209.84,379.31 210.53,378.32 211.22,377.36 211.91,376.42 212.60,375.51 213.29,374.65 213.98,373.85 214.67,373.11 215.36,372.37 216.05,371.67 216.74,371.01 217.43,370.42 218.12,369.91 218.81,369.48 219.50,369.09 220.19,368.72 220.88,368.40 221.57,368.13 222.26,367.94 222.95,367.81 223.64,367.70 224.33,367.60 225.02,367.52 225.71,367.44 226.40,367.37 227.09,367.31 227.78,367.26 228.48,367.21 229.17,367.16 229.86,367.11 230.55,367.07 231.24,367.02 231.93,366.98 232.62,366.94 233.31,366.91 234.00,366.87 234.69,366.84 235.38,366.81 236.07,366.77 236.76,366.74 237.45,366.71 238.14,366.69 238.83,366.66 239.52,366.63 240.21,366.60 240.90,366.57 241.59,366.55 242.28,366.52 242.97,366.49 243.66,366.46 244.35,366.43 245.04,366.40 245.73,366.37 246.42,366.34 247.11,366.31 247.80,366.28 248.49,366.25 249.18,366.22 249.87,366.19 250.56,366.17 251.25,366.14 251.94,366.11 252.63,366.09 253.32,366.06 254.01,366.04 254.70,366.02 255.39,366.00 256.09,365.98 256.78,365.96 257.47,365.95 258.16,365.93 258.85,365.92 259.54,365.91 260.23,365.89 260.92,365.88 261.61,365.87 262.30,365.86 262.99,365.85 263.68,365.84 264.37,365.83 265.06,365.82 265.75,365.81 266.44,365.80 267.13,365.79 267.82,365.78 268.51,365.78 269.20,365.77 269.89,365.77 270.58,365.76 271.27,365.76 271.96,365.76 272.65,365.76 273.34,365.76 274.03,365.76 274.72,365.76 275.41,365.77 276.10,365.77 276.79,365.78 277.48,365.79 278.17,365.79 278.86,365.80 279.55,365.81 280.24,365.82 280.93,365.83 281.62,365.85 282.31,365.86 283.00,365.87 283.70,365.89 284.39,365.90 285.08,365.92 285.77,365.93 286.46,365.95 287.15,365.96 287.84,365.98 288.53,366.00 289.22,366.02 289.91,366.03 290.60,366.05 291.29,366.07 291.98,366.09 292.67,366.11 293.36,366.13 294.05,366.15 294.74,366.16 295.43,366.18 296.12,366.20 296.81,366.22 297.50,366.24 298.19,366.26 298.88,366.27 299.57,366.29 300.26,366.31 300.95,366.33 301.64,366.34 302.33,366.36 303.02,366.38 303.71,366.40 304.40,366.42 305.09,366.44 305.78,366.46 306.47,366.48 307.16,366.50 307.85,366.52 308.54,366.54 309.23,366.56 309.92,366.58 310.61,366.60 311.31,366.63 312.00,366.65 312.69,366.67 313.38,366.69 314.07,366.72 314.76,366.74 315.45,366.76 316.14,366.79 316.83,366.81 317.52,366.84 318.21,366.86 318.90,366.89 319.59,366.91 320.28,366.94 320.97,366.96 321.66,366.99 322.35,367.01 323.04,367.04 323.73,367.07 324.42,367.09 325.11,367.12 325.80,367.15 326.49,367.17 327.18,367.20 327.87,367.23 328.56,367.26 329.25,367.29 329.94,367.32 330.63,367.34 331.32,367.37 332.01,367.40 332.70,367.43 333.39,367.46 334.08,367.49 334.77,367.52 335.46,367.55 336.15,367.58 336.84,367.61 337.53,367.64 338.22,367.68 338.92,367.71 339.61,367.72" fill="none" stroke="#00ffff" stroke-width="1.5" stroke-linejoin="round" stroke-linecap="round" />
<polyline points="64.20,434.82 64.89,434.85 65.58,434.88 66.27,434.91 66.96,434.94 67.65,434.97 68.34,434.99 69.03,435.02 69.72,435.05 70.41,435.08 71.10,435.10 71.79,435.13 72.48,435.16 73.17,435.18 73.86,435.21 74.55,435.24 75.24,435.26 75.93,435.29 76.62,435.31 77.31,435.34 78.00,435.36 78.69,435.39 79.38,435.41 80.07,435.43 80.76,435.46 81.45,435.48 82.14,435.50 82.83,435.53 83.52,435.55 84.21,435.57 84.90,435.59 85.59,435.61 86.28,435.64 86.97,435.66 87.66,435.68 88.35,435.70 89.04,435.72 89.73,435.74 90.42,435.76 91.12,435.78 91.81,435.80 92.50,435.82 93.19,435.84 93.88,435.85 94.57,435.87 95.26,435.89 95.95,435.91 96.64,435.92 97.33,435.94 98.02,435.96 98.71,435.98 99.40,436.00 100.09,436.02 100.78,436.03 101.47,436.05 102.16,436.07 102.85,436.09 103.54,436.11 104.23,436.13 104.92,436.15 105.61,436.16 106.30,436.18 106.99,436.20 107.68,436.22 108.37,436.23 109.06,436.25 109.75,436.27 110.44,436.28 111.13,436.30 111.82,436.31 112.51,436.33 113.20,436.34 113.89,436.35 114.58,436.36 115.27,436.38 115.96,436.39 116.65,436.40 117.34,436.41 118.03,436.41 118.73,436.42 119.42,436.43 120.11,436.43 120.80,436.44 121.49,436.44 122.18,436.44 122.87,436.44 123.56,436.44 124.25,436.44 124.94,436.44 125.63,436.43 126.32,436.43 127.01,436.42 127.70,436.42 128.39,436.41 129.08,436.40 129.77,436.39 130.46,436.39 131.15,436.38 131.84,436.36 132.53,436.35 133.22,436.34 133.91,436.33 134.60,436.32 135.29,436.31 135.98,436.29 136.67,436.28 137.36,436.27 138.05,436.26 138.74,436.24 139.43,436.22 140.12,436.21 140.81,436.19 141.50,436.16 142.19,436.14 142.88,436.12 143.57,436.09 144.26,436.06 144.95,436.04 145.64,436.01 146.34,435.98 147.03,435.95 147.72,435.92 148.41,435.89 149.10,435.86 149.79,435.83 150.48,435.80 151.17,435.77 151.86,435.74 152.55,435.71 153.24,435.69 153.93,435.66 154.62,435.63 155.31,435.60 156.00,435.57 156.69,435.55 157.38,435.52 158.07,435.49 158.76,435.46 159.45,435.43 160.14,435.40 160.83,435.37 161.52,435.33 162.21,435.30 162.90,435.26 163.59,435.22 164.28,435.18 164.97,435.14 165.66,435.09 166.35,435.05 167.04,435.00 167.73,434.95 168.42,434.89 169.11,434.83 169.80,434.77 170.49,434.69 171.18,434.61 171.87,434.51 172.56,434.40 173.25,434.28 173.95,434.09 174.64,433.84 175.33,433.52 176.02,433.16 176.71,432.77 177.40,432.35 178.09,431.84 178.78,431.26 179.47,430.61 180.16,429.91 180.85,429.18 181.54,428.44 182.23,427.64 182.92,426.79 183.61,425.89 184.30,424.96 184.99,423.99 185.68,423.01 186.37,422.03 187.06,421.04 187.75,420.04 188.44,419.03 189.13,417.99 189.82,416.93 190.51,415.85 191.20,414.73 191.89,413.58 192.58,412.39 193.27,411.13 193.96,409.80 194.65,408.42 195.34,407.01 196.03,405.57 196.72,404.13 197.41,402.70 198.10,401.29 198.79,399.89 199.48,398.46 200.17,397.02 200.87,395.58 201.56,394.16 202.25,392.77 202.94,391.43 203.63,390.15 204.32,388.94 205.01,387.78 205.70,386.65 206.39,385.56 207.08,384.49 207.77,383.46 208.46,382.44 209.15,381.43 209.84,380.44 210.53,379.46 211.22,378.47 211.91,377.51 212.60,376.56 213.29,375.65 213.98,374.78 214.67,373.97 215.36,373.22 216.05,372.49 216.74,371.78 217.43,371.11 218.12,370.51 218.81,369.98 219.50,369.55 220.19,369.15 220.88,368.77 221.57,368.45 222.26,368.17 222.95,367.96 223.64,367.83 224.33,367.71 225.02,367.62 225.71,367.53 226.40,367.45 227.09,367.38 227.78,367.32 228.48,367.27 229.17,367.21 229.86,367.17 230.55,367.12 231.24,367.07 231.93,367.03 232.62,366.99 233.31,366.95 234.00,366.91 234.69,366.88 235.38,366.84 236.07,366.81 236.76,366.78 237.45,366.75 238.14,366.72 238.83,366.69 239.52,366.66 240.21,366.63 240.90,366.61 241.59,366.58 242.28,366.55 242.97,366.52 243.66,366.49 244.35,366.47 245.04,366.44 245.73,366.41 246.42,366.38 247.11,366.35 247.80,366.32 248.49,366.29 249.18,366.26 249.87,366.23 250.56,366.20 251.25,366.17 251.94,366.14 252.63,366.12 253.32,366.09 254.01,366.07 254.70,366.04 255.39,366.02 256.09,366.00 256.78,365.98 257.47,365.96 258.16,365.95 258.85,365.93 259.54,365.92 260.23,365.91 260.92,365.90 261.61,365.88 262.30,365.87 262.99,365.86 263.68,365.85 264.37,365.84 265.06,365.83 265.75,365.82 266.44,365.81 267.13,365.80 267.82,365.79 268.51,365.78 269.20,365.78 269.89,365.77 270.58,365.77 271.27,365.76 271.96,365.76 272.65,365.76 273.34,365.76 274.03,365.76 274.72,365.76 275.41,365.76 276.10,365.77 276.79,365.77 277.48,365.78 278.17,365.78 278.86,365.79 279.55,365.80 280.24,365.81 280.93,365.82 281.62,365.83 282.31,365.84 283.00,365.86 283.70,365.87 284.39,365.88 285.08,365.90 285.77,365.91 286.46,365.93 287.15,365.95 287.84,365.96 288.53,365.98 289.22,366.00 289.91,366.01 290.60,366.03 291.29,366.05 291.98,366.07 292.67,366.09 293.36,366.11 294.05,366.12 294.74,366.14 295.43,366.16 296.12,366.18 296.81,366.20 297.50,366.22 298.19,366.23 298.88,366.25 299.57,366.27 300.26,366.29 300.95,366.31 301.64,366.32 302.33,366.34 303.02,366.36 303.71,366.38 304.40,366.40 305.09,366.42 305.78,366.44 306.47,366.46 307.16,366.48 307.85,366.50 308.54,366.52 309.23,366.54 309.92,366.56 310.61,366.58 311.31,366.60 312.00,366.62 312.69,366.65 313.38,366.67 314.07,366.69 314.76,366.71 315.45,366.74 316.14,366.76 316.83,366.78 317.52,366.81 318.21,366.83 318.90,366.86 319.59,366.88 320.28,366.91 320.97,366.93 321.66,366.96 322.35,366.98 323.04,367.01 323.73,367.04 324.42,367.06 325.11,367.09 325.80,367.12 326.49,367.14 327.18,367.17 327.87,367.20 328.56,367.23 329.25,367.25 329.94,367.28 330.63,367.31 331.32,367.34 332.01,367.37 332.70,367.40 333.39,367.43 334.08,367.46 334.77,367.49 335.46,367.52 336.15,367.55 336.84,367.58 337.53,367.61 338.22,367.64 338.92,367.67 339.61,367.70" fill="none" stroke="#00ffff" stroke-width="1.5" stroke-linejoin="round" stroke-linecap="round" />
<rect x="55.20" y="286.40" width="284.80" height="228.90" fill="none" stroke="#000" stroke-width="1.8"/>
<line x1="83.90" y1="515.30" x2="83.90" y2="511.50" stroke="#000" stroke-width="1.6" />
<line x1="83.90" y1="286.40" x2="83.90" y2="290.20" stroke="#000" stroke-width="1.6" />
<line x1="140.85" y1="515.30" x2="140.85" y2="511.50" stroke="#000" stroke-width="1.6" />
<line x1="140.85" y1="286.40" x2="140.85" y2="290.20" stroke="#000" stroke-width="1.6" />
<line x1="197.80" y1="515.30" x2="197.80" y2="511.50" stroke="#000" stroke-width="1.6" />
<line x1="197.80" y1="286.40" x2="197.80" y2="290.20" stroke="#000" stroke-width="1.6" />
<line x1="254.75" y1="515.30" x2="254.75" y2="511.50" stroke="#000" stroke-width="1.6" />
<line x1="254.75" y1="286.40" x2="254.75" y2="290.20" stroke="#000" stroke-width="1.6" />
<line x1="311.70" y1="515.30" x2="311.70" y2="511.50" stroke="#000" stroke-width="1.6" />
<line x1="311.70" y1="286.40" x2="311.70" y2="290.20" stroke="#000" stroke-width="1.6" />
<line x1="112.38" y1="515.30" x2="112.38" y2="513.30" stroke="#000" stroke-width="1.6" />
<line x1="112.38" y1="286.40" x2="112.38" y2="288.40" stroke="#000" stroke-width="1.6" />
<line x1="169.33" y1="515.30" x2="169.33" y2="513.30" stroke="#000" stroke-width="1.6" />
<line x1="169.33" y1="286.40" x2="169.33" y2="288.40" stroke="#000" stroke-width="1.6" />
<line x1="226.28" y1="515.30" x2="226.28" y2="513.30" stroke="#000" stroke-width="1.6" />
<line x1="226.28" y1="286.40" x2="226.28" y2="288.40" stroke="#000" stroke-width="1.6" />
<line x1="283.23" y1="515.30" x2="283.23" y2="513.30" stroke="#000" stroke-width="1.6" />
<line x1="283.23" y1="286.40" x2="283.23" y2="288.40" stroke="#000" stroke-width="1.6" />
<line x1="55.20" y1="508.20" x2="59.00" y2="508.20" stroke="#000" stroke-width="1.6" />
<line x1="340.00" y1="508.20" x2="336.20" y2="508.20" stroke="#000" stroke-width="1.6" />
<line x1="55.20" y1="472.50" x2="59.00" y2="472.50" stroke="#000" stroke-width="1.6" />
<line x1="340.00" y1="472.50" x2="336.20" y2="472.50" stroke="#000" stroke-width="1.6" />
<line x1="55.20" y1="436.80" x2="59.00" y2="436.80" stroke="#000" stroke-width="1.6" />
<line x1="340.00" y1="436.80" x2="336.20" y2="436.80" stroke="#000" stroke-width="1.6" />
<line x1="55.20" y1="401.10" x2="59.00" y2="401.10" stroke="#000" stroke-width="1.6" />
<line x1="340.00" y1="401.10" x2="336.20" y2="401.10" stroke="#000" stroke-width="1.6" />
<line x1="55.20" y1="365.40" x2="59.00" y2="365.40" stroke="#000" stroke-width="1.6" />
<line x1="340.00" y1="365.40" x2="336.20" y2="365.40" stroke="#000" stroke-width="1.6" />
<line x1="55.20" y1="329.70" x2="59.00" y2="329.70" stroke="#000" stroke-width="1.6" />
<line x1="340.00" y1="329.70" x2="336.20" y2="329.70" stroke="#000" stroke-width="1.6" />
<line x1="55.20" y1="294.00" x2="59.00" y2="294.00" stroke="#000" stroke-width="1.6" />
<line x1="340.00" y1="294.00" x2="336.20" y2="294.00" stroke="#000" stroke-width="1.6" />
<line x1="55.20" y1="490.35" x2="57.20" y2="490.35" stroke="#000" stroke-width="1.6" />
<line x1="340.00" y1="490.35" x2="338.00" y2="490.35" stroke="#000" stroke-width="1.6" />
<line x1="55.20" y1="454.65" x2="57.20" y2="454.65" stroke="#000" stroke-width="1.6" />
<line x1="340.00" y1="454.65" x2="338.00" y2="454.65" stroke="#000" stroke-width="1.6" />
<line x1="55.20" y1="418.95" x2="57.20" y2="418.95" stroke="#000" stroke-width="1.6" />
<line x1="340.00" y1="418.95" x2="338.00" y2="418.95" stroke="#000" stroke-width="1.6" />
<line x1="55.20" y1="383.25" x2="57.20" y2="383.25" stroke="#000" stroke-width="1.6" />
<line x1="340.00" y1="383.25" x2="338.00" y2="383.25" stroke="#000" stroke-width="1.6" />
<line x1="55.20" y1="347.55" x2="57.20" y2="347.55" stroke="#000" stroke-width="1.6" />
<line x1="340.00" y1="347.55" x2="338.00" y2="347.55" stroke="#000" stroke-width="1.6" />
<line x1="55.20" y1="311.85" x2="57.20" y2="311.85" stroke="#000" stroke-width="1.6" />
<line x1="340.00" y1="311.85" x2="338.00" y2="311.85" stroke="#000" stroke-width="1.6" />
<text transform="translate(49.00,296.90) scale(0.93,1)" font-family='"Liberation Sans", sans-serif' font-size="10.5" text-anchor="end" fill="#2a2a2a">0,3</text>
<text transform="translate(49.00,332.60) scale(0.93,1)" font-family='"Liberation Sans", sans-serif' font-size="10.5" text-anchor="end" fill="#2a2a2a">0,2</text>
<text transform="translate(49.00,368.30) scale(0.93,1)" font-family='"Liberation Sans", sans-serif' font-size="10.5" text-anchor="end" fill="#2a2a2a">0,1</text>
<text transform="translate(49.00,404.00) scale(0.93,1)" font-family='"Liberation Sans", sans-serif' font-size="10.5" text-anchor="end" fill="#2a2a2a">0,0</text>
<text transform="translate(49.00,439.70) scale(0.93,1)" font-family='"Liberation Sans", sans-serif' font-size="10.5" text-anchor="end" fill="#2a2a2a">-0,1</text>
<text transform="translate(49.00,475.40) scale(0.93,1)" font-family='"Liberation Sans", sans-serif' font-size="10.5" text-anchor="end" fill="#2a2a2a">-0,2</text>
<text transform="translate(49.00,511.10) scale(0.93,1)" font-family='"Liberation Sans", sans-serif' font-size="10.5" text-anchor="end" fill="#2a2a2a">-0,3</text>
<text transform="translate(83.90,527.80) scale(1.0,1)" font-family='"Liberation Sans", sans-serif' font-size="10.5" text-anchor="middle" fill="#2a2a2a">-20</text>
<text transform="translate(140.85,527.80) scale(1.0,1)" font-family='"Liberation Sans", sans-serif' font-size="10.5" text-anchor="middle" fill="#2a2a2a">-10</text>
<text transform="translate(197.80,527.80) scale(1.0,1)" font-family='"Liberation Sans", sans-serif' font-size="10.5" text-anchor="middle" fill="#2a2a2a">0</text>
<text transform="translate(254.75,527.80) scale(1.0,1)" font-family='"Liberation Sans", sans-serif' font-size="10.5" text-anchor="middle" fill="#2a2a2a">10</text>
<text transform="translate(311.70,527.80) scale(1.0,1)" font-family='"Liberation Sans", sans-serif' font-size="10.5" text-anchor="middle" fill="#2a2a2a">20</text>
<text x="197.70" y="547.50" font-family='"Liberation Sans", sans-serif' font-size="14" font-weight="bold" text-anchor="middle" fill="#000" >Field (kOe)</text>
<text transform="translate(20.2,389.4) rotate(-90)" font-family='"Liberation Sans", sans-serif' font-size="14" font-weight="bold" text-anchor="middle" fill="#000">M (Am<tspan dy="-5.5" font-size="10">2</tspan><tspan dy="5.5">/kg)</tspan></text>
<text x="1.60" y="301.70" font-family='"Liberation Serif", serif' font-size="21" font-weight="bold" text-anchor="start" fill="#000" >C)</text>
<rect x="59.2" y="290.3" width="65.6" height="90.09999999999997" fill="#fff" stroke="#9a9a9a" stroke-width="0.9"/>
<line x1="60.60" y1="298.90" x2="87.90" y2="298.90" stroke="#000" stroke-width="1.5" />
<text x="90.80" y="303.30" font-family='"Liberation Sans", sans-serif' font-size="12.2" font-weight="normal" text-anchor="start" fill="#2a2a2a" >2 K</text>
<line x1="60.60" y1="313.42" x2="87.90" y2="313.42" stroke="#ff0000" stroke-width="1.5" />
<text x="90.80" y="317.82" font-family='"Liberation Sans", sans-serif' font-size="12.2" font-weight="normal" text-anchor="start" fill="#2a2a2a" >10 K</text>
<line x1="60.60" y1="327.94" x2="87.90" y2="327.94" stroke="#0000ff" stroke-width="1.5" />
<text x="90.80" y="332.34" font-family='"Liberation Sans", sans-serif' font-size="12.2" font-weight="normal" text-anchor="start" fill="#2a2a2a" >20 K</text>
<line x1="60.60" y1="342.46" x2="87.90" y2="342.46" stroke="#ff00ff" stroke-width="1.5" />
<text x="90.80" y="346.86" font-family='"Liberation Sans", sans-serif' font-size="12.2" font-weight="normal" text-anchor="start" fill="#2a2a2a" >50 K</text>
<line x1="60.60" y1="356.98" x2="87.90" y2="356.98" stroke="#008000" stroke-width="1.5" />
<text x="90.80" y="361.38" font-family='"Liberation Sans", sans-serif' font-size="12.2" font-weight="normal" text-anchor="start" fill="#2a2a2a" >100 K</text>
<line x1="60.60" y1="371.50" x2="87.90" y2="371.50" stroke="#00ffff" stroke-width="1.5" />
<text x="90.80" y="375.90" font-family='"Liberation Sans", sans-serif' font-size="12.2" font-weight="normal" text-anchor="start" fill="#2a2a2a" >300 K</text>
<rect x="221.5" y="408.6" width="109.30000000000001" height="87.39999999999998" fill="#fff" stroke="#888" stroke-width="0.6"/>
<text x="219.50" y="410.20" font-family='"Liberation Sans", sans-serif' font-size="4.6" font-weight="normal" text-anchor="end" fill="#333" >0,04</text>
<line x1="221.50" y1="408.60" x2="223.00" y2="408.60" stroke="#777" stroke-width="0.5" />
<line x1="330.80" y1="408.60" x2="329.30" y2="408.60" stroke="#777" stroke-width="0.5" />
<text x="219.50" y="421.13" font-family='"Liberation Sans", sans-serif' font-size="4.6" font-weight="normal" text-anchor="end" fill="#333" >0,03</text>
<line x1="221.50" y1="419.53" x2="223.00" y2="419.53" stroke="#777" stroke-width="0.5" />
<line x1="330.80" y1="419.53" x2="329.30" y2="419.53" stroke="#777" stroke-width="0.5" />
<text x="219.50" y="432.05" font-family='"Liberation Sans", sans-serif' font-size="4.6" font-weight="normal" text-anchor="end" fill="#333" >0,02</text>
<line x1="221.50" y1="430.45" x2="223.00" y2="430.45" stroke="#777" stroke-width="0.5" />
<line x1="330.80" y1="430.45" x2="329.30" y2="430.45" stroke="#777" stroke-width="0.5" />
<text x="219.50" y="442.98" font-family='"Liberation Sans", sans-serif' font-size="4.6" font-weight="normal" text-anchor="end" fill="#333" >0,01</text>
<line x1="221.50" y1="441.38" x2="223.00" y2="441.38" stroke="#777" stroke-width="0.5" />
<line x1="330.80" y1="441.38" x2="329.30" y2="441.38" stroke="#777" stroke-width="0.5" />
<text x="219.50" y="453.90" font-family='"Liberation Sans", sans-serif' font-size="4.6" font-weight="normal" text-anchor="end" fill="#333" >0,00</text>
<line x1="221.50" y1="452.30" x2="223.00" y2="452.30" stroke="#777" stroke-width="0.5" />
<line x1="330.80" y1="452.30" x2="329.30" y2="452.30" stroke="#777" stroke-width="0.5" />
<text x="219.50" y="464.83" font-family='"Liberation Sans", sans-serif' font-size="4.6" font-weight="normal" text-anchor="end" fill="#333" >-0,01</text>
<line x1="221.50" y1="463.23" x2="223.00" y2="463.23" stroke="#777" stroke-width="0.5" />
<line x1="330.80" y1="463.23" x2="329.30" y2="463.23" stroke="#777" stroke-width="0.5" />
<text x="219.50" y="475.75" font-family='"Liberation Sans", sans-serif' font-size="4.6" font-weight="normal" text-anchor="end" fill="#333" >-0,02</text>
<line x1="221.50" y1="474.15" x2="223.00" y2="474.15" stroke="#777" stroke-width="0.5" />
<line x1="330.80" y1="474.15" x2="329.30" y2="474.15" stroke="#777" stroke-width="0.5" />
<text x="219.50" y="486.68" font-family='"Liberation Sans", sans-serif' font-size="4.6" font-weight="normal" text-anchor="end" fill="#333" >-0,03</text>
<line x1="221.50" y1="485.07" x2="223.00" y2="485.07" stroke="#777" stroke-width="0.5" />
<line x1="330.80" y1="485.07" x2="329.30" y2="485.07" stroke="#777" stroke-width="0.5" />
<text x="219.50" y="497.60" font-family='"Liberation Sans", sans-serif' font-size="4.6" font-weight="normal" text-anchor="end" fill="#333" >-0,04</text>
<line x1="221.50" y1="496.00" x2="223.00" y2="496.00" stroke="#777" stroke-width="0.5" />
<line x1="330.80" y1="496.00" x2="329.30" y2="496.00" stroke="#777" stroke-width="0.5" />
<line x1="221.50" y1="408.60" x2="221.50" y2="409.90" stroke="#777" stroke-width="0.5" />
<line x1="221.50" y1="496.00" x2="221.50" y2="494.70" stroke="#777" stroke-width="0.5" />
<line x1="228.33" y1="408.60" x2="228.33" y2="409.90" stroke="#777" stroke-width="0.5" />
<line x1="228.33" y1="496.00" x2="228.33" y2="494.70" stroke="#777" stroke-width="0.5" />
<line x1="235.16" y1="408.60" x2="235.16" y2="409.90" stroke="#777" stroke-width="0.5" />
<line x1="235.16" y1="496.00" x2="235.16" y2="494.70" stroke="#777" stroke-width="0.5" />
<line x1="241.99" y1="408.60" x2="241.99" y2="409.90" stroke="#777" stroke-width="0.5" />
<line x1="241.99" y1="496.00" x2="241.99" y2="494.70" stroke="#777" stroke-width="0.5" />
<line x1="248.82" y1="408.60" x2="248.82" y2="409.90" stroke="#777" stroke-width="0.5" />
<line x1="248.82" y1="496.00" x2="248.82" y2="494.70" stroke="#777" stroke-width="0.5" />
<line x1="255.66" y1="408.60" x2="255.66" y2="409.90" stroke="#777" stroke-width="0.5" />
<line x1="255.66" y1="496.00" x2="255.66" y2="494.70" stroke="#777" stroke-width="0.5" />
<line x1="262.49" y1="408.60" x2="262.49" y2="409.90" stroke="#777" stroke-width="0.5" />
<line x1="262.49" y1="496.00" x2="262.49" y2="494.70" stroke="#777" stroke-width="0.5" />
<line x1="269.32" y1="408.60" x2="269.32" y2="409.90" stroke="#777" stroke-width="0.5" />
<line x1="269.32" y1="496.00" x2="269.32" y2="494.70" stroke="#777" stroke-width="0.5" />
<line x1="276.15" y1="408.60" x2="276.15" y2="409.90" stroke="#777" stroke-width="0.5" />
<line x1="276.15" y1="496.00" x2="276.15" y2="494.70" stroke="#777" stroke-width="0.5" />
<line x1="282.98" y1="408.60" x2="282.98" y2="409.90" stroke="#777" stroke-width="0.5" />
<line x1="282.98" y1="496.00" x2="282.98" y2="494.70" stroke="#777" stroke-width="0.5" />
<line x1="289.81" y1="408.60" x2="289.81" y2="409.90" stroke="#777" stroke-width="0.5" />
<line x1="289.81" y1="496.00" x2="289.81" y2="494.70" stroke="#777" stroke-width="0.5" />
<line x1="296.64" y1="408.60" x2="296.64" y2="409.90" stroke="#777" stroke-width="0.5" />
<line x1="296.64" y1="496.00" x2="296.64" y2="494.70" stroke="#777" stroke-width="0.5" />
<line x1="303.48" y1="408.60" x2="303.48" y2="409.90" stroke="#777" stroke-width="0.5" />
<line x1="303.48" y1="496.00" x2="303.48" y2="494.70" stroke="#777" stroke-width="0.5" />
<line x1="310.31" y1="408.60" x2="310.31" y2="409.90" stroke="#777" stroke-width="0.5" />
<line x1="310.31" y1="496.00" x2="310.31" y2="494.70" stroke="#777" stroke-width="0.5" />
<line x1="317.14" y1="408.60" x2="317.14" y2="409.90" stroke="#777" stroke-width="0.5" />
<line x1="317.14" y1="496.00" x2="317.14" y2="494.70" stroke="#777" stroke-width="0.5" />
<line x1="323.97" y1="408.60" x2="323.97" y2="409.90" stroke="#777" stroke-width="0.5" />
<line x1="323.97" y1="496.00" x2="323.97" y2="494.70" stroke="#777" stroke-width="0.5" />
<line x1="330.80" y1="408.60" x2="330.80" y2="409.90" stroke="#777" stroke-width="0.5" />
<line x1="330.80" y1="496.00" x2="330.80" y2="494.70" stroke="#777" stroke-width="0.5" />
<line x1="276.50" y1="408.60" x2="276.50" y2="496.00" stroke="#3a3a3a" stroke-width="0.8" />
<line x1="221.50" y1="453.50" x2="330.80" y2="453.50" stroke="#222" stroke-width="0.8" />
<polyline points="230.10,496.30 330.60,419.70" fill="none" stroke="#000" stroke-width="0.55" stroke-linejoin="round" stroke-linecap="round" />
<polyline points="221.60,485.30 324.00,408.70" fill="none" stroke="#000" stroke-width="0.55" stroke-linejoin="round" stroke-linecap="round" />
<polyline points="221.60,475.80 226.12,473.29 230.29,470.96 234.15,468.80 237.73,466.77 241.09,464.84 244.25,462.97 247.27,461.14 250.17,459.31 253.01,457.47 255.83,455.56 258.66,453.57 261.54,451.46 264.49,449.26 267.53,446.99 270.67,444.70 273.92,442.42 277.29,440.19 280.79,438.03 284.41,435.93 288.15,433.88 292.00,431.86 295.96,429.87 300.01,427.89 304.16,425.92 308.39,423.93 312.70,421.93 317.08,419.88 321.53,417.80 326.04,415.65 330.60,413.44" fill="none" stroke="#ff0000" stroke-width="0.6" stroke-linejoin="round" stroke-linecap="round" />
<polyline points="221.60,476.40 226.12,473.89 230.29,471.56 234.14,469.39 237.72,467.33 241.07,465.37 244.23,463.47 247.23,461.61 250.13,459.75 252.96,457.87 255.77,455.94 258.58,453.92 261.46,451.80 264.41,449.59 267.44,447.32 270.58,445.03 273.82,442.77 277.20,440.56 280.70,438.42 284.33,436.36 288.07,434.35 291.93,432.38 295.90,430.44 299.96,428.52 304.11,426.60 308.36,424.67 312.67,422.71 317.06,420.72 321.52,418.68 326.03,416.58 330.60,414.40" fill="none" stroke="#ff00ff" stroke-width="0.6" stroke-linejoin="round" stroke-linecap="round" />
<polyline points="221.60,477.00 226.12,474.50 230.29,472.16 234.14,469.97 237.71,467.90 241.05,465.91 244.20,463.98 247.20,462.08 250.09,460.19 252.91,458.28 255.70,456.32 258.51,454.28 261.38,452.14 264.32,449.92 267.35,447.65 270.48,445.37 273.73,443.11 277.10,440.92 280.61,438.81 284.24,436.79 287.99,434.82 291.86,432.90 295.83,431.01 299.91,429.14 304.07,427.28 308.32,425.40 312.65,423.50 317.05,421.56 321.51,419.57 326.03,417.51 330.60,415.36" fill="none" stroke="#0000ff" stroke-width="0.6" stroke-linejoin="round" stroke-linecap="round" />
<polyline points="221.60,478.00 226.12,475.51 230.29,473.16 234.13,470.95 237.69,468.84 241.02,466.80 244.16,464.82 247.14,462.87 250.02,460.93 252.82,458.96 255.60,456.96 258.40,454.88 261.25,452.71 264.18,450.47 267.21,448.20 270.33,445.92 273.58,443.68 276.95,441.52 280.46,439.46 284.10,437.49 287.86,435.60 291.74,433.76 295.73,431.96 299.82,430.18 304.00,428.41 308.26,426.63 312.60,424.82 317.02,422.96 321.49,421.04 326.02,419.05 330.60,416.96" fill="none" stroke="#008000" stroke-width="0.6" stroke-linejoin="round" stroke-linecap="round" />
<polyline points="221.60,490.60 225.68,489.94 229.88,488.89 234.15,487.50 238.48,485.80 242.83,483.85 247.18,481.70 251.50,479.38 255.76,476.94 259.92,474.43 263.97,471.90 267.87,469.39 271.60,466.94 275.13,464.61 278.42,462.43 281.50,460.41 284.41,458.50 287.20,456.67 289.90,454.87 292.58,453.07 295.26,451.24 297.99,449.38 300.80,447.48 303.73,445.53 306.82,443.52 310.09,441.45 313.59,439.30 317.36,437.07 321.42,434.74 325.83,432.33 330.60,429.80" fill="none" stroke="#ff0000" stroke-width="0.6" stroke-linejoin="round" stroke-linecap="round" />
<polyline points="221.60,489.40 225.69,488.79 229.89,487.79 234.17,486.45 238.51,484.81 242.87,482.92 247.24,480.82 251.57,478.56 255.83,476.19 260.01,473.74 264.07,471.26 267.98,468.80 271.72,466.41 275.24,464.12 278.54,461.98 281.62,459.98 284.52,458.08 287.30,456.24 290.00,454.42 292.67,452.58 295.33,450.70 298.04,448.77 300.83,446.79 303.74,444.76 306.81,442.68 310.07,440.55 313.56,438.36 317.32,436.11 321.39,433.80 325.80,431.43 330.60,429.00" fill="none" stroke="#ff00ff" stroke-width="0.6" stroke-linejoin="round" stroke-linecap="round" />
<polyline points="221.60,488.20 225.69,487.63 229.90,486.69 234.19,485.40 238.54,483.82 242.91,481.99 247.29,479.95 251.63,477.76 255.91,475.44 260.10,473.05 264.17,470.63 268.09,468.22 271.83,465.87 275.36,463.63 278.66,461.52 281.74,459.55 284.64,457.66 287.41,455.82 290.10,453.97 292.75,452.09 295.40,450.14 298.09,448.14 300.86,446.09 303.75,443.99 306.80,441.84 310.05,439.65 313.53,437.42 317.28,435.16 321.36,432.87 325.78,430.55 330.60,428.20" fill="none" stroke="#0000ff" stroke-width="0.6" stroke-linejoin="round" stroke-linecap="round" />
<polyline points="221.60,487.00 225.69,486.48 229.90,485.58 234.20,484.35 238.56,482.83 242.95,481.06 247.34,479.09 251.69,476.95 255.99,474.69 260.19,472.36 264.27,470.00 268.20,467.65 271.95,465.35 275.48,463.14 278.78,461.07 281.85,459.12 284.75,457.24 287.52,455.39 290.20,453.52 292.84,451.59 295.47,449.59 298.14,447.52 300.89,445.39 303.76,443.22 306.79,441.00 310.02,438.76 313.49,436.49 317.25,434.22 321.32,431.93 325.76,429.66 330.60,427.40" fill="none" stroke="#008000" stroke-width="0.6" stroke-linejoin="round" stroke-linecap="round" />
<polyline points="221.60,480.00 226.49,478.45 231.28,476.46 235.99,474.09 240.61,471.39 245.15,468.44 249.62,465.28 254.02,461.98 258.37,458.59 262.65,455.18 266.89,451.81 271.09,448.53 275.25,445.40 279.38,442.49 283.50,439.79 287.64,437.29 291.83,434.97 296.10,432.81 300.48,430.79 304.99,428.89 309.67,427.09 314.54,425.37 319.63,423.71 324.97,422.09 330.60,420.50" fill="none" stroke="#0000ff" stroke-width="0.5" stroke-linejoin="round" stroke-linecap="round" />
<polyline points="221.60,485.00 226.34,483.12 231.13,481.28 235.94,479.46 240.77,477.63 245.58,475.77 250.36,473.85 255.10,471.86 259.77,469.76 264.35,467.53 268.84,465.16 273.20,462.62 277.42,459.87 281.51,456.93 285.50,453.84 289.44,450.64 293.38,447.38 297.37,444.10 301.45,440.87 305.67,437.73 310.09,434.72 314.74,431.89 319.68,429.30 324.95,426.98 330.60,425.00" fill="none" stroke="#0000ff" stroke-width="0.5" stroke-linejoin="round" stroke-linecap="round" />
<line x1="331.10" y1="408.60" x2="331.10" y2="496.00" stroke="#cfcfcf" stroke-width="1.4" />
<rect x="397.60" y="3.90" width="284.60" height="229.00" fill="none" stroke="#000" stroke-width="1.8"/>
<defs><clipPath id="cpB"><rect x="505.5" y="18.5" width="159.8" height="103.3"/></clipPath><clipPath id="cpD"><rect x="504.6" y="302.8" width="160.9" height="104.6"/></clipPath><filter id="blur1" x="-20%" y="-20%" width="140%" height="140%"><feGaussianBlur stdDeviation="1.2"/></filter><filter id="blur2" x="-20%" y="-20%" width="140%" height="140%"><feGaussianBlur stdDeviation="2.5"/></filter><filter id="blur05"><feGaussianBlur stdDeviation="0.5"/></filter></defs>
<defs><filter id="texB" x="0" y="0" width="100%" height="100%" color-interpolation-filters="sRGB"><feTurbulence type="fractalNoise" baseFrequency="0.33" numOctaves="2" seed="7" result="n"/><feColorMatrix in="n" type="matrix" values="1 0 0 0 0  1 0 0 0 0  1 0 0 0 0  0 0 0 0 1" result="g"/><feComposite in="SourceGraphic" in2="g" operator="arithmetic" k1="0" k2="1" k3="0.42" k4="-0.23"/></filter><filter id="texD" x="0" y="0" width="100%" height="100%" color-interpolation-filters="sRGB"><feTurbulence type="fractalNoise" baseFrequency="0.5" numOctaves="2" seed="3" result="n"/><feColorMatrix in="n" type="matrix" values="1 0 0 0 0  1 0 0 0 0  1 0 0 0 0  0 0 0 0 1" result="g"/><feComposite in="SourceGraphic" in2="g" operator="arithmetic" k1="0" k2="1" k3="0.12" k4="-0.06"/></filter></defs>
<g clip-path="url(#cpB)">
<g filter="url(#texB)">
<rect x="505.5" y="18.5" width="159.8" height="103.3" fill="#4b4b4b"/>
<g filter="url(#blur2)">
<polygon points="505.0,18.0 548.0,18.0 552.0,32.0 540.0,60.0 530.0,85.0 505.0,88.0" fill="#555555"/>
<polygon points="522.0,20.0 547.0,20.0 546.0,34.0 525.0,33.0" fill="#5e5e5e"/>
<polygon points="537.0,41.0 558.0,40.0 566.0,60.0 563.0,79.0 540.0,78.0" fill="#5f5f5f"/>
<polygon points="572.0,40.0 612.0,45.0 620.0,60.0 612.0,94.0 588.0,98.0 578.0,80.0" fill="#505050"/>
<polygon points="598.0,18.0 645.0,18.0 648.0,60.0 625.0,60.0 605.0,42.0" fill="#424242"/>
<polygon points="612.0,70.0 666.0,68.0 666.0,122.0 606.0,122.0" fill="#363636"/>
<polygon points="575.0,97.0 612.0,94.0 612.0,122.0 575.0,122.0" fill="#3a3a3a"/>
<polygon points="505.0,88.0 560.0,100.0 565.0,122.0 505.0,122.0" fill="#474747"/>
</g>
<g filter="url(#blur1)">
<polygon points="644.5,18.0 666.0,18.0 666.0,98.0 657.0,88.0 650.0,72.0 645.0,55.0 644.0,38.0" fill="#0a0a0a"/>
<polygon points="647.0,28.0 660.0,36.0 650.0,44.0" fill="#303030"/>
<polygon points="557.0,28.0 565.0,29.0 574.0,58.0 576.0,84.0 570.0,86.0 566.0,60.0" fill="#343434"/>
</g>
</g>
<clipPath id="cpStri"><polygon points="576,44 606,50 618,66 614,96 590,100 578,84"/></clipPath>
<g clip-path="url(#cpStri)" filter="url(#blur05)" opacity="0.8">
<line x1="570" y1="-3.6" x2="625" y2="24.4" stroke="#747474" stroke-width="1.3"/>
<line x1="570" y1="0.6" x2="625" y2="28.6" stroke="#444444" stroke-width="1.3"/>
<line x1="570" y1="4.8" x2="625" y2="32.8" stroke="#747474" stroke-width="1.3"/>
<line x1="570" y1="9.0" x2="625" y2="37.0" stroke="#444444" stroke-width="1.3"/>
<line x1="570" y1="13.2" x2="625" y2="41.2" stroke="#747474" stroke-width="1.3"/>
<line x1="570" y1="17.4" x2="625" y2="45.4" stroke="#444444" stroke-width="1.3"/>
<line x1="570" y1="21.6" x2="625" y2="49.6" stroke="#747474" stroke-width="1.3"/>
<line x1="570" y1="25.8" x2="625" y2="53.8" stroke="#444444" stroke-width="1.3"/>
<line x1="570" y1="30.0" x2="625" y2="58.0" stroke="#747474" stroke-width="1.3"/>
<line x1="570" y1="34.2" x2="625" y2="62.2" stroke="#444444" stroke-width="1.3"/>
<line x1="570" y1="38.4" x2="625" y2="66.4" stroke="#747474" stroke-width="1.3"/>
<line x1="570" y1="42.6" x2="625" y2="70.6" stroke="#444444" stroke-width="1.3"/>
<line x1="570" y1="46.8" x2="625" y2="74.8" stroke="#747474" stroke-width="1.3"/>
<line x1="570" y1="51.0" x2="625" y2="79.0" stroke="#444444" stroke-width="1.3"/>
<line x1="570" y1="55.2" x2="625" y2="83.2" stroke="#747474" stroke-width="1.3"/>
<line x1="570" y1="59.4" x2="625" y2="87.4" stroke="#444444" stroke-width="1.3"/>
<line x1="570" y1="63.6" x2="625" y2="91.6" stroke="#747474" stroke-width="1.3"/>
<line x1="570" y1="67.8" x2="625" y2="95.8" stroke="#444444" stroke-width="1.3"/>
<line x1="570" y1="72.0" x2="625" y2="100.0" stroke="#747474" stroke-width="1.3"/>
<line x1="570" y1="76.2" x2="625" y2="104.2" stroke="#444444" stroke-width="1.3"/>
<line x1="570" y1="80.4" x2="625" y2="108.4" stroke="#747474" stroke-width="1.3"/>
<line x1="570" y1="84.6" x2="625" y2="112.6" stroke="#444444" stroke-width="1.3"/>
</g>
<g fill="none" stroke="#7a7a7a" stroke-width="0.7" filter="url(#blur05)" opacity="0.8">
<polyline points="521.2,18.0 522.4,27.3 520.0,32.0"/>
<polyline points="548.0,18.0 547.0,29.7 550.4,39.0 562.0,48.4 568.0,55.4"/>
<polyline points="505.0,70.7 519.0,67.2 535.4,73.1 551.7,87.1"/>
<polyline points="576.0,56.7 615.8,87.1"/>
</g>
<g fill="none" stroke="#222" stroke-width="1.0" filter="url(#blur05)">
<polyline points="520.2,18.0 521.4,27.3 519.0,32.0"/>
<polyline points="547.0,18.0 545.9,29.7 549.4,39.0 561.0,48.4 566.9,55.4 572.7,71.7 575.1,85.7"/>
<polyline points="505.0,71.7 519.0,68.2 535.4,74.1 551.7,88.1 561.1,99.8 565.7,111.4"/>
<polyline points="505.0,95.0 528.4,92.7 540.0,104.0 551.7,116.1"/>
<polyline points="614.8,48.4 625.0,60.0 635.8,74.0"/>
<polyline points="575.0,57.7 595.0,73.0 614.8,88.1"/>
<polyline points="584.4,95.1 600.0,90.0 617.1,83.4"/>
<polyline points="505.5,29.0 512.0,26.5 517.0,24.0"/>
<polyline points="580.0,104.0 590.0,112.0 598.0,121.0"/>
</g>
<g filter="url(#blur05)">
<polygon points="577.7,86.8 581.4,89.0 586.5,94.8 588.0,98.5 583.6,99.9 579.2,99.2 577.7,91.9" fill="#a0a0a0"/>
<polygon points="562.8,84.6 566.8,83.5 571.2,85.3 574.8,88.2 577.0,93.4 577.4,99.2 577.7,103.6 575.5,104.3 571.9,101.4 569.0,96.3 566.1,91.2 563.5,87.5" fill="#f2f2f2"/>
</g>
<ellipse cx="573" cy="94" rx="1.3" ry="0.8" fill="#9a9a9a"/>
<circle cx="509.8" cy="41.4" r="0.7" fill="#dedede"/>
<circle cx="524.1" cy="38.5" r="0.8" fill="#dedede"/>
<circle cx="545" cy="65.8" r="0.7" fill="#dedede"/>
<circle cx="506.9" cy="63.9" r="0.6" fill="#dedede"/>
<circle cx="527.4" cy="93.2" r="0.7" fill="#dedede"/>
<circle cx="511.8" cy="99" r="0.7" fill="#dedede"/>
<circle cx="540.1" cy="90.2" r="0.6" fill="#dedede"/>
<circle cx="560.6" cy="55" r="0.7" fill="#dedede"/>
<circle cx="514.7" cy="33.6" r="0.6" fill="#dedede"/>
<circle cx="517.7" cy="82.4" r="1.5" fill="#dedede"/>
<circle cx="575.3" cy="51.2" r="1.1" fill="#dedede"/>
<circle cx="589.9" cy="35.5" r="1.1" fill="#dedede"/>
<circle cx="559" cy="63.9" r="0.9" fill="#dedede"/>
<circle cx="584.4" cy="89.4" r="0.7" fill="#dedede"/>
<line x1="593.80" y1="40.40" x2="620.20" y2="62.90" stroke="#d8d8d8" stroke-width="0.8" />
<line x1="577.00" y1="51.80" x2="600.60" y2="61.90" stroke="#d8d8d8" stroke-width="0.8" />
<line x1="559.70" y1="63.90" x2="600.60" y2="68.70" stroke="#d8d8d8" stroke-width="0.8" />
<line x1="520.60" y1="82.00" x2="600.60" y2="73.60" stroke="#d8d8d8" stroke-width="0.8" />
<line x1="585.00" y1="88.30" x2="617.20" y2="73.60" stroke="#d8d8d8" stroke-width="0.8" />
<text x="601.40" y="70.30" font-family='"Liberation Serif", serif' font-size="10" font-weight="bold" text-anchor="start" fill="#f4f4f4" >Sulphides</text>
<line x1="511.10" y1="115.60" x2="566.00" y2="115.60" stroke="#d8d8d8" stroke-width="0.8" />
<line x1="511.10" y1="114.20" x2="511.10" y2="117.00" stroke="#d8d8d8" stroke-width="0.6" />
<line x1="566.00" y1="114.20" x2="566.00" y2="117.00" stroke="#d8d8d8" stroke-width="0.6" />
<text x="537.50" y="113.80" font-family='"Liberation Serif", serif' font-size="3.2" font-weight="bold" text-anchor="middle" fill="#d0d0d0" >200 µm</text>
</g>
<polyline points="400.80,3.90 400.85,5.37 400.90,6.83 400.95,8.30 401.01,9.79 401.07,11.29 401.14,12.78 401.21,14.30 401.28,15.81 401.36,17.33 401.44,18.86 401.52,20.40 401.60,21.93 401.69,23.48 401.78,25.03 401.87,26.58 401.96,28.14 402.06,29.69 402.15,31.25 402.25,32.81 402.35,34.38 402.44,35.94 402.54,37.50 402.64,39.06 402.74,40.63 402.84,42.19 402.94,43.75 403.03,45.31 403.13,46.86 403.22,48.41 403.32,49.96 403.41,51.50 403.50,53.04 403.59,54.58 403.67,56.10 403.76,57.62 403.84,59.14 403.92,60.64 403.99,62.14 404.07,63.64 404.13,65.12 404.20,66.59 404.26,68.07 404.32,69.51 404.37,70.96 404.42,72.40 404.46,73.81 404.50,75.22 404.54,76.63 404.57,78.01 404.59,79.38 404.62,80.75 404.64,82.08 404.65,83.42 404.67,84.75 404.69,86.04 404.70,87.33 404.72,88.63 404.74,89.88 404.75,91.13 404.77,92.38 404.80,93.58 404.83,94.79 404.85,96.00 404.92,97.74 404.98,99.48 405.07,101.15 405.15,102.83 405.27,104.45 405.39,106.08 405.53,107.67 405.66,109.27 405.82,110.86 405.98,112.46 406.16,114.07 406.33,115.69 406.52,117.35 406.70,119.01 406.90,120.71 407.09,122.42 407.29,124.13 407.49,125.84 407.69,127.52 407.89,129.19 408.09,130.79 408.29,132.39 408.48,133.86 408.68,135.33 408.87,136.65 409.06,137.96 409.43,140.31 409.83,142.49 410.27,144.62 410.78,146.80 411.37,149.05 412.06,151.34 412.45,152.48 412.84,153.62 413.29,154.74 413.73,155.86 414.23,156.96 414.73,158.06 415.28,159.14 415.83,160.22 416.43,161.28 417.03,162.35 417.67,163.40 418.32,164.45 419.02,165.49 419.73,166.53 420.51,167.56 421.29,168.58 422.18,169.59 423.06,170.59 424.06,171.57 425.07,172.55 426.20,173.50 427.34,174.45 428.58,175.37 429.82,176.28 431.14,177.15 432.45,178.01 433.81,178.82 435.16,179.64 436.52,180.38 437.89,181.13 439.23,181.81 440.57,182.24 441.91,182.69 443.24,183.62 444.60,184.37 445.97,185.13 447.38,185.30 448.80,185.59 450.31,185.96 451.82,186.85 453.44,187.50 455.06,187.48 456.79,187.38 458.52,187.80 459.73,188.78 460.93,188.56 462.13,188.19 463.36,188.87 464.59,188.72 465.81,189.07 467.04,189.27 468.27,189.37 469.50,189.91 470.71,189.87 471.92,189.86 473.13,190.31 474.87,190.63 476.62,190.09 478.29,190.69 479.97,190.65 481.60,191.07 483.22,190.91 484.83,191.48 486.43,191.64 488.04,191.74 489.64,191.70 491.28,192.10 492.91,192.10 494.60,192.24 496.29,192.94 498.03,192.79 499.77,193.72 500.97,193.76 502.17,193.12 503.37,193.97 504.61,193.74 505.85,194.25 507.09,194.43 508.36,193.99 509.64,194.69 510.91,194.86 512.22,195.39 513.53,194.92 514.85,195.66 516.19,195.26 517.54,195.64 518.89,195.64 520.27,196.47 521.65,196.34 523.04,197.04 524.44,196.63 525.85,196.82 527.26,196.94 528.69,196.63 530.12,196.91 531.55,197.45 532.99,197.04 534.43,197.32 535.88,197.37 537.33,197.67 538.78,197.48 540.23,197.65 541.68,197.87 543.13,197.94 544.58,197.75 546.02,198.39 547.47,197.84 548.91,197.97 550.35,198.06 551.78,198.84 553.22,198.55 554.65,198.48 556.07,198.55 557.50,199.13 558.92,198.80 560.34,198.85 561.76,199.53 563.18,199.11 564.60,199.49 566.02,199.70 567.44,199.69 568.86,199.93 570.28,200.47 571.70,200.03 573.12,199.93 574.55,199.88 575.98,200.50 577.40,200.58 578.83,200.89 580.27,200.79 581.71,200.91 583.15,200.97 584.59,201.16 586.04,201.49 587.48,201.46 588.93,201.74 590.37,202.41 591.81,202.12 593.25,201.65 594.69,202.78 596.13,202.51 597.56,202.28 598.98,202.99 600.41,202.88 601.82,202.86 603.23,203.02 604.64,203.08 606.02,203.58 607.41,204.08 608.79,203.84 610.15,204.28 611.51,204.92 612.86,204.20 614.19,204.87 615.51,204.93 616.84,204.93 618.14,205.18 619.43,205.73 620.73,206.10 622.00,206.07 623.27,206.50 624.54,206.95 625.79,207.09 627.04,207.52 628.29,207.66 629.52,207.94 630.75,208.61 631.97,208.51 633.19,208.63 634.40,209.07 635.61,208.85 636.81,209.29 638.00,209.89 639.20,210.10 640.38,210.64 641.57,210.44 642.76,210.26 643.93,211.55 645.11,211.56 646.29,211.18 647.46,212.18 648.63,212.05 649.80,211.77 650.97,212.48 652.13,212.74 653.30,213.65 654.47,213.24 655.64,213.71 656.80,214.01 657.97,214.30 659.14,214.47 660.31,215.14 661.49,215.75 662.66,215.97 663.84,215.86 665.02,216.18 666.21,216.95 667.39,217.09 668.58,217.53 669.78,217.64 670.97,219.16 672.18,219.31 673.39,219.21 674.60,220.24 675.82,220.88 677.05,220.28 678.27,221.34 679.51,221.95 680.76,222.83 682.00,223.16" fill="none" stroke="#0000ff" stroke-width="1.9" stroke-linejoin="round" stroke-linecap="round" />
<polyline points="401.30,3.90 401.36,5.19 401.41,6.48 401.47,7.77 401.52,9.06 401.58,10.36 401.64,11.65 401.71,12.95 401.77,14.25 401.83,15.54 401.90,16.85 401.97,18.15 402.04,19.45 402.11,20.75 402.18,22.05 402.25,23.36 402.32,24.66 402.39,25.97 402.46,27.27 402.54,28.58 402.61,29.88 402.69,31.19 402.76,32.49 402.84,33.80 402.91,35.10 402.99,36.41 403.07,37.71 403.14,39.02 403.22,40.32 403.30,41.62 403.37,42.92 403.45,44.22 403.52,45.52 403.60,46.82 403.68,48.11 403.75,49.41 403.83,50.70 403.90,51.99 403.98,53.29 404.05,54.58 404.12,55.86 404.19,57.15 404.27,58.43 404.33,59.71 404.40,60.99 404.47,62.27 404.54,63.54 404.61,64.81 404.67,66.08 404.74,67.35 404.80,68.61 404.86,69.88 404.92,71.13 404.98,72.39 405.04,73.64 405.09,74.89 405.15,76.13 405.20,77.38 405.25,78.60 405.30,79.83 405.35,81.06 405.42,82.85 405.49,84.65 405.56,86.37 405.63,88.10 405.70,89.75 405.77,91.39 405.83,92.93 405.90,94.47 405.97,95.89 406.04,97.31 406.12,98.58 406.19,99.86 406.35,102.10 406.53,104.11 406.72,105.96 406.94,107.76 407.18,109.58 407.44,111.47 407.72,113.43 408.01,115.41 408.30,117.40 408.58,119.37 408.86,121.32 409.13,123.25 409.41,125.18 409.70,127.11 410.01,129.05 410.33,131.00 410.68,132.95 411.04,134.90 411.43,136.84 411.85,138.77 412.30,140.69 412.81,142.60 413.38,144.51 414.02,146.42 414.74,148.32 415.54,150.20 416.42,152.07 417.38,153.91 418.44,155.73 419.57,157.51 420.80,159.27 422.12,161.02 423.52,162.74 425.02,164.45 426.60,166.14 428.29,167.80 429.18,168.61 430.07,169.41 431.02,170.19 431.96,170.96 432.96,171.70 433.96,172.44 435.02,173.14 436.07,173.84 437.17,174.50 438.27,175.16 439.40,175.77 440.53,176.32 441.68,176.95 442.83,178.09 444.00,178.72 445.16,178.45 446.32,178.82 447.49,180.40 448.64,179.76 449.79,180.33 450.94,180.93 452.09,181.49 453.24,182.04 454.39,182.23 455.56,182.21 456.72,182.98 457.89,183.24 459.07,184.06 460.27,183.80 461.48,183.72 462.70,184.10 463.93,185.14 465.17,184.82 466.40,184.63 467.63,185.34 468.86,185.77 470.07,186.36 471.28,185.93 473.61,186.86 475.82,187.27 477.91,187.15 479.88,187.57 481.76,188.37 483.55,188.49 485.28,188.30 486.94,188.11 488.51,188.22 489.96,187.57 491.28,187.20 492.48,186.63 493.56,186.81 494.55,187.09 495.66,188.52 497.09,188.28 499.00,189.30 500.19,189.57 501.37,189.37 502.75,190.00 504.13,189.22 505.66,190.11 507.19,190.54 508.84,189.76 510.49,190.32 512.22,191.18 513.95,190.98 515.73,190.92 517.50,191.33 518.70,191.42 519.89,191.94 521.09,192.00 522.29,191.92 523.49,191.95 524.69,192.28 525.90,192.85 527.11,192.71 528.31,192.95 529.53,192.87 530.74,192.68 531.95,193.01 533.16,193.58 534.38,193.58 535.59,193.43 536.81,193.38 538.02,194.06 539.24,194.08 540.45,194.24 541.67,194.41 542.88,194.75 544.09,194.92 545.31,195.27 546.52,195.42 547.73,195.70 548.94,195.70 550.15,195.51 551.36,195.75 552.57,196.06 553.77,195.97 554.98,196.38 556.18,196.71 557.39,196.27 558.59,196.12 559.80,197.15 561.00,196.95 562.21,197.29 563.41,196.82 564.62,197.88 565.82,197.72 567.03,197.59 568.24,197.66 569.45,197.93 570.66,197.98 571.87,198.08 573.09,197.96 574.30,198.80 575.52,198.54 576.74,198.70 577.96,198.83 579.18,198.22 580.41,199.21 581.64,199.07 582.87,199.21 584.10,199.44 585.33,199.24 586.56,199.91 587.80,199.57 589.03,199.63 590.26,199.77 591.49,200.20 592.72,200.51 593.95,200.23 595.17,200.09 596.39,201.00 597.61,200.50 598.82,201.33 600.02,201.10 601.23,201.06 602.42,201.24 603.62,201.73 604.81,202.02 606.56,201.97 608.32,202.58 610.04,203.23 611.76,202.84 613.44,202.90 615.12,203.26 616.76,203.52 618.40,204.11 620.02,204.48 621.64,204.69 623.23,205.65 624.83,205.11 626.41,205.92 627.99,207.34 629.56,207.47 631.13,207.74 632.70,208.14 634.27,208.96 635.85,209.01 637.43,209.29 639.01,209.32 640.59,210.08 642.16,210.29 643.73,210.71 645.28,211.12 646.83,211.74 648.35,212.07 649.86,212.85 651.33,212.62 652.79,213.40 654.19,214.46 655.60,214.36 656.92,215.17 658.25,215.62 659.48,216.16 660.72,216.48 661.89,216.35 663.05,217.19 664.15,217.67 665.25,217.83 667.36,219.17 669.40,219.92 671.41,220.74 673.42,222.18 675.45,222.90 677.54,223.39 679.71,223.89 682.00,224.44" fill="none" stroke="#ff0000" stroke-width="1.9" stroke-linejoin="round" stroke-linecap="round" />
<line x1="493.6" y1="5" x2="493.6" y2="232" stroke="#000" stroke-width="1" stroke-dasharray="3.9 4.6"/>
<rect x="397.60" y="3.90" width="284.60" height="229.00" fill="none" stroke="#000" stroke-width="1.8"/>
<line x1="397.60" y1="232.90" x2="397.60" y2="236.70" stroke="#000" stroke-width="1.6" />
<line x1="397.60" y1="3.90" x2="397.60" y2="7.70" stroke="#000" stroke-width="1.6" />
<line x1="478.90" y1="232.90" x2="478.90" y2="236.70" stroke="#000" stroke-width="1.6" />
<line x1="478.90" y1="3.90" x2="478.90" y2="7.70" stroke="#000" stroke-width="1.6" />
<line x1="560.20" y1="232.90" x2="560.20" y2="236.70" stroke="#000" stroke-width="1.6" />
<line x1="560.20" y1="3.90" x2="560.20" y2="7.70" stroke="#000" stroke-width="1.6" />
<line x1="641.50" y1="232.90" x2="641.50" y2="236.70" stroke="#000" stroke-width="1.6" />
<line x1="641.50" y1="3.90" x2="641.50" y2="7.70" stroke="#000" stroke-width="1.6" />
<line x1="438.25" y1="232.90" x2="438.25" y2="234.90" stroke="#000" stroke-width="1.6" />
<line x1="438.25" y1="3.90" x2="438.25" y2="5.90" stroke="#000" stroke-width="1.6" />
<line x1="519.55" y1="232.90" x2="519.55" y2="234.90" stroke="#000" stroke-width="1.6" />
<line x1="519.55" y1="3.90" x2="519.55" y2="5.90" stroke="#000" stroke-width="1.6" />
<line x1="600.85" y1="232.90" x2="600.85" y2="234.90" stroke="#000" stroke-width="1.6" />
<line x1="600.85" y1="3.90" x2="600.85" y2="5.90" stroke="#000" stroke-width="1.6" />
<line x1="682.15" y1="232.90" x2="682.15" y2="234.90" stroke="#000" stroke-width="1.6" />
<line x1="682.15" y1="3.90" x2="682.15" y2="5.90" stroke="#000" stroke-width="1.6" />
<line x1="397.60" y1="223.20" x2="393.80" y2="223.20" stroke="#000" stroke-width="1.6" />
<line x1="682.20" y1="223.20" x2="678.40" y2="223.20" stroke="#000" stroke-width="1.6" />
<line x1="397.60" y1="174.40" x2="393.80" y2="174.40" stroke="#000" stroke-width="1.6" />
<line x1="682.20" y1="174.40" x2="678.40" y2="174.40" stroke="#000" stroke-width="1.6" />
<line x1="397.60" y1="125.60" x2="393.80" y2="125.60" stroke="#000" stroke-width="1.6" />
<line x1="682.20" y1="125.60" x2="678.40" y2="125.60" stroke="#000" stroke-width="1.6" />
<line x1="397.60" y1="76.80" x2="393.80" y2="76.80" stroke="#000" stroke-width="1.6" />
<line x1="682.20" y1="76.80" x2="678.40" y2="76.80" stroke="#000" stroke-width="1.6" />
<line x1="397.60" y1="28.00" x2="393.80" y2="28.00" stroke="#000" stroke-width="1.6" />
<line x1="682.20" y1="28.00" x2="678.40" y2="28.00" stroke="#000" stroke-width="1.6" />
<line x1="397.60" y1="198.80" x2="395.60" y2="198.80" stroke="#000" stroke-width="1.6" />
<line x1="682.20" y1="198.80" x2="680.20" y2="198.80" stroke="#000" stroke-width="1.6" />
<line x1="397.60" y1="150.00" x2="395.60" y2="150.00" stroke="#000" stroke-width="1.6" />
<line x1="682.20" y1="150.00" x2="680.20" y2="150.00" stroke="#000" stroke-width="1.6" />
<line x1="397.60" y1="101.20" x2="395.60" y2="101.20" stroke="#000" stroke-width="1.6" />
<line x1="682.20" y1="101.20" x2="680.20" y2="101.20" stroke="#000" stroke-width="1.6" />
<line x1="397.60" y1="52.40" x2="395.60" y2="52.40" stroke="#000" stroke-width="1.6" />
<line x1="682.20" y1="52.40" x2="680.20" y2="52.40" stroke="#000" stroke-width="1.6" />
<text transform="translate(389.60,30.90) scale(0.93,1)" font-family='"Liberation Sans", sans-serif' font-size="10.5" text-anchor="end" fill="#2a2a2a">0,14</text>
<text transform="translate(389.60,79.70) scale(0.93,1)" font-family='"Liberation Sans", sans-serif' font-size="10.5" text-anchor="end" fill="#2a2a2a">0,12</text>
<text transform="translate(389.60,128.50) scale(0.93,1)" font-family='"Liberation Sans", sans-serif' font-size="10.5" text-anchor="end" fill="#2a2a2a">0,10</text>
<text transform="translate(389.60,177.30) scale(0.93,1)" font-family='"Liberation Sans", sans-serif' font-size="10.5" text-anchor="end" fill="#2a2a2a">0,08</text>
<text transform="translate(389.60,226.10) scale(0.93,1)" font-family='"Liberation Sans", sans-serif' font-size="10.5" text-anchor="end" fill="#2a2a2a">0,06</text>
<text transform="translate(397.60,248.50) scale(0.98,1)" font-family='"Liberation Sans", sans-serif' font-size="10.5" text-anchor="middle" fill="#2a2a2a">0</text>
<text transform="translate(478.90,248.50) scale(0.98,1)" font-family='"Liberation Sans", sans-serif' font-size="10.5" text-anchor="middle" fill="#2a2a2a">100</text>
<text transform="translate(560.20,248.50) scale(0.98,1)" font-family='"Liberation Sans", sans-serif' font-size="10.5" text-anchor="middle" fill="#2a2a2a">200</text>
<text transform="translate(641.50,248.50) scale(0.98,1)" font-family='"Liberation Sans", sans-serif' font-size="10.5" text-anchor="middle" fill="#2a2a2a">300</text>
<text x="540.50" y="265.00" font-family='"Liberation Sans", sans-serif' font-size="14" font-weight="bold" text-anchor="middle" fill="#000" >Temperature (K)</text>
<text transform="translate(363.2,117.9) rotate(-90)" font-family='"Liberation Sans", sans-serif' font-size="14" font-weight="bold" text-anchor="middle" fill="#000">M (Am<tspan dy="-5.5" font-size="10">2</tspan><tspan dy="5.5">/kg)</tspan></text>
<text x="346.30" y="18.90" font-family='"Liberation Serif", serif' font-size="20.2" font-weight="bold" text-anchor="start" fill="#000" >B)</text>
<text x="407.00" y="206.00" font-family='"Liberation Sans", sans-serif' font-size="11.2" font-weight="normal" text-anchor="start" fill="#1a1a1a" >ZFC 10kOe</text>
<text x="593.20" y="190.80" font-family='"Liberation Sans", sans-serif' font-size="11.2" font-weight="normal" text-anchor="start" fill="#1a1a1a" >FC 10kOe</text>
<text x="498.2" y="163.4" font-family='"Liberation Serif", serif' font-size="12" font-weight="bold" fill="#000">T<tspan dy="2.8" font-size="8">f</tspan><tspan dy="-2.8">= 117 K</tspan></text>
<g clip-path="url(#cpD)">
<g filter="url(#texD)">
<rect x="504.6" y="302.8" width="160.9" height="104.6" fill="#474747"/>
<g filter="url(#blur2)">
<polygon points="504.0,302.0 586.0,302.0 572.0,325.0 545.0,334.0 538.0,360.0 535.0,408.0 504.0,408.0" fill="#494949"/>
<polygon points="518.0,345.0 535.0,345.0 534.0,405.0 515.0,405.0" fill="#424242"/>
<polygon points="646.0,338.0 666.0,334.0 666.0,372.0 648.0,368.0" fill="#5a5a5a"/>
<polygon points="648.0,368.0 666.0,372.0 666.0,408.0 609.0,408.0 624.0,393.0 636.0,380.0" fill="#717171"/>
</g>
<g filter="url(#blur05)">
<polygon points="586.5,302.8 646.5,302.8 647.0,345.0 647.5,368.0 636.0,380.0 624.0,393.0 609.3,407.4 535.0,407.4 536.6,390.0 537.2,370.0 538.2,350.0 539.2,340.0 542.2,336.0 548.5,332.5 556.0,331.0 563.0,329.5 572.5,325.5" fill="#8b8b8b"/>
<polygon points="586.5,302.8 646.5,302.8 646.5,330.0 600.0,330.0 580.0,320.0" fill="#8e8e8e"/>
<polygon points="538.5,345.0 542.5,337.0 547.0,335.0 552.0,345.0 553.0,375.0 550.0,400.0 537.0,404.0" fill="#929292"/>
</g>
</g>
<polyline points="571.5,326.5 574.0,334.0 578.5,343.0 585.0,353.0 592.0,363.0 598.0,372.0 603.0,380.0 606.5,386.0" fill="none" stroke="#333" stroke-width="0.9" filter="url(#blur05)"/>
<polyline points="546.0,336.0 553.0,345.0 560.0,352.0 566.0,356.0" fill="none" stroke="#707070" stroke-width="0.5"/>
<polyline points="587.0,330.0 600.0,332.0 610.0,334.0 618.0,332.0" fill="none" stroke="#727272" stroke-width="0.5"/>
<text x="534.00" y="318.60" font-family='"Liberation Serif", serif' font-size="9.8" font-weight="bold" text-anchor="start" fill="#f2f2f2" >Enstatite</text>
<line x1="512.40" y1="401.20" x2="560.70" y2="401.20" stroke="#dadada" stroke-width="0.8" />
<line x1="512.40" y1="400.00" x2="512.40" y2="402.40" stroke="#dadada" stroke-width="0.6" />
<line x1="560.70" y1="400.00" x2="560.70" y2="402.40" stroke="#dadada" stroke-width="0.6" />
<text x="536.50" y="399.40" font-family='"Liberation Serif", serif' font-size="2.8" font-weight="bold" text-anchor="middle" fill="#d0d0d0" >200 µm</text>
</g>
<polyline points="398.60,290.00 398.65,291.48 398.69,292.96 398.74,294.44 398.79,295.91 398.84,297.37 398.89,298.84 398.93,300.30 398.98,301.75 399.03,303.21 399.08,304.66 399.13,306.10 399.18,307.55 399.22,308.99 399.27,310.43 399.32,311.87 399.37,313.31 399.42,314.75 399.47,316.18 399.52,317.62 399.57,319.05 399.62,320.49 399.67,321.92 399.71,323.36 399.76,324.79 399.81,326.23 399.86,327.67 399.91,329.10 399.96,330.54 400.01,331.99 400.06,333.43 400.11,334.88 400.15,336.33 400.20,337.78 400.25,339.23 400.30,340.69 400.35,342.15 400.39,343.62 400.44,345.09 400.49,346.56 400.54,348.04 400.58,349.53 400.63,351.01 400.68,352.50 400.72,354.00 400.77,355.50 400.82,356.99 400.86,358.49 400.91,359.99 400.95,361.47 401.00,362.96 401.04,364.45 401.09,365.91 401.13,367.38 401.17,368.85 401.22,370.28 401.26,371.72 401.30,373.15 401.34,374.54 401.38,375.94 401.42,377.33 401.46,378.67 401.50,380.00 401.54,381.34 401.58,382.62 401.62,383.91 401.66,385.19 401.70,386.43 401.74,387.67 401.78,388.91 401.82,390.13 401.87,391.34 401.92,392.56 401.97,393.76 402.03,394.97 402.08,396.17 402.15,397.38 402.21,398.59 402.28,399.80 402.36,401.03 402.44,402.25 402.52,403.48 402.62,404.73 402.71,405.98 402.81,407.22 402.91,408.48 403.02,409.74 403.13,410.99 403.24,412.24 403.35,413.49 403.46,414.74 403.58,415.98 403.70,417.21 403.82,418.44 403.93,419.64 404.05,420.84 404.17,422.04 404.34,423.78 404.51,425.52 404.68,427.18 404.86,428.85 405.06,430.45 405.25,432.06 405.48,433.61 405.72,435.16 406.00,436.66 406.29,438.16 406.65,439.62 407.01,441.08 407.45,442.51 407.88,443.93 408.39,445.33 408.90,446.72 409.47,448.09 410.04,449.45 410.68,450.79 411.31,452.13 412.00,453.44 412.70,454.76 413.45,456.04 414.20,457.32 415.02,458.57 415.83,459.81 416.72,461.01 417.61,462.20 418.57,463.34 419.54,464.48 420.58,465.54 421.62,466.61 422.74,467.60 423.85,468.59 425.04,469.49 426.22,470.39 427.46,471.19 428.71,471.98 430.01,472.67 431.31,473.35 432.66,473.93 434.01,474.52 435.41,475.01 436.81,475.51 438.24,475.96 439.68,476.40 441.16,476.69 442.63,477.10 444.14,477.61 445.65,477.89 447.18,478.53 448.72,478.97 450.27,479.30 451.83,479.37 453.40,479.74 454.97,480.41 456.56,480.55 458.14,480.92 459.73,480.48 461.32,480.70 462.91,481.87 464.50,482.12 466.09,482.65 467.67,482.67 469.26,482.70 470.84,482.82 472.42,482.54 473.99,483.38 475.56,483.06 477.12,483.51 478.70,483.52 480.27,483.65 481.89,483.94 483.50,483.62 485.19,483.76 486.87,483.74 488.66,484.02 490.45,484.77 491.73,484.29 493.01,484.87 494.29,484.89 495.67,485.01 497.05,485.19 498.42,484.80 499.88,485.39 501.34,485.94 502.79,485.43 504.31,485.82 505.83,485.83 507.34,486.33 508.90,486.11 510.46,487.13 512.02,486.74 513.61,486.60 515.19,487.81 516.78,487.77 517.97,487.79 519.16,487.95 520.36,487.83 521.55,488.03 523.13,488.50 524.71,488.75 526.30,488.95 527.85,488.91 529.41,488.88 530.97,489.14 532.50,489.69 534.04,489.94 535.58,489.57 537.10,489.67 538.62,490.33 540.14,490.32 541.64,490.45 543.15,489.98 544.66,490.39 546.16,490.47 547.66,490.81 549.16,490.37 550.66,491.37 552.16,491.20 553.65,491.36 555.15,490.99 556.65,491.45 558.15,491.97 559.66,491.21 561.17,491.88 562.67,492.11 564.18,491.80 565.70,492.37 567.21,492.13 568.72,492.71 570.24,492.61 571.76,492.63 573.28,493.27 574.80,493.03 576.32,493.28 577.84,492.64 579.36,492.92 580.88,493.47 582.40,493.60 583.92,493.43 585.44,493.79 586.96,493.35 588.48,493.85 590.00,493.55 591.52,494.11 593.03,493.98 594.55,494.05 596.06,494.37 597.58,495.02 599.09,494.29 600.61,494.52 602.12,495.14 603.63,494.81 605.15,495.58 606.66,495.23 608.18,495.30 609.70,495.49 611.21,496.01 612.73,495.79 614.25,495.85 615.77,495.87 617.30,495.43 618.82,495.72 620.35,496.52 621.88,496.42 623.41,496.40 624.95,496.52 626.48,496.25 628.02,496.58 629.56,496.28 631.10,496.73 632.64,496.46 634.19,496.66 635.73,496.92 637.26,496.73 638.80,497.07 640.33,497.06 641.86,497.07 643.38,497.40 644.91,496.59 646.42,496.58 647.93,497.28 649.44,497.40 650.93,497.74 652.41,497.38 653.90,497.42 655.36,496.92 656.83,497.42 658.29,497.41 659.72,496.89 661.15,496.94 662.57,497.18 663.97,497.30 665.36,496.33 666.75,497.23 668.10,497.27 669.45,497.13 670.80,497.26 672.10,497.30 673.40,496.84 674.70,497.26 675.94,497.04 677.19,496.81 678.44,497.14 680.22,497.48 682.00,496.56" fill="none" stroke="#0000ff" stroke-width="1.9" stroke-linejoin="round" stroke-linecap="round" />
<polyline points="399.10,289.00 399.15,290.52 399.20,292.04 399.25,293.56 399.30,295.06 399.36,296.57 399.41,298.07 399.46,299.55 399.51,301.03 399.56,302.52 399.62,303.98 399.67,305.45 399.72,306.92 399.78,308.38 399.83,309.83 399.88,311.29 399.93,312.73 399.99,314.18 400.04,315.63 400.09,317.07 400.15,318.51 400.20,319.95 400.25,321.39 400.30,322.82 400.35,324.26 400.41,325.70 400.46,327.14 400.51,328.57 400.56,330.01 400.61,331.45 400.66,332.89 400.71,334.33 400.76,335.78 400.80,337.22 400.85,338.68 400.90,340.13 400.95,341.58 400.99,343.05 401.04,344.51 401.08,345.97 401.13,347.45 401.17,348.93 401.21,350.41 401.25,351.90 401.29,353.39 401.33,354.88 401.37,356.38 401.41,357.87 401.45,359.37 401.49,360.85 401.53,362.34 401.57,363.83 401.60,365.30 401.64,366.77 401.68,368.24 401.72,369.67 401.75,371.11 401.79,372.55 401.83,373.95 401.87,375.34 401.91,376.74 401.94,378.08 401.98,379.43 402.02,380.77 402.06,382.06 402.11,383.34 402.15,384.63 402.19,385.87 402.24,387.11 402.28,388.35 402.34,389.57 402.39,390.78 402.44,392.00 402.50,393.20 402.56,394.40 402.62,395.61 402.69,396.82 402.76,398.02 402.84,399.23 402.92,400.46 403.00,401.69 403.09,402.91 403.18,404.17 403.28,405.42 403.38,406.67 403.49,407.93 403.59,409.20 403.70,410.46 403.82,411.71 403.93,412.97 404.05,414.22 404.17,415.46 404.29,416.69 404.42,417.92 404.60,419.71 404.79,421.50 404.98,423.21 405.17,424.91 405.36,426.53 405.56,428.15 405.77,429.70 405.99,431.25 406.24,432.74 406.48,434.23 406.78,435.69 407.08,437.14 407.44,438.58 407.80,440.01 408.22,441.43 408.65,442.85 409.14,444.24 409.64,445.64 410.19,447.02 410.75,448.39 411.37,449.73 411.99,451.08 412.67,452.39 413.35,453.70 414.10,454.97 414.84,456.24 415.66,457.47 416.47,458.70 417.35,459.87 418.24,461.05 419.20,462.18 420.16,463.30 421.20,464.36 422.24,465.42 423.34,466.41 424.45,467.40 425.63,468.30 426.80,469.21 428.04,470.01 429.27,470.81 430.56,471.49 431.84,472.18 433.18,472.76 434.51,473.34 435.89,473.84 437.27,474.34 438.69,474.79 440.10,474.74 441.56,475.15 443.02,476.66 444.51,476.40 446.00,476.87 447.52,477.06 449.03,477.42 450.58,477.48 452.12,478.53 453.68,478.92 455.24,478.62 456.82,479.23 458.39,479.66 459.97,480.17 461.56,480.54 463.14,481.05 464.73,481.38 466.32,481.50 467.90,481.79 469.49,481.22 471.07,481.58 472.64,482.23 474.22,482.12 475.78,482.16 477.34,481.68 478.92,481.81 480.49,482.69 482.11,482.67 483.72,482.58 485.41,482.66 487.10,482.38 488.89,483.16 490.69,483.50 491.97,483.81 493.26,483.46 494.54,483.51 495.92,483.40 497.30,484.26 498.68,484.56 500.14,484.05 501.60,484.51 503.05,484.64 504.57,484.64 506.09,484.27 507.61,485.11 509.17,485.61 510.72,485.21 512.28,485.61 513.87,485.09 515.45,486.67 517.03,486.65 518.23,486.67 519.42,486.73 520.61,486.77 521.80,487.10 523.38,487.22 524.96,487.43 526.53,487.69 528.09,487.91 529.64,488.51 531.20,487.78 532.73,488.45 534.26,488.34 535.80,488.34 537.31,488.11 538.83,489.14 540.35,488.80 541.85,489.00 543.36,489.49 544.86,489.15 546.36,489.60 547.86,489.69 549.36,490.07 550.85,490.24 552.35,489.79 553.85,490.44 555.34,490.24 556.84,490.41 558.34,490.42 559.84,490.82 561.35,490.32 562.85,490.87 564.36,491.25 565.87,490.92 567.38,491.71 568.90,490.99 570.41,491.38 571.93,491.27 573.44,491.34 574.96,491.29 576.48,491.57 578.00,491.82 579.52,491.70 581.04,492.31 582.55,492.61 584.07,491.81 585.59,492.62 587.11,492.54 588.63,492.67 590.14,493.44 591.66,493.18 593.17,493.03 594.69,493.10 596.20,492.51 597.71,493.51 599.22,493.17 600.73,493.56 602.25,493.65 603.76,494.02 605.27,494.46 606.78,494.26 608.30,494.46 609.81,494.11 611.33,494.43 612.84,494.63 614.36,494.06 615.88,495.21 617.40,494.48 618.92,494.41 620.45,495.37 621.98,495.61 623.51,494.84 625.04,494.95 626.57,496.15 628.11,495.32 629.65,494.76 631.19,495.24 632.73,496.08 634.27,495.74 635.80,495.82 637.34,496.01 638.87,495.90 640.40,495.64 641.93,495.31 643.45,495.96 644.97,495.53 646.48,495.88 647.99,496.46 649.49,496.13 650.98,496.01 652.46,496.04 653.95,496.27 655.41,496.35 656.87,495.70 658.33,496.17 659.75,496.65 661.18,496.38 662.61,495.94 664.00,495.99 665.39,495.59 666.77,495.98 668.12,496.72 669.47,496.23 670.81,496.01 672.11,496.11 673.41,496.26 674.71,496.28 675.95,496.22 677.20,496.11 678.44,496.54 680.22,496.84 682.00,496.23" fill="none" stroke="#ff0000" stroke-width="1.9" stroke-linejoin="round" stroke-linecap="round" />
<rect x="397.60" y="286.00" width="284.40" height="229.00" fill="none" stroke="#000" stroke-width="1.8"/>
<line x1="397.60" y1="515.00" x2="397.60" y2="518.80" stroke="#000" stroke-width="1.6" />
<line x1="397.60" y1="286.00" x2="397.60" y2="289.80" stroke="#000" stroke-width="1.6" />
<line x1="478.67" y1="515.00" x2="478.67" y2="518.80" stroke="#000" stroke-width="1.6" />
<line x1="478.67" y1="286.00" x2="478.67" y2="289.80" stroke="#000" stroke-width="1.6" />
<line x1="559.74" y1="515.00" x2="559.74" y2="518.80" stroke="#000" stroke-width="1.6" />
<line x1="559.74" y1="286.00" x2="559.74" y2="289.80" stroke="#000" stroke-width="1.6" />
<line x1="640.81" y1="515.00" x2="640.81" y2="518.80" stroke="#000" stroke-width="1.6" />
<line x1="640.81" y1="286.00" x2="640.81" y2="289.80" stroke="#000" stroke-width="1.6" />
<line x1="438.13" y1="515.00" x2="438.13" y2="517.00" stroke="#000" stroke-width="1.6" />
<line x1="438.13" y1="286.00" x2="438.13" y2="288.00" stroke="#000" stroke-width="1.6" />
<line x1="519.21" y1="515.00" x2="519.21" y2="517.00" stroke="#000" stroke-width="1.6" />
<line x1="519.21" y1="286.00" x2="519.21" y2="288.00" stroke="#000" stroke-width="1.6" />
<line x1="600.27" y1="515.00" x2="600.27" y2="517.00" stroke="#000" stroke-width="1.6" />
<line x1="600.27" y1="286.00" x2="600.27" y2="288.00" stroke="#000" stroke-width="1.6" />
<line x1="681.35" y1="515.00" x2="681.35" y2="517.00" stroke="#000" stroke-width="1.6" />
<line x1="681.35" y1="286.00" x2="681.35" y2="288.00" stroke="#000" stroke-width="1.6" />
<line x1="397.60" y1="508.20" x2="393.80" y2="508.20" stroke="#000" stroke-width="1.6" />
<line x1="682.00" y1="508.20" x2="678.20" y2="508.20" stroke="#000" stroke-width="1.6" />
<line x1="397.60" y1="434.20" x2="393.80" y2="434.20" stroke="#000" stroke-width="1.6" />
<line x1="682.00" y1="434.20" x2="678.20" y2="434.20" stroke="#000" stroke-width="1.6" />
<line x1="397.60" y1="360.20" x2="393.80" y2="360.20" stroke="#000" stroke-width="1.6" />
<line x1="682.00" y1="360.20" x2="678.20" y2="360.20" stroke="#000" stroke-width="1.6" />
<line x1="397.60" y1="286.20" x2="393.80" y2="286.20" stroke="#000" stroke-width="1.6" />
<line x1="682.00" y1="286.20" x2="678.20" y2="286.20" stroke="#000" stroke-width="1.6" />
<line x1="397.60" y1="471.20" x2="395.60" y2="471.20" stroke="#000" stroke-width="1.6" />
<line x1="682.00" y1="471.20" x2="680.00" y2="471.20" stroke="#000" stroke-width="1.6" />
<line x1="397.60" y1="397.20" x2="395.60" y2="397.20" stroke="#000" stroke-width="1.6" />
<line x1="682.00" y1="397.20" x2="680.00" y2="397.20" stroke="#000" stroke-width="1.6" />
<line x1="397.60" y1="323.20" x2="395.60" y2="323.20" stroke="#000" stroke-width="1.6" />
<line x1="682.00" y1="323.20" x2="680.00" y2="323.20" stroke="#000" stroke-width="1.6" />
<text transform="translate(389.90,289.10) scale(0.95,1)" font-family='"Liberation Sans", sans-serif' font-size="10.5" text-anchor="end" fill="#2a2a2a">0,25</text>
<text transform="translate(389.90,363.10) scale(0.95,1)" font-family='"Liberation Sans", sans-serif' font-size="10.5" text-anchor="end" fill="#2a2a2a">0,20</text>
<text transform="translate(389.90,437.10) scale(0.95,1)" font-family='"Liberation Sans", sans-serif' font-size="10.5" text-anchor="end" fill="#2a2a2a">0,15</text>
<text transform="translate(389.90,511.10) scale(0.95,1)" font-family='"Liberation Sans", sans-serif' font-size="10.5" text-anchor="end" fill="#2a2a2a">0,10</text>
<text transform="translate(397.60,530.70) scale(0.98,1)" font-family='"Liberation Sans", sans-serif' font-size="10.5" text-anchor="middle" fill="#2a2a2a">0</text>
<text transform="translate(478.67,530.70) scale(0.98,1)" font-family='"Liberation Sans", sans-serif' font-size="10.5" text-anchor="middle" fill="#2a2a2a">100</text>
<text transform="translate(559.74,530.70) scale(0.98,1)" font-family='"Liberation Sans", sans-serif' font-size="10.5" text-anchor="middle" fill="#2a2a2a">200</text>
<text transform="translate(640.81,530.70) scale(0.98,1)" font-family='"Liberation Sans", sans-serif' font-size="10.5" text-anchor="middle" fill="#2a2a2a">300</text>
<text x="540.20" y="549.00" font-family='"Liberation Sans", sans-serif' font-size="14" font-weight="bold" text-anchor="middle" fill="#000" >Temperature (K)</text>
<text transform="translate(363.2,399.9) rotate(-90)" font-family='"Liberation Sans", sans-serif' font-size="14" font-weight="bold" text-anchor="middle" fill="#000">M (Am<tspan dy="-5.5" font-size="10">2</tspan><tspan dy="5.5">/kg)</tspan></text>
<text x="345.50" y="299.30" font-family='"Liberation Serif", serif' font-size="20.6" font-weight="bold" text-anchor="start" fill="#000" >D)</text>
<text x="422.30" y="500.80" font-family='"Liberation Sans", sans-serif' font-size="11.2" font-weight="normal" text-anchor="start" fill="#1a1a1a" >ZFC 10kOe</text>
<text x="603.50" y="479.20" font-family='"Liberation Sans", sans-serif' font-size="11.2" font-weight="normal" text-anchor="start" fill="#1a1a1a" >FC 10kOe</text>
</svg>
</body></html>
